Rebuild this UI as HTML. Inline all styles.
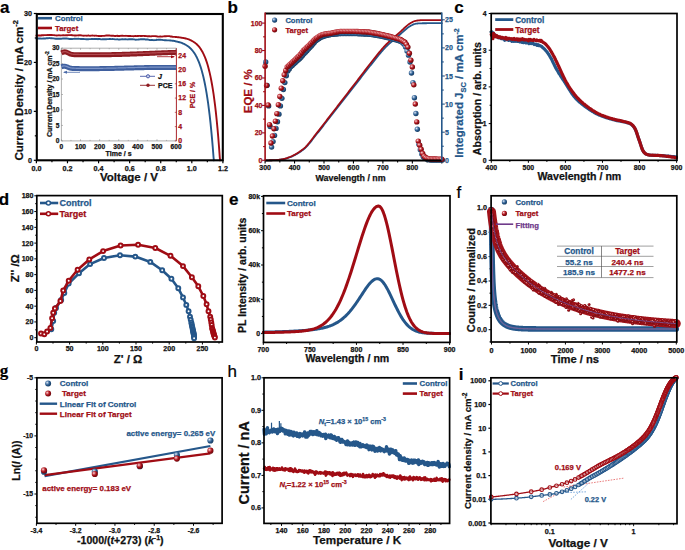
<!DOCTYPE html>
<html><head><meta charset="utf-8"><style>
html,body{margin:0;padding:0;background:#fff;width:685px;height:550px;overflow:hidden}
svg{display:block}
text{font-family:"Liberation Sans",sans-serif}
</style></head><body>
<svg width="685" height="550" viewBox="0 0 685 550" font-family="Liberation Sans, sans-serif">
<defs>
<radialGradient id="bB" cx="0.35" cy="0.35" r="0.7"><stop offset="0" stop-color="#e6eef8"/><stop offset="0.3" stop-color="#6f93bb"/><stop offset="0.6" stop-color="#25578a"/><stop offset="1" stop-color="#173a5e"/></radialGradient>
<radialGradient id="bR2" cx="0.35" cy="0.35" r="0.6"><stop offset="0" stop-color="#f0c0c0"/><stop offset="0.35" stop-color="#a00c14"/><stop offset="1" stop-color="#7a1014"/></radialGradient>
<radialGradient id="bR" cx="0.35" cy="0.35" r="0.7"><stop offset="0" stop-color="#fbe4e4"/><stop offset="0.3" stop-color="#d0565c"/><stop offset="0.6" stop-color="#a00c14"/><stop offset="1" stop-color="#650a0e"/></radialGradient>
</defs>
<rect width="685" height="550" fill="#fff"/>
<text x="0.1" y="12.6" font-size="17" text-anchor="start" fill="#000" font-weight="bold" stroke="#000" stroke-width="0.2">a</text>
<text x="227.6" y="12.6" font-size="17" text-anchor="start" fill="#000" font-weight="bold" stroke="#000" stroke-width="0.2">b</text>
<text x="454.2" y="12.7" font-size="17" text-anchor="start" fill="#000" font-weight="bold" stroke="#000" stroke-width="0.2">c</text>
<text x="-1.3" y="205.4" font-size="17" text-anchor="start" fill="#000" font-weight="bold" stroke="#000" stroke-width="0.2">d</text>
<text x="228.9" y="205.3" font-size="17" text-anchor="start" fill="#000" font-weight="bold" stroke="#000" stroke-width="0.2">e</text>
<text x="456.5" y="197.5" font-size="17" text-anchor="start" fill="#000" font-weight="normal" stroke="#000" stroke-width="0.2">f</text>
<text x="-0.3" y="376" font-size="17" text-anchor="start" fill="#000" font-weight="bold" stroke="#000" stroke-width="0.2" style="font-family:Liberation Serif">g</text>
<text x="227.6" y="377.2" font-size="17" text-anchor="start" fill="#000" font-weight="normal" stroke="#000" stroke-width="0.2">h</text>
<text x="458.7" y="379.6" font-size="17" text-anchor="start" fill="#000" font-weight="bold" stroke="#000" stroke-width="0.2">i</text>
<line x1="36.4" y1="160.3" x2="36.4" y2="163.3" stroke="#000" stroke-width="1.2" />
<line x1="51.94" y1="160.3" x2="51.94" y2="162.3" stroke="#000" stroke-width="1.2" />
<line x1="67.48" y1="160.3" x2="67.48" y2="163.3" stroke="#000" stroke-width="1.2" />
<line x1="83.03" y1="160.3" x2="83.03" y2="162.3" stroke="#000" stroke-width="1.2" />
<line x1="98.57" y1="160.3" x2="98.57" y2="163.3" stroke="#000" stroke-width="1.2" />
<line x1="114.11" y1="160.3" x2="114.11" y2="162.3" stroke="#000" stroke-width="1.2" />
<line x1="129.65" y1="160.3" x2="129.65" y2="163.3" stroke="#000" stroke-width="1.2" />
<line x1="145.19" y1="160.3" x2="145.19" y2="162.3" stroke="#000" stroke-width="1.2" />
<line x1="160.73" y1="160.3" x2="160.73" y2="163.3" stroke="#000" stroke-width="1.2" />
<line x1="176.28" y1="160.3" x2="176.28" y2="162.3" stroke="#000" stroke-width="1.2" />
<line x1="191.82" y1="160.3" x2="191.82" y2="163.3" stroke="#000" stroke-width="1.2" />
<line x1="207.36" y1="160.3" x2="207.36" y2="162.3" stroke="#000" stroke-width="1.2" />
<line x1="222.9" y1="160.3" x2="222.9" y2="163.3" stroke="#000" stroke-width="1.2" />
<line x1="36.8" y1="160.3" x2="33.8" y2="160.3" stroke="#000" stroke-width="1.2" />
<line x1="36.8" y1="135.83" x2="34.8" y2="135.83" stroke="#000" stroke-width="1.2" />
<line x1="36.8" y1="111.37" x2="33.8" y2="111.37" stroke="#000" stroke-width="1.2" />
<line x1="36.8" y1="86.9" x2="34.8" y2="86.9" stroke="#000" stroke-width="1.2" />
<line x1="36.8" y1="62.43" x2="33.8" y2="62.43" stroke="#000" stroke-width="1.2" />
<line x1="36.8" y1="37.97" x2="34.8" y2="37.97" stroke="#000" stroke-width="1.2" />
<line x1="36.8" y1="13.5" x2="33.8" y2="13.5" stroke="#000" stroke-width="1.2" />
<text x="36.4" y="170.8" font-size="7.2" text-anchor="middle" fill="#111" font-weight="bold" stroke="#111" stroke-width="0.25">0.0</text>
<text x="67.48" y="170.8" font-size="7.2" text-anchor="middle" fill="#111" font-weight="bold" stroke="#111" stroke-width="0.25">0.2</text>
<text x="98.57" y="170.8" font-size="7.2" text-anchor="middle" fill="#111" font-weight="bold" stroke="#111" stroke-width="0.25">0.4</text>
<text x="129.65" y="170.8" font-size="7.2" text-anchor="middle" fill="#111" font-weight="bold" stroke="#111" stroke-width="0.25">0.6</text>
<text x="160.73" y="170.8" font-size="7.2" text-anchor="middle" fill="#111" font-weight="bold" stroke="#111" stroke-width="0.25">0.8</text>
<text x="191.82" y="170.8" font-size="7.2" text-anchor="middle" fill="#111" font-weight="bold" stroke="#111" stroke-width="0.25">1.0</text>
<text x="222.9" y="170.8" font-size="7.2" text-anchor="middle" fill="#111" font-weight="bold" stroke="#111" stroke-width="0.25">1.2</text>
<text x="32" y="162.8" font-size="7.2" text-anchor="end" fill="#111" font-weight="bold" stroke="#111" stroke-width="0.25">0</text>
<text x="32" y="113.87" font-size="7.2" text-anchor="end" fill="#111" font-weight="bold" stroke="#111" stroke-width="0.25">10</text>
<text x="32" y="64.93" font-size="7.2" text-anchor="end" fill="#111" font-weight="bold" stroke="#111" stroke-width="0.25">20</text>
<text x="32" y="16" font-size="7.2" text-anchor="end" fill="#111" font-weight="bold" stroke="#111" stroke-width="0.25">30</text>
<text x="129" y="180.8" font-size="11.5" text-anchor="middle" fill="#111" font-weight="bold" stroke="#111" stroke-width="0.25">Voltage / V</text>
<text x="22.8" y="90.4" font-size="11.5" text-anchor="middle" fill="#111" font-weight="bold" stroke="#111" stroke-width="0.25" transform="rotate(-90 22.8 90.4)">Current Density / mA cm<tspan dy="-5" font-size="7.5">-2</tspan></text>
<path d="M36.4,38.46 L37.18,38.53 L37.95,38.57 L38.73,38.51 L39.51,38.55 L40.29,38.56 L41.06,38.68 L41.84,38.57 L42.62,38.63 L43.39,38.54 L44.17,38.45 L44.95,38.51 L45.72,38.44 L46.5,38.27 L47.28,38.23 L48.06,38.22 L48.83,38.1 L49.61,38.07 L50.39,38.18 L51.16,38.22 L51.94,38.26 L52.72,38.34 L53.5,38.43 L54.27,38.52 L55.05,38.58 L55.83,38.73 L56.6,38.8 L57.38,38.73 L58.16,38.7 L58.94,38.78 L59.71,38.78 L60.49,38.81 L61.27,38.76 L62.04,38.68 L62.82,38.56 L63.6,38.47 L64.38,38.54 L65.15,38.56 L65.93,38.5 L66.71,38.53 L67.48,38.68 L68.26,38.77 L69.04,38.86 L69.81,39.05 L70.59,38.96 L71.37,38.97 L72.15,39.07 L72.92,38.86 L73.7,38.84 L74.48,38.79 L75.25,38.82 L76.03,38.73 L76.81,38.83 L77.59,38.82 L78.36,38.73 L79.14,38.89 L79.92,38.87 L80.69,38.93 L81.47,38.85 L82.25,38.96 L83.03,39.01 L83.8,38.98 L84.58,39.09 L85.36,39.14 L86.13,39.27 L86.91,39.14 L87.69,39.24 L88.46,39.21 L89.24,39.17 L90.02,39.12 L90.8,39.17 L91.57,39.01 L92.35,38.93 L93.13,39.13 L93.9,38.97 L94.68,38.93 L95.46,38.86 L96.24,38.95 L97.01,38.97 L97.79,39.2 L98.57,39.05 L99.34,38.93 L100.12,39.09 L100.9,39.23 L101.68,39.35 L102.45,39.29 L103.23,39.22 L104.01,39.09 L104.78,39.2 L105.56,39.2 L106.34,39.18 L107.11,39.11 L107.89,39.08 L108.67,39.12 L109.45,39.02 L110.22,39 L111,39.1 L111.78,39.14 L112.55,39.03 L113.33,39.11 L114.11,39.15 L114.89,39.32 L115.66,39.42 L116.44,39.42 L117.22,39.25 L117.99,39.36 L118.77,39.64 L119.55,39.5 L120.33,39.43 L121.1,39.34 L121.88,39.29 L122.66,39.31 L123.43,39.39 L124.21,39.32 L124.99,39.23 L125.76,39.29 L126.54,39.41 L127.32,39.35 L128.1,39.43 L128.87,39.31 L129.65,39.25 L130.43,39.3 L131.2,39.19 L131.98,39.24 L132.76,39.22 L133.54,39.35 L134.31,39.39 L135.09,39.61 L135.87,39.7 L136.64,39.61 L137.42,39.61 L138.2,39.55 L138.97,39.45 L139.75,39.33 L140.53,39.28 L141.31,39.24 L142.08,39.24 L142.86,39.16 L143.64,39.22 L144.41,39.28 L145.19,39.44 L145.97,39.53 L146.75,39.5 L147.52,39.45 L148.3,39.62 L149.08,39.81 L149.85,39.95 L150.63,40.1 L151.41,39.98 L152.19,39.99 L152.96,40.08 L153.74,40.18 L154.52,40.1 L155.29,40.09 L156.07,40 L156.85,39.78 L157.62,39.85 L158.4,39.8 L159.18,39.8 L159.96,39.76 L160.73,39.8 L161.51,39.88 L162.29,39.92 L163.06,40.08 L163.84,40.14 L164.62,40.21 L165.4,40.24 L166.17,40.29 L166.95,40.33 L167.73,40.33 L168.5,40.42 L169.28,40.38 L170.06,40.51 L170.84,40.57 L171.61,40.63 L172.39,40.75 L173.17,40.79 L173.94,40.93 L174.72,40.98 L175.5,41.31 L176.28,41.46 L177.05,41.63 L177.83,41.8 L178.61,42 L179.38,42.21 L180.16,42.44 L180.94,42.69 L181.71,42.96 L182.49,43.26 L183.27,43.58 L184.05,43.93 L184.82,44.32 L185.6,44.74 L186.38,45.2 L187.15,45.7 L187.93,46.24 L188.71,46.84 L189.49,47.49 L190.26,48.19 L191.04,48.97 L191.82,49.81 L192.59,50.73 L193.37,51.74 L194.15,52.84 L194.93,54.04 L195.7,55.35 L196.48,56.78 L197.26,58.34 L198.03,60.04 L198.81,61.9 L199.59,63.94 L200.36,66.16 L201.14,68.58 L201.92,71.23 L202.7,74.13 L203.47,77.29 L204.25,80.74 L205.03,84.51 L205.8,88.63 L206.58,93.13 L207.36,98.04 L208.14,103.41 L208.91,109.27 L209.69,115.67 L210.47,122.67 L211.24,130.31 L212.02,138.66 L212.8,147.78 L213.58,157.74 L213.89,160.3" fill="none" stroke="#25578a" stroke-width="1.9" stroke-linejoin="round" stroke-linecap="round" />
<path d="M36.4,35.53 L37.18,35.44 L37.95,35.42 L38.73,35.47 L39.51,35.43 L40.29,35.42 L41.06,35.49 L41.84,35.25 L42.62,35.23 L43.39,35.28 L44.17,35.15 L44.95,35.16 L45.72,35.16 L46.5,35.13 L47.28,35.06 L48.06,35.13 L48.83,34.95 L49.61,34.91 L50.39,35.03 L51.16,34.99 L51.94,34.99 L52.72,35.08 L53.5,35.08 L54.27,35.11 L55.05,35.35 L55.83,35.42 L56.6,35.43 L57.38,35.43 L58.16,35.34 L58.94,35.29 L59.71,35.38 L60.49,35.43 L61.27,35.33 L62.04,35.35 L62.82,35.3 L63.6,35.28 L64.38,35.32 L65.15,35.4 L65.93,35.17 L66.71,35.26 L67.48,35.25 L68.26,35.11 L69.04,35.13 L69.81,35.09 L70.59,35.16 L71.37,35.06 L72.15,35.22 L72.92,35.4 L73.7,35.35 L74.48,35.5 L75.25,35.5 L76.03,35.56 L76.81,35.41 L77.59,35.42 L78.36,35.43 L79.14,35.16 L79.92,35.39 L80.69,35.32 L81.47,35.36 L82.25,35.58 L83.03,35.66 L83.8,35.69 L84.58,35.66 L85.36,35.67 L86.13,35.61 L86.91,35.68 L87.69,35.62 L88.46,35.42 L89.24,35.69 L90.02,35.86 L90.8,35.66 L91.57,35.66 L92.35,35.54 L93.13,35.58 L93.9,35.63 L94.68,35.77 L95.46,35.65 L96.24,35.63 L97.01,35.86 L97.79,35.88 L98.57,35.98 L99.34,36.03 L100.12,36.1 L100.9,35.93 L101.68,35.96 L102.45,35.92 L103.23,35.9 L104.01,35.85 L104.78,35.79 L105.56,35.65 L106.34,35.41 L107.11,35.52 L107.89,35.47 L108.67,35.45 L109.45,35.54 L110.22,35.64 L111,35.72 L111.78,35.59 L112.55,35.79 L113.33,35.76 L114.11,35.85 L114.89,36.01 L115.66,36.05 L116.44,35.93 L117.22,35.74 L117.99,35.98 L118.77,36.01 L119.55,36.05 L120.33,35.93 L121.1,35.81 L121.88,35.59 L122.66,35.72 L123.43,35.87 L124.21,35.86 L124.99,35.9 L125.76,35.82 L126.54,35.86 L127.32,35.85 L128.1,36.03 L128.87,36.04 L129.65,36.04 L130.43,35.98 L131.2,36.09 L131.98,36.09 L132.76,36.15 L133.54,36.19 L134.31,36.1 L135.09,36.01 L135.87,36.07 L136.64,36.14 L137.42,36.06 L138.2,35.98 L138.97,35.87 L139.75,35.84 L140.53,36.02 L141.31,35.9 L142.08,35.93 L142.86,35.88 L143.64,35.88 L144.41,35.94 L145.19,36.03 L145.97,36.16 L146.75,36.07 L147.52,36.3 L148.3,36.3 L149.08,36.3 L149.85,36.31 L150.63,36.35 L151.41,36.27 L152.19,36.15 L152.96,36.12 L153.74,36.16 L154.52,36.14 L155.29,36.17 L156.07,36.25 L156.85,36.35 L157.62,36.53 L158.4,36.59 L159.18,36.61 L159.96,36.54 L160.73,36.54 L161.51,36.67 L162.29,36.58 L163.06,36.42 L163.84,36.34 L164.62,36.2 L165.4,36.25 L166.17,36.21 L166.95,36.17 L167.73,36.13 L168.5,36.15 L169.28,36.17 L170.06,36.26 L170.84,36.58 L171.61,36.49 L172.39,36.77 L173.17,36.86 L173.94,36.87 L174.72,36.91 L175.5,36.96 L176.28,37.03 L177.05,37.1 L177.83,37.18 L178.61,37.26 L179.38,37.36 L180.16,37.46 L180.94,37.57 L181.71,37.69 L182.49,37.82 L183.27,37.97 L184.05,38.13 L184.82,38.3 L185.6,38.49 L186.38,38.69 L187.15,38.92 L187.93,39.17 L188.71,39.44 L189.49,39.73 L190.26,40.06 L191.04,40.41 L191.82,40.8 L192.59,41.22 L193.37,41.69 L194.15,42.2 L194.93,42.75 L195.7,43.37 L196.48,44.04 L197.26,44.77 L198.03,45.58 L198.81,46.46 L199.59,47.43 L200.36,48.49 L201.14,49.65 L201.92,50.93 L202.7,52.33 L203.47,53.86 L204.25,55.54 L205.03,57.39 L205.8,59.41 L206.58,61.63 L207.36,64.06 L208.14,66.73 L208.91,69.66 L209.69,72.87 L210.47,76.39 L211.24,80.25 L212.02,84.49 L212.8,89.13 L213.58,94.23 L214.35,99.82 L215.13,105.96 L215.91,112.68 L216.68,120.07 L217.46,128.16 L218.24,137.04 L219.01,146.79 L219.79,157.48 L220.1,160.3" fill="none" stroke="#a00c14" stroke-width="1.9" stroke-linejoin="round" stroke-linecap="round" />
<line x1="38" y1="18.2" x2="52" y2="18.2" stroke="#25578a" stroke-width="2.6" />
<text x="55" y="21.2" font-size="7.8" text-anchor="start" fill="#25578a" font-weight="bold" stroke="#25578a" stroke-width="0.25">Control</text>
<line x1="38" y1="28" x2="52" y2="28" stroke="#a00c14" stroke-width="2.6" />
<text x="55" y="31.1" font-size="7.8" text-anchor="start" fill="#a00c14" font-weight="bold" stroke="#a00c14" stroke-width="0.25">Target</text>
<rect x="61.4" y="48.2" width="115.0" height="92.7" fill="#fff" stroke="none"/>
<line x1="61.4" y1="48.2" x2="176.4" y2="48.2" stroke="#999" stroke-width="0.8" />
<line x1="61.4" y1="140.9" x2="176.4" y2="140.9" stroke="#999" stroke-width="0.8" />
<line x1="61.4" y1="48.2" x2="61.4" y2="140.9" stroke="#999" stroke-width="0.8" />
<line x1="176.4" y1="48.2" x2="176.4" y2="140.9" stroke="#a00c14" stroke-width="0.9" />
<line x1="61.4" y1="140.9" x2="61.4" y2="139.3" stroke="#888" stroke-width="0.6" />
<line x1="61.4" y1="48.2" x2="61.4" y2="49.8" stroke="#888" stroke-width="0.6" />
<line x1="70.96" y1="140.9" x2="70.96" y2="139.9" stroke="#888" stroke-width="0.6" />
<line x1="70.96" y1="48.2" x2="70.96" y2="49.2" stroke="#888" stroke-width="0.6" />
<line x1="80.52" y1="140.9" x2="80.52" y2="139.3" stroke="#888" stroke-width="0.6" />
<line x1="80.52" y1="48.2" x2="80.52" y2="49.8" stroke="#888" stroke-width="0.6" />
<line x1="90.08" y1="140.9" x2="90.08" y2="139.9" stroke="#888" stroke-width="0.6" />
<line x1="90.08" y1="48.2" x2="90.08" y2="49.2" stroke="#888" stroke-width="0.6" />
<line x1="99.63" y1="140.9" x2="99.63" y2="139.3" stroke="#888" stroke-width="0.6" />
<line x1="99.63" y1="48.2" x2="99.63" y2="49.8" stroke="#888" stroke-width="0.6" />
<line x1="109.19" y1="140.9" x2="109.19" y2="139.9" stroke="#888" stroke-width="0.6" />
<line x1="109.19" y1="48.2" x2="109.19" y2="49.2" stroke="#888" stroke-width="0.6" />
<line x1="118.75" y1="140.9" x2="118.75" y2="139.3" stroke="#888" stroke-width="0.6" />
<line x1="118.75" y1="48.2" x2="118.75" y2="49.8" stroke="#888" stroke-width="0.6" />
<line x1="128.31" y1="140.9" x2="128.31" y2="139.9" stroke="#888" stroke-width="0.6" />
<line x1="128.31" y1="48.2" x2="128.31" y2="49.2" stroke="#888" stroke-width="0.6" />
<line x1="137.87" y1="140.9" x2="137.87" y2="139.3" stroke="#888" stroke-width="0.6" />
<line x1="137.87" y1="48.2" x2="137.87" y2="49.8" stroke="#888" stroke-width="0.6" />
<line x1="147.42" y1="140.9" x2="147.42" y2="139.9" stroke="#888" stroke-width="0.6" />
<line x1="147.42" y1="48.2" x2="147.42" y2="49.2" stroke="#888" stroke-width="0.6" />
<line x1="156.98" y1="140.9" x2="156.98" y2="139.3" stroke="#888" stroke-width="0.6" />
<line x1="156.98" y1="48.2" x2="156.98" y2="49.8" stroke="#888" stroke-width="0.6" />
<line x1="166.54" y1="140.9" x2="166.54" y2="139.9" stroke="#888" stroke-width="0.6" />
<line x1="166.54" y1="48.2" x2="166.54" y2="49.2" stroke="#888" stroke-width="0.6" />
<line x1="176.1" y1="140.9" x2="176.1" y2="139.3" stroke="#888" stroke-width="0.6" />
<line x1="176.1" y1="48.2" x2="176.1" y2="49.8" stroke="#888" stroke-width="0.6" />
<text x="61.4" y="148.6" font-size="6.6" text-anchor="middle" fill="#111" font-weight="bold" stroke="#111" stroke-width="0.25">0</text>
<line x1="61.4" y1="140.9" x2="63" y2="140.9" stroke="#888" stroke-width="0.6" />
<text x="59.5" y="143.2" font-size="6.6" text-anchor="end" fill="#111" font-weight="bold" stroke="#111" stroke-width="0.25">0</text>
<text x="80.52" y="148.6" font-size="6.6" text-anchor="middle" fill="#111" font-weight="bold" stroke="#111" stroke-width="0.25">100</text>
<line x1="61.4" y1="125.43" x2="63" y2="125.43" stroke="#888" stroke-width="0.6" />
<text x="59.5" y="127.73" font-size="6.6" text-anchor="end" fill="#111" font-weight="bold" stroke="#111" stroke-width="0.25">5</text>
<text x="99.63" y="148.6" font-size="6.6" text-anchor="middle" fill="#111" font-weight="bold" stroke="#111" stroke-width="0.25">200</text>
<line x1="61.4" y1="109.97" x2="63" y2="109.97" stroke="#888" stroke-width="0.6" />
<text x="59.5" y="112.27" font-size="6.6" text-anchor="end" fill="#111" font-weight="bold" stroke="#111" stroke-width="0.25">10</text>
<text x="118.75" y="148.6" font-size="6.6" text-anchor="middle" fill="#111" font-weight="bold" stroke="#111" stroke-width="0.25">300</text>
<line x1="61.4" y1="94.5" x2="63" y2="94.5" stroke="#888" stroke-width="0.6" />
<text x="59.5" y="96.8" font-size="6.6" text-anchor="end" fill="#111" font-weight="bold" stroke="#111" stroke-width="0.25">15</text>
<text x="137.87" y="148.6" font-size="6.6" text-anchor="middle" fill="#111" font-weight="bold" stroke="#111" stroke-width="0.25">400</text>
<line x1="61.4" y1="79.03" x2="63" y2="79.03" stroke="#888" stroke-width="0.6" />
<text x="59.5" y="81.33" font-size="6.6" text-anchor="end" fill="#111" font-weight="bold" stroke="#111" stroke-width="0.25">20</text>
<text x="156.98" y="148.6" font-size="6.6" text-anchor="middle" fill="#111" font-weight="bold" stroke="#111" stroke-width="0.25">500</text>
<line x1="61.4" y1="63.57" x2="63" y2="63.57" stroke="#888" stroke-width="0.6" />
<text x="59.5" y="65.87" font-size="6.6" text-anchor="end" fill="#111" font-weight="bold" stroke="#111" stroke-width="0.25">25</text>
<text x="176.1" y="148.6" font-size="6.6" text-anchor="middle" fill="#111" font-weight="bold" stroke="#111" stroke-width="0.25">600</text>
<line x1="61.4" y1="48.1" x2="63" y2="48.1" stroke="#888" stroke-width="0.6" />
<text x="59.5" y="50.4" font-size="6.6" text-anchor="end" fill="#111" font-weight="bold" stroke="#111" stroke-width="0.25">30</text>
<line x1="176.4" y1="140.9" x2="174.8" y2="140.9" stroke="#a00c14" stroke-width="0.6" />
<text x="178.3" y="143.3" font-size="6.9" text-anchor="start" fill="#a00c14" font-weight="bold" stroke="#a00c14" stroke-width="0.25">0</text>
<line x1="176.4" y1="126.62" x2="174.8" y2="126.62" stroke="#a00c14" stroke-width="0.6" />
<text x="178.3" y="129.02" font-size="6.9" text-anchor="start" fill="#a00c14" font-weight="bold" stroke="#a00c14" stroke-width="0.25">4</text>
<line x1="176.4" y1="112.35" x2="174.8" y2="112.35" stroke="#a00c14" stroke-width="0.6" />
<text x="178.3" y="114.75" font-size="6.9" text-anchor="start" fill="#a00c14" font-weight="bold" stroke="#a00c14" stroke-width="0.25">8</text>
<line x1="176.4" y1="98.07" x2="174.8" y2="98.07" stroke="#a00c14" stroke-width="0.6" />
<text x="178.3" y="100.47" font-size="6.9" text-anchor="start" fill="#a00c14" font-weight="bold" stroke="#a00c14" stroke-width="0.25">12</text>
<line x1="176.4" y1="83.79" x2="174.8" y2="83.79" stroke="#a00c14" stroke-width="0.6" />
<text x="178.3" y="86.19" font-size="6.9" text-anchor="start" fill="#a00c14" font-weight="bold" stroke="#a00c14" stroke-width="0.25">16</text>
<line x1="176.4" y1="69.52" x2="174.8" y2="69.52" stroke="#a00c14" stroke-width="0.6" />
<text x="178.3" y="71.92" font-size="6.9" text-anchor="start" fill="#a00c14" font-weight="bold" stroke="#a00c14" stroke-width="0.25">20</text>
<line x1="176.4" y1="55.24" x2="174.8" y2="55.24" stroke="#a00c14" stroke-width="0.6" />
<text x="178.3" y="57.64" font-size="6.9" text-anchor="start" fill="#a00c14" font-weight="bold" stroke="#a00c14" stroke-width="0.25">24</text>
<text x="118.6" y="156" font-size="7" text-anchor="middle" fill="#111" font-weight="bold" stroke="#111" stroke-width="0.25">Time / s</text>
<text x="51.6" y="94.1" font-size="7" text-anchor="middle" fill="#111" font-weight="bold" stroke="#111" stroke-width="0.25" transform="rotate(-90 51.6 94.1)">Current Density / mA cm<tspan dy="-3" font-size="5">-2</tspan></text>
<text x="195.2" y="95.1" font-size="7" text-anchor="middle" fill="#a00c14" font-weight="bold" stroke="#a00c14" stroke-width="0.25" transform="rotate(-90 195.2 95.1)">PCE / %</text>
<path d="M61.4,66.85 L61.97,66.65 L62.55,66.48 L63.12,66.35 L63.69,66.27 L64.27,66.25 L64.84,66.29 L65.41,66.39 L65.99,66.54 L66.56,66.73 L67.13,66.95 L67.71,67.18 L68.28,67.41 L68.86,67.62 L69.43,67.82 L70,67.99 L70.58,68.13 L71.15,68.25 L71.72,68.34 L72.3,68.41 L72.87,68.46 L73.44,68.5 L74.02,68.53 L74.59,68.55 L75.16,68.57 L75.74,68.58 L76.31,68.59 L76.88,68.6 L77.46,68.6 L78.03,68.61 L78.6,68.62 L79.18,68.62 L79.75,68.63 L80.33,68.63 L80.9,68.64 L81.47,68.64 L82.05,68.65 L82.62,68.65 L83.19,68.65 L83.77,68.66 L84.34,68.66 L84.91,68.66 L85.49,68.67 L86.06,68.67 L86.63,68.67 L87.21,68.67 L87.78,68.67 L88.35,68.68 L88.93,68.68 L89.5,68.68 L90.08,68.68 L90.65,68.68 L91.22,68.68 L91.8,68.67 L92.37,68.67 L92.94,68.67 L93.52,68.67 L94.09,68.67 L94.66,68.66 L95.24,68.66 L95.81,68.66 L96.38,68.65 L96.96,68.65 L97.53,68.64 L98.1,68.64 L98.68,68.63 L99.25,68.63 L99.82,68.62 L100.4,68.62 L100.97,68.61 L101.54,68.6 L102.12,68.6 L102.69,68.59 L103.27,68.58 L103.84,68.57 L104.41,68.57 L104.99,68.56 L105.56,68.55 L106.13,68.54 L106.71,68.53 L107.28,68.52 L107.85,68.51 L108.43,68.5 L109,68.49 L109.57,68.48 L110.15,68.47 L110.72,68.45 L111.29,68.44 L111.87,68.43 L112.44,68.42 L113.01,68.41 L113.59,68.39 L114.16,68.38 L114.74,68.37 L115.31,68.35 L115.88,68.34 L116.46,68.33 L117.03,68.31 L117.6,68.3 L118.18,68.28 L118.75,68.27 L119.32,68.26 L119.9,68.24 L120.47,68.23 L121.04,68.21 L121.62,68.2 L122.19,68.18 L122.76,68.17 L123.34,68.15 L123.91,68.14 L124.48,68.12 L125.06,68.11 L125.63,68.09 L126.21,68.07 L126.78,68.06 L127.35,68.04 L127.93,68.03 L128.5,68.01 L129.07,68 L129.65,67.98 L130.22,67.97 L130.79,67.95 L131.37,67.94 L131.94,67.92 L132.51,67.91 L133.09,67.89 L133.66,67.88 L134.23,67.86 L134.81,67.85 L135.38,67.83 L135.95,67.82 L136.53,67.8 L137.1,67.79 L137.68,67.77 L138.25,67.76 L138.82,67.75 L139.4,67.73 L139.97,67.72 L140.54,67.71 L141.12,67.69 L141.69,67.68 L142.26,67.67 L142.84,67.66 L143.41,67.64 L143.98,67.63 L144.56,67.62 L145.13,67.61 L145.7,67.6 L146.28,67.59 L146.85,67.58 L147.42,67.57 L148,67.56 L148.57,67.55 L149.15,67.54 L149.72,67.53 L150.29,67.52 L150.87,67.51 L151.44,67.5 L152.01,67.49 L152.59,67.49 L153.16,67.48 L153.73,67.47 L154.31,67.47 L154.88,67.46 L155.45,67.45 L156.03,67.45 L156.6,67.44 L157.17,67.44 L157.75,67.43 L158.32,67.43 L158.89,67.43 L159.47,67.42 L160.04,67.42 L160.62,67.42 L161.19,67.41 L161.76,67.41 L162.34,67.41 L162.91,67.41 L163.48,67.41 L164.06,67.41 L164.63,67.41 L165.2,67.41 L165.78,67.41 L166.35,67.41 L166.92,67.41 L167.5,67.41 L168.07,67.41 L168.64,67.41 L169.22,67.41 L169.79,67.42 L170.36,67.42 L170.94,67.42 L171.51,67.43 L172.09,67.43 L172.66,67.43 L173.23,67.44 L173.81,67.44 L174.38,67.45 L174.95,67.45 L175.53,67.46 L176.1,67.46" fill="none" stroke="#3f5f9e" stroke-width="5.0" stroke-linejoin="round" stroke-linecap="round" style="stroke-linecap:butt"/>
<path d="M61.4,66.54 L61.97,66.34 L62.55,66.17 L63.12,66.04 L63.69,65.96 L64.27,65.94 L64.84,65.98 L65.41,66.08 L65.99,66.23 L66.56,66.42 L67.13,66.64 L67.71,66.87 L68.28,67.1 L68.86,67.32 L69.43,67.51 L70,67.68 L70.58,67.82 L71.15,67.94 L71.72,68.03 L72.3,68.1 L72.87,68.15 L73.44,68.19 L74.02,68.22 L74.59,68.24 L75.16,68.26 L75.74,68.27 L76.31,68.28 L76.88,68.29 L77.46,68.29 L78.03,68.3 L78.6,68.31 L79.18,68.31 L79.75,68.32 L80.33,68.32 L80.9,68.33 L81.47,68.33 L82.05,68.34 L82.62,68.34 L83.19,68.35 L83.77,68.35 L84.34,68.35 L84.91,68.36 L85.49,68.36 L86.06,68.36 L86.63,68.36 L87.21,68.36 L87.78,68.36 L88.35,68.37 L88.93,68.37 L89.5,68.37 L90.08,68.37 L90.65,68.37 L91.22,68.37 L91.8,68.36 L92.37,68.36 L92.94,68.36 L93.52,68.36 L94.09,68.36 L94.66,68.35 L95.24,68.35 L95.81,68.35 L96.38,68.34 L96.96,68.34 L97.53,68.34 L98.1,68.33 L98.68,68.33 L99.25,68.32 L99.82,68.31 L100.4,68.31 L100.97,68.3 L101.54,68.29 L102.12,68.29 L102.69,68.28 L103.27,68.27 L103.84,68.26 L104.41,68.26 L104.99,68.25 L105.56,68.24 L106.13,68.23 L106.71,68.22 L107.28,68.21 L107.85,68.2 L108.43,68.19 L109,68.18 L109.57,68.17 L110.15,68.16 L110.72,68.14 L111.29,68.13 L111.87,68.12 L112.44,68.11 L113.01,68.1 L113.59,68.08 L114.16,68.07 L114.74,68.06 L115.31,68.04 L115.88,68.03 L116.46,68.02 L117.03,68 L117.6,67.99 L118.18,67.97 L118.75,67.96 L119.32,67.95 L119.9,67.93 L120.47,67.92 L121.04,67.9 L121.62,67.89 L122.19,67.87 L122.76,67.86 L123.34,67.84 L123.91,67.83 L124.48,67.81 L125.06,67.8 L125.63,67.78 L126.21,67.77 L126.78,67.75 L127.35,67.73 L127.93,67.72 L128.5,67.7 L129.07,67.69 L129.65,67.67 L130.22,67.66 L130.79,67.64 L131.37,67.63 L131.94,67.61 L132.51,67.6 L133.09,67.58 L133.66,67.57 L134.23,67.55 L134.81,67.54 L135.38,67.52 L135.95,67.51 L136.53,67.49 L137.1,67.48 L137.68,67.47 L138.25,67.45 L138.82,67.44 L139.4,67.42 L139.97,67.41 L140.54,67.4 L141.12,67.38 L141.69,67.37 L142.26,67.36 L142.84,67.35 L143.41,67.33 L143.98,67.32 L144.56,67.31 L145.13,67.3 L145.7,67.29 L146.28,67.28 L146.85,67.27 L147.42,67.26 L148,67.25 L148.57,67.24 L149.15,67.23 L149.72,67.22 L150.29,67.21 L150.87,67.2 L151.44,67.19 L152.01,67.19 L152.59,67.18 L153.16,67.17 L153.73,67.16 L154.31,67.16 L154.88,67.15 L155.45,67.14 L156.03,67.14 L156.6,67.13 L157.17,67.13 L157.75,67.12 L158.32,67.12 L158.89,67.12 L159.47,67.11 L160.04,67.11 L160.62,67.11 L161.19,67.1 L161.76,67.1 L162.34,67.1 L162.91,67.1 L163.48,67.1 L164.06,67.1 L164.63,67.1 L165.2,67.1 L165.78,67.1 L166.35,67.1 L166.92,67.1 L167.5,67.1 L168.07,67.1 L168.64,67.1 L169.22,67.1 L169.79,67.11 L170.36,67.11 L170.94,67.11 L171.51,67.12 L172.09,67.12 L172.66,67.12 L173.23,67.13 L173.81,67.13 L174.38,67.14 L174.95,67.14 L175.53,67.15 L176.1,67.15" fill="none" stroke="#7d95c8" stroke-width="1.2" stroke-linejoin="round" stroke-linecap="round" style="stroke-linecap:butt"/>
<path d="M61.4,52.94 L61.97,52.66 L62.55,52.4 L63.12,52.17 L63.69,52 L64.27,51.89 L64.84,51.85 L65.41,51.9 L65.99,52.02 L66.56,52.21 L67.13,52.46 L67.71,52.73 L68.28,53.02 L68.86,53.31 L69.43,53.59 L70,53.83 L70.58,54.05 L71.15,54.22 L71.72,54.37 L72.3,54.48 L72.87,54.56 L73.44,54.63 L74.02,54.67 L74.59,54.7 L75.16,54.73 L75.74,54.74 L76.31,54.75 L76.88,54.76 L77.46,54.77 L78.03,54.78 L78.6,54.78 L79.18,54.79 L79.75,54.79 L80.33,54.79 L80.9,54.8 L81.47,54.8 L82.05,54.81 L82.62,54.81 L83.19,54.81 L83.77,54.81 L84.34,54.82 L84.91,54.82 L85.49,54.82 L86.06,54.82 L86.63,54.82 L87.21,54.83 L87.78,54.83 L88.35,54.83 L88.93,54.83 L89.5,54.83 L90.08,54.83 L90.65,54.83 L91.22,54.83 L91.8,54.83 L92.37,54.83 L92.94,54.83 L93.52,54.82 L94.09,54.82 L94.66,54.82 L95.24,54.82 L95.81,54.82 L96.38,54.81 L96.96,54.81 L97.53,54.81 L98.1,54.8 L98.68,54.8 L99.25,54.79 L99.82,54.79 L100.4,54.78 L100.97,54.78 L101.54,54.77 L102.12,54.77 L102.69,54.76 L103.27,54.75 L103.84,54.75 L104.41,54.74 L104.99,54.73 L105.56,54.73 L106.13,54.72 L106.71,54.71 L107.28,54.7 L107.85,54.69 L108.43,54.68 L109,54.67 L109.57,54.66 L110.15,54.65 L110.72,54.64 L111.29,54.63 L111.87,54.62 L112.44,54.61 L113.01,54.6 L113.59,54.59 L114.16,54.57 L114.74,54.56 L115.31,54.55 L115.88,54.53 L116.46,54.52 L117.03,54.51 L117.6,54.49 L118.18,54.48 L118.75,54.46 L119.32,54.45 L119.9,54.43 L120.47,54.42 L121.04,54.4 L121.62,54.39 L122.19,54.37 L122.76,54.35 L123.34,54.34 L123.91,54.32 L124.48,54.3 L125.06,54.28 L125.63,54.27 L126.21,54.25 L126.78,54.23 L127.35,54.21 L127.93,54.19 L128.5,54.17 L129.07,54.16 L129.65,54.14 L130.22,54.12 L130.79,54.1 L131.37,54.08 L131.94,54.06 L132.51,54.04 L133.09,54.01 L133.66,53.99 L134.23,53.97 L134.81,53.95 L135.38,53.93 L135.95,53.91 L136.53,53.89 L137.1,53.87 L137.68,53.84 L138.25,53.82 L138.82,53.8 L139.4,53.78 L139.97,53.75 L140.54,53.73 L141.12,53.71 L141.69,53.69 L142.26,53.66 L142.84,53.64 L143.41,53.62 L143.98,53.59 L144.56,53.57 L145.13,53.55 L145.7,53.52 L146.28,53.5 L146.85,53.48 L147.42,53.45 L148,53.43 L148.57,53.4 L149.15,53.38 L149.72,53.36 L150.29,53.33 L150.87,53.31 L151.44,53.29 L152.01,53.26 L152.59,53.24 L153.16,53.21 L153.73,53.19 L154.31,53.17 L154.88,53.14 L155.45,53.12 L156.03,53.1 L156.6,53.07 L157.17,53.05 L157.75,53.03 L158.32,53 L158.89,52.98 L159.47,52.96 L160.04,52.93 L160.62,52.91 L161.19,52.89 L161.76,52.86 L162.34,52.84 L162.91,52.82 L163.48,52.8 L164.06,52.77 L164.63,52.75 L165.2,52.73 L165.78,52.71 L166.35,52.68 L166.92,52.66 L167.5,52.64 L168.07,52.62 L168.64,52.6 L169.22,52.58 L169.79,52.56 L170.36,52.54 L170.94,52.52 L171.51,52.5 L172.09,52.48 L172.66,52.46 L173.23,52.44 L173.81,52.42 L174.38,52.4 L174.95,52.38 L175.53,52.36 L176.1,52.34" fill="none" stroke="#8c1a20" stroke-width="5.0" stroke-linejoin="round" stroke-linecap="round" style="stroke-linecap:butt"/>
<path d="M61.4,52.63 L61.97,52.35 L62.55,52.09 L63.12,51.86 L63.69,51.69 L64.27,51.58 L64.84,51.55 L65.41,51.59 L65.99,51.71 L66.56,51.9 L67.13,52.15 L67.71,52.42 L68.28,52.71 L68.86,53 L69.43,53.28 L70,53.52 L70.58,53.74 L71.15,53.92 L71.72,54.06 L72.3,54.17 L72.87,54.26 L73.44,54.32 L74.02,54.36 L74.59,54.39 L75.16,54.42 L75.74,54.43 L76.31,54.44 L76.88,54.45 L77.46,54.46 L78.03,54.47 L78.6,54.47 L79.18,54.48 L79.75,54.48 L80.33,54.49 L80.9,54.49 L81.47,54.49 L82.05,54.5 L82.62,54.5 L83.19,54.5 L83.77,54.5 L84.34,54.51 L84.91,54.51 L85.49,54.51 L86.06,54.51 L86.63,54.52 L87.21,54.52 L87.78,54.52 L88.35,54.52 L88.93,54.52 L89.5,54.52 L90.08,54.52 L90.65,54.52 L91.22,54.52 L91.8,54.52 L92.37,54.52 L92.94,54.52 L93.52,54.52 L94.09,54.51 L94.66,54.51 L95.24,54.51 L95.81,54.51 L96.38,54.5 L96.96,54.5 L97.53,54.5 L98.1,54.49 L98.68,54.49 L99.25,54.48 L99.82,54.48 L100.4,54.47 L100.97,54.47 L101.54,54.46 L102.12,54.46 L102.69,54.45 L103.27,54.45 L103.84,54.44 L104.41,54.43 L104.99,54.42 L105.56,54.42 L106.13,54.41 L106.71,54.4 L107.28,54.39 L107.85,54.38 L108.43,54.37 L109,54.36 L109.57,54.35 L110.15,54.34 L110.72,54.33 L111.29,54.32 L111.87,54.31 L112.44,54.3 L113.01,54.29 L113.59,54.28 L114.16,54.26 L114.74,54.25 L115.31,54.24 L115.88,54.23 L116.46,54.21 L117.03,54.2 L117.6,54.18 L118.18,54.17 L118.75,54.15 L119.32,54.14 L119.9,54.12 L120.47,54.11 L121.04,54.09 L121.62,54.08 L122.19,54.06 L122.76,54.04 L123.34,54.03 L123.91,54.01 L124.48,53.99 L125.06,53.98 L125.63,53.96 L126.21,53.94 L126.78,53.92 L127.35,53.9 L127.93,53.88 L128.5,53.87 L129.07,53.85 L129.65,53.83 L130.22,53.81 L130.79,53.79 L131.37,53.77 L131.94,53.75 L132.51,53.73 L133.09,53.71 L133.66,53.68 L134.23,53.66 L134.81,53.64 L135.38,53.62 L135.95,53.6 L136.53,53.58 L137.1,53.56 L137.68,53.53 L138.25,53.51 L138.82,53.49 L139.4,53.47 L139.97,53.44 L140.54,53.42 L141.12,53.4 L141.69,53.38 L142.26,53.35 L142.84,53.33 L143.41,53.31 L143.98,53.28 L144.56,53.26 L145.13,53.24 L145.7,53.21 L146.28,53.19 L146.85,53.17 L147.42,53.14 L148,53.12 L148.57,53.1 L149.15,53.07 L149.72,53.05 L150.29,53.02 L150.87,53 L151.44,52.98 L152.01,52.95 L152.59,52.93 L153.16,52.91 L153.73,52.88 L154.31,52.86 L154.88,52.83 L155.45,52.81 L156.03,52.79 L156.6,52.76 L157.17,52.74 L157.75,52.72 L158.32,52.69 L158.89,52.67 L159.47,52.65 L160.04,52.62 L160.62,52.6 L161.19,52.58 L161.76,52.55 L162.34,52.53 L162.91,52.51 L163.48,52.49 L164.06,52.46 L164.63,52.44 L165.2,52.42 L165.78,52.4 L166.35,52.38 L166.92,52.35 L167.5,52.33 L168.07,52.31 L168.64,52.29 L169.22,52.27 L169.79,52.25 L170.36,52.23 L170.94,52.21 L171.51,52.19 L172.09,52.17 L172.66,52.15 L173.23,52.13 L173.81,52.11 L174.38,52.09 L174.95,52.07 L175.53,52.05 L176.1,52.03" fill="none" stroke="#b24a50" stroke-width="1.2" stroke-linejoin="round" stroke-linecap="round" style="stroke-linecap:butt"/>
<line x1="64" y1="72.3" x2="80" y2="72.3" stroke="#4a6aa8" stroke-width="0.8" />
<path d="M63,72.3 L67,70.8 L67,73.8 Z" fill="#4a6aa8"/>
<line x1="157" y1="56.7" x2="174" y2="56.7" stroke="#a00c14" stroke-width="0.8" />
<path d="M175,56.7 L171,55.2 L171,58.2 Z" fill="#a00c14"/>
<line x1="140" y1="76.3" x2="155" y2="76.3" stroke="#4a5aa8" stroke-width="0.9" />
<circle cx="148" cy="76.3" r="1.6" fill="#c8d0ea" stroke="#4a5aa8" stroke-width="1"/>
<text x="158" y="79" font-size="7" text-anchor="start" fill="#111" font-weight="bold" stroke="#111" stroke-width="0.25" style="font-style:italic">J</text>
<line x1="140" y1="85.3" x2="155" y2="85.3" stroke="#8e1c22" stroke-width="0.9" />
<circle cx="148" cy="85.3" r="1.7" fill="#8e1c22"/>
<text x="158" y="87.6" font-size="7" text-anchor="start" fill="#111" font-weight="bold" stroke="#111" stroke-width="0.25">PCE</text>
<rect x="36.8" y="14" width="186" height="146.3" fill="none" stroke="#000" stroke-width="2.1"/>
<line x1="265.1" y1="160.5" x2="265.1" y2="163.5" stroke="#000" stroke-width="1.1" />
<line x1="279.83" y1="160.5" x2="279.83" y2="162.5" stroke="#000" stroke-width="1.1" />
<line x1="294.55" y1="160.5" x2="294.55" y2="163.5" stroke="#000" stroke-width="1.1" />
<line x1="309.28" y1="160.5" x2="309.28" y2="162.5" stroke="#000" stroke-width="1.1" />
<line x1="324" y1="160.5" x2="324" y2="163.5" stroke="#000" stroke-width="1.1" />
<line x1="338.73" y1="160.5" x2="338.73" y2="162.5" stroke="#000" stroke-width="1.1" />
<line x1="353.45" y1="160.5" x2="353.45" y2="163.5" stroke="#000" stroke-width="1.1" />
<line x1="368.18" y1="160.5" x2="368.18" y2="162.5" stroke="#000" stroke-width="1.1" />
<line x1="382.9" y1="160.5" x2="382.9" y2="163.5" stroke="#000" stroke-width="1.1" />
<line x1="397.62" y1="160.5" x2="397.62" y2="162.5" stroke="#000" stroke-width="1.1" />
<line x1="412.35" y1="160.5" x2="412.35" y2="163.5" stroke="#000" stroke-width="1.1" />
<line x1="427.08" y1="160.5" x2="427.08" y2="162.5" stroke="#000" stroke-width="1.1" />
<line x1="441.8" y1="160.5" x2="441.8" y2="163.5" stroke="#000" stroke-width="1.1" />
<text x="265.1" y="170.3" font-size="7" text-anchor="middle" fill="#111" font-weight="bold" stroke="#111" stroke-width="0.25">300</text>
<text x="294.55" y="170.3" font-size="7" text-anchor="middle" fill="#111" font-weight="bold" stroke="#111" stroke-width="0.25">400</text>
<text x="324" y="170.3" font-size="7" text-anchor="middle" fill="#111" font-weight="bold" stroke="#111" stroke-width="0.25">500</text>
<text x="353.45" y="170.3" font-size="7" text-anchor="middle" fill="#111" font-weight="bold" stroke="#111" stroke-width="0.25">600</text>
<text x="382.9" y="170.3" font-size="7" text-anchor="middle" fill="#111" font-weight="bold" stroke="#111" stroke-width="0.25">700</text>
<text x="412.35" y="170.3" font-size="7" text-anchor="middle" fill="#111" font-weight="bold" stroke="#111" stroke-width="0.25">800</text>
<line x1="265.1" y1="160.3" x2="262.1" y2="160.3" stroke="#a00c14" stroke-width="1.1" />
<line x1="265.1" y1="146.58" x2="263.1" y2="146.58" stroke="#a00c14" stroke-width="1.1" />
<line x1="265.1" y1="132.86" x2="262.1" y2="132.86" stroke="#a00c14" stroke-width="1.1" />
<line x1="265.1" y1="119.14" x2="263.1" y2="119.14" stroke="#a00c14" stroke-width="1.1" />
<line x1="265.1" y1="105.42" x2="262.1" y2="105.42" stroke="#a00c14" stroke-width="1.1" />
<line x1="265.1" y1="91.7" x2="263.1" y2="91.7" stroke="#a00c14" stroke-width="1.1" />
<line x1="265.1" y1="77.98" x2="262.1" y2="77.98" stroke="#a00c14" stroke-width="1.1" />
<line x1="265.1" y1="64.26" x2="263.1" y2="64.26" stroke="#a00c14" stroke-width="1.1" />
<line x1="265.1" y1="50.54" x2="262.1" y2="50.54" stroke="#a00c14" stroke-width="1.1" />
<line x1="265.1" y1="36.82" x2="263.1" y2="36.82" stroke="#a00c14" stroke-width="1.1" />
<line x1="265.1" y1="23.1" x2="262.1" y2="23.1" stroke="#a00c14" stroke-width="1.1" />
<text x="262.5" y="162.8" font-size="7" text-anchor="end" fill="#a00c14" font-weight="bold" stroke="#a00c14" stroke-width="0.25">0</text>
<text x="262.5" y="135.36" font-size="7" text-anchor="end" fill="#a00c14" font-weight="bold" stroke="#a00c14" stroke-width="0.25">20</text>
<text x="262.5" y="107.92" font-size="7" text-anchor="end" fill="#a00c14" font-weight="bold" stroke="#a00c14" stroke-width="0.25">40</text>
<text x="262.5" y="80.48" font-size="7" text-anchor="end" fill="#a00c14" font-weight="bold" stroke="#a00c14" stroke-width="0.25">60</text>
<text x="262.5" y="53.04" font-size="7" text-anchor="end" fill="#a00c14" font-weight="bold" stroke="#a00c14" stroke-width="0.25">80</text>
<text x="262.5" y="25.6" font-size="7" text-anchor="end" fill="#a00c14" font-weight="bold" stroke="#a00c14" stroke-width="0.25">100</text>
<line x1="441.8" y1="160.3" x2="444.8" y2="160.3" stroke="#25578a" stroke-width="1.1" />
<line x1="441.8" y1="146.25" x2="443.8" y2="146.25" stroke="#25578a" stroke-width="1.1" />
<line x1="441.8" y1="132.2" x2="444.8" y2="132.2" stroke="#25578a" stroke-width="1.1" />
<line x1="441.8" y1="118.15" x2="443.8" y2="118.15" stroke="#25578a" stroke-width="1.1" />
<line x1="441.8" y1="104.1" x2="444.8" y2="104.1" stroke="#25578a" stroke-width="1.1" />
<line x1="441.8" y1="90.05" x2="443.8" y2="90.05" stroke="#25578a" stroke-width="1.1" />
<line x1="441.8" y1="76" x2="444.8" y2="76" stroke="#25578a" stroke-width="1.1" />
<line x1="441.8" y1="61.95" x2="443.8" y2="61.95" stroke="#25578a" stroke-width="1.1" />
<line x1="441.8" y1="47.9" x2="444.8" y2="47.9" stroke="#25578a" stroke-width="1.1" />
<line x1="441.8" y1="33.85" x2="443.8" y2="33.85" stroke="#25578a" stroke-width="1.1" />
<line x1="441.8" y1="19.8" x2="444.8" y2="19.8" stroke="#25578a" stroke-width="1.1" />
<text x="445" y="162.8" font-size="7" text-anchor="start" fill="#25578a" font-weight="bold" stroke="#25578a" stroke-width="0.25">0</text>
<text x="445" y="134.7" font-size="7" text-anchor="start" fill="#25578a" font-weight="bold" stroke="#25578a" stroke-width="0.25">5</text>
<text x="445" y="106.6" font-size="7" text-anchor="start" fill="#25578a" font-weight="bold" stroke="#25578a" stroke-width="0.25">10</text>
<text x="445" y="78.5" font-size="7" text-anchor="start" fill="#25578a" font-weight="bold" stroke="#25578a" stroke-width="0.25">15</text>
<text x="445" y="50.4" font-size="7" text-anchor="start" fill="#25578a" font-weight="bold" stroke="#25578a" stroke-width="0.25">20</text>
<text x="445" y="22.3" font-size="7" text-anchor="start" fill="#25578a" font-weight="bold" stroke="#25578a" stroke-width="0.25">25</text>
<text x="350.6" y="181.4" font-size="8.9" text-anchor="middle" fill="#111" font-weight="bold" stroke="#111" stroke-width="0.25">Wavelength / nm</text>
<text x="252.4" y="91.2" font-size="11.5" text-anchor="middle" fill="#a00c14" font-weight="bold" stroke="#a00c14" stroke-width="0.25" transform="rotate(-90 252.4 91.2)">EQE / %</text>
<text x="463.2" y="93" font-size="11.5" text-anchor="middle" fill="#25578a" font-weight="bold" stroke="#25578a" stroke-width="0.25" transform="rotate(-90 463.2 93)">Integrated J<tspan dy="3" font-size="7.5">SC</tspan><tspan dy="-3"> / mA cm</tspan><tspan dy="-4" font-size="7">-2</tspan></text>
<path d="M265.1,160.3 L265.69,160.3 L266.28,160.3 L266.87,160.29 L267.46,160.29 L268.05,160.29 L268.63,160.28 L269.22,160.27 L269.81,160.26 L270.4,160.26 L270.99,160.25 L271.58,160.24 L272.17,160.22 L272.76,160.21 L273.35,160.2 L273.94,160.19 L274.52,160.17 L275.11,160.14 L275.7,160.11 L276.29,160.07 L276.88,160.02 L277.47,159.97 L278.06,159.91 L278.65,159.85 L279.24,159.78 L279.83,159.71 L280.41,159.63 L281,159.55 L281.59,159.46 L282.18,159.38 L282.77,159.29 L283.36,159.19 L283.95,159.07 L284.54,158.94 L285.13,158.8 L285.72,158.64 L286.3,158.47 L286.89,158.29 L287.48,158.1 L288.07,157.9 L288.66,157.69 L289.25,157.48 L289.84,157.26 L290.43,157.04 L291.02,156.81 L291.61,156.56 L292.19,156.31 L292.78,156.04 L293.37,155.77 L293.96,155.48 L294.55,155.18 L295.14,154.88 L295.73,154.56 L296.32,154.23 L296.91,153.89 L297.5,153.54 L298.08,153.18 L298.67,152.81 L299.26,152.43 L299.85,152.04 L300.44,151.64 L301.03,151.23 L301.62,150.81 L302.21,150.39 L302.8,149.95 L303.38,149.5 L303.97,149.04 L304.56,148.54 L305.15,148.01 L305.74,147.45 L306.33,146.85 L306.92,146.24 L307.51,145.59 L308.1,144.93 L308.69,144.24 L309.28,143.54 L309.86,142.82 L310.45,142.08 L311.04,141.34 L311.63,140.58 L312.22,139.82 L312.81,139.06 L313.4,138.29 L313.99,137.52 L314.58,136.76 L315.17,135.99 L315.75,135.24 L316.34,134.49 L316.93,133.76 L317.52,133.04 L318.11,132.31 L318.7,131.58 L319.29,130.84 L319.88,130.1 L320.47,129.36 L321.06,128.61 L321.64,127.85 L322.23,127.1 L322.82,126.34 L323.41,125.58 L324,124.82 L324.59,124.05 L325.18,123.29 L325.77,122.52 L326.36,121.76 L326.95,120.99 L327.53,120.23 L328.12,119.46 L328.71,118.7 L329.3,117.94 L329.89,117.18 L330.48,116.43 L331.07,115.68 L331.66,114.93 L332.25,114.18 L332.84,113.43 L333.42,112.68 L334.01,111.93 L334.6,111.19 L335.19,110.44 L335.78,109.69 L336.37,108.95 L336.96,108.2 L337.55,107.45 L338.14,106.71 L338.73,105.96 L339.31,105.22 L339.9,104.47 L340.49,103.72 L341.08,102.98 L341.67,102.23 L342.26,101.48 L342.85,100.73 L343.44,99.98 L344.03,99.23 L344.62,98.48 L345.2,97.73 L345.79,96.97 L346.38,96.22 L346.97,95.47 L347.56,94.71 L348.15,93.95 L348.74,93.2 L349.33,92.44 L349.92,91.68 L350.5,90.93 L351.09,90.17 L351.68,89.41 L352.27,88.65 L352.86,87.9 L353.45,87.14 L354.04,86.38 L354.63,85.62 L355.22,84.87 L355.81,84.11 L356.4,83.36 L356.98,82.6 L357.57,81.85 L358.16,81.1 L358.75,80.34 L359.34,79.59 L359.93,78.83 L360.52,78.08 L361.11,77.32 L361.7,76.56 L362.29,75.81 L362.87,75.05 L363.46,74.29 L364.05,73.54 L364.64,72.78 L365.23,72.03 L365.82,71.27 L366.41,70.52 L367,69.77 L367.59,69.02 L368.18,68.28 L368.76,67.53 L369.35,66.79 L369.94,66.05 L370.53,65.32 L371.12,64.58 L371.71,63.85 L372.3,63.13 L372.89,62.39 L373.48,61.66 L374.06,60.92 L374.65,60.18 L375.24,59.43 L375.83,58.69 L376.42,57.95 L377.01,57.21 L377.6,56.48 L378.19,55.74 L378.78,55.01 L379.37,54.29 L379.96,53.58 L380.54,52.87 L381.13,52.17 L381.72,51.48 L382.31,50.8 L382.9,50.13 L383.49,49.47 L384.08,48.82 L384.67,48.19 L385.26,47.58 L385.85,46.98 L386.43,46.39 L387.02,45.81 L387.61,45.24 L388.2,44.68 L388.79,44.13 L389.38,43.59 L389.97,43.06 L390.56,42.53 L391.15,42.01 L391.74,41.49 L392.32,40.98 L392.91,40.47 L393.5,39.97 L394.09,39.47 L394.68,38.97 L395.27,38.47 L395.86,37.98 L396.45,37.48 L397.04,36.99 L397.62,36.5 L398.21,36 L398.8,35.5 L399.39,35 L399.98,34.49 L400.57,33.97 L401.16,33.44 L401.75,32.91 L402.34,32.37 L402.93,31.83 L403.51,31.29 L404.1,30.76 L404.69,30.24 L405.28,29.72 L405.87,29.21 L406.46,28.72 L407.05,28.24 L407.64,27.79 L408.23,27.35 L408.82,26.93 L409.41,26.55 L409.99,26.18 L410.58,25.85 L411.17,25.55 L411.76,25.25 L412.35,24.96 L412.94,24.68 L413.53,24.43 L414.12,24.2 L414.71,24 L415.3,23.84 L415.88,23.73 L416.47,23.65 L417.06,23.58 L417.65,23.51 L418.24,23.45 L418.83,23.4 L419.42,23.36 L420.01,23.32 L420.6,23.3 L421.19,23.28 L421.77,23.28 L422.36,23.27 L422.95,23.26 L423.54,23.26 L424.13,23.25 L424.72,23.25 L425.31,23.24 L425.9,23.23 L426.49,23.23 L427.08,23.22 L427.66,23.22 L428.25,23.22 L428.84,23.21 L429.43,23.21 L430.02,23.2 L430.61,23.2 L431.2,23.2 L431.79,23.19 L432.38,23.19 L432.97,23.19 L433.55,23.19 L434.14,23.18 L434.73,23.18 L435.32,23.18 L435.91,23.18 L436.5,23.18 L437.09,23.18 L437.68,23.18 L438.27,23.17 L438.86,23.17 L439.44,23.17 L440.03,23.17 L440.62,23.17 L441.21,23.17 L441.8,23.17" fill="none" stroke="#25578a" stroke-width="1.8" stroke-linejoin="round" stroke-linecap="round" />
<path d="M265.1,160.3 L265.69,160.3 L266.28,160.3 L266.87,160.29 L267.46,160.29 L268.05,160.29 L268.63,160.28 L269.22,160.27 L269.81,160.27 L270.4,160.26 L270.99,160.25 L271.58,160.24 L272.17,160.23 L272.76,160.21 L273.35,160.2 L273.94,160.19 L274.52,160.17 L275.11,160.14 L275.7,160.1 L276.29,160.06 L276.88,160.01 L277.47,159.95 L278.06,159.88 L278.65,159.81 L279.24,159.73 L279.83,159.65 L280.41,159.56 L281,159.47 L281.59,159.37 L282.18,159.28 L282.77,159.18 L283.36,159.07 L283.95,158.94 L284.54,158.8 L285.13,158.64 L285.72,158.47 L286.3,158.28 L286.89,158.09 L287.48,157.88 L288.07,157.67 L288.66,157.45 L289.25,157.22 L289.84,156.99 L290.43,156.75 L291.02,156.5 L291.61,156.24 L292.19,155.97 L292.78,155.69 L293.37,155.4 L293.96,155.1 L294.55,154.79 L295.14,154.47 L295.73,154.14 L296.32,153.79 L296.91,153.44 L297.5,153.08 L298.08,152.7 L298.67,152.32 L299.26,151.92 L299.85,151.52 L300.44,151.11 L301.03,150.68 L301.62,150.25 L302.21,149.8 L302.8,149.35 L303.38,148.89 L303.97,148.41 L304.56,147.89 L305.15,147.35 L305.74,146.77 L306.33,146.16 L306.92,145.53 L307.51,144.87 L308.1,144.19 L308.69,143.48 L309.28,142.76 L309.86,142.03 L310.45,141.28 L311.04,140.52 L311.63,139.75 L312.22,138.98 L312.81,138.2 L313.4,137.42 L313.99,136.63 L314.58,135.86 L315.17,135.08 L315.75,134.31 L316.34,133.56 L316.93,132.81 L317.52,132.08 L318.11,131.34 L318.7,130.6 L319.29,129.85 L319.88,129.11 L320.47,128.35 L321.06,127.6 L321.64,126.84 L322.23,126.08 L322.82,125.31 L323.41,124.54 L324,123.78 L324.59,123.01 L325.18,122.24 L325.77,121.47 L326.36,120.69 L326.95,119.92 L327.53,119.15 L328.12,118.38 L328.71,117.61 L329.3,116.84 L329.89,116.08 L330.48,115.31 L331.07,114.55 L331.66,113.79 L332.25,113.03 L332.84,112.26 L333.42,111.5 L334.01,110.74 L334.6,109.98 L335.19,109.22 L335.78,108.46 L336.37,107.69 L336.96,106.93 L337.55,106.17 L338.14,105.41 L338.73,104.65 L339.31,103.89 L339.9,103.12 L340.49,102.36 L341.08,101.6 L341.67,100.84 L342.26,100.07 L342.85,99.31 L343.44,98.55 L344.03,97.78 L344.62,97.02 L345.2,96.25 L345.79,95.49 L346.38,94.73 L346.97,93.96 L347.56,93.2 L348.15,92.43 L348.74,91.67 L349.33,90.9 L349.92,90.13 L350.5,89.37 L351.09,88.6 L351.68,87.84 L352.27,87.07 L352.86,86.31 L353.45,85.54 L354.04,84.77 L354.63,84.01 L355.22,83.24 L355.81,82.47 L356.4,81.71 L356.98,80.94 L357.57,80.18 L358.16,79.41 L358.75,78.64 L359.34,77.87 L359.93,77.1 L360.52,76.33 L361.11,75.55 L361.7,74.78 L362.29,74 L362.87,73.23 L363.46,72.45 L364.05,71.67 L364.64,70.9 L365.23,70.13 L365.82,69.35 L366.41,68.58 L367,67.81 L367.59,67.05 L368.18,66.28 L368.76,65.52 L369.35,64.77 L369.94,64.01 L370.53,63.26 L371.12,62.52 L371.71,61.78 L372.3,61.04 L372.89,60.3 L373.48,59.56 L374.06,58.81 L374.65,58.07 L375.24,57.32 L375.83,56.58 L376.42,55.84 L377.01,55.1 L377.6,54.36 L378.19,53.62 L378.78,52.9 L379.37,52.17 L379.96,51.46 L380.54,50.75 L381.13,50.05 L381.72,49.36 L382.31,48.68 L382.9,48.01 L383.49,47.35 L384.08,46.7 L384.67,46.07 L385.26,45.45 L385.85,44.84 L386.43,44.25 L387.02,43.67 L387.61,43.09 L388.2,42.53 L388.79,41.98 L389.38,41.43 L389.97,40.9 L390.56,40.37 L391.15,39.84 L391.74,39.32 L392.32,38.81 L392.91,38.29 L393.5,37.78 L394.09,37.28 L394.68,36.77 L395.27,36.27 L395.86,35.76 L396.45,35.26 L397.04,34.75 L397.62,34.24 L398.21,33.73 L398.8,33.21 L399.39,32.69 L399.98,32.15 L400.57,31.6 L401.16,31.05 L401.75,30.49 L402.34,29.92 L402.93,29.35 L403.51,28.79 L404.1,28.22 L404.69,27.67 L405.28,27.13 L405.87,26.6 L406.46,26.08 L407.05,25.58 L407.64,25.1 L408.23,24.65 L408.82,24.22 L409.41,23.82 L409.99,23.45 L410.58,23.1 L411.17,22.75 L411.76,22.41 L412.35,22.08 L412.94,21.78 L413.53,21.5 L414.12,21.26 L414.71,21.07 L415.3,20.92 L415.88,20.81 L416.47,20.7 L417.06,20.6 L417.65,20.51 L418.24,20.42 L418.83,20.35 L419.42,20.29 L420.01,20.24 L420.6,20.21 L421.19,20.19 L421.77,20.19 L422.36,20.18 L422.95,20.17 L423.54,20.17 L424.13,20.16 L424.72,20.15 L425.31,20.15 L425.9,20.14 L426.49,20.14 L427.08,20.13 L427.66,20.13 L428.25,20.12 L428.84,20.12 L429.43,20.12 L430.02,20.11 L430.61,20.11 L431.2,20.11 L431.79,20.1 L432.38,20.1 L432.97,20.1 L433.55,20.1 L434.14,20.09 L434.73,20.09 L435.32,20.09 L435.91,20.09 L436.5,20.09 L437.09,20.09 L437.68,20.08 L438.27,20.08 L438.86,20.08 L439.44,20.08 L440.03,20.08 L440.62,20.08 L441.21,20.08 L441.8,20.08" fill="none" stroke="#a00c14" stroke-width="1.8" stroke-linejoin="round" stroke-linecap="round" />
<circle cx="265.7" cy="62.02" r="2.7" fill="url(#bB)"/>
<circle cx="267.17" cy="85.34" r="2.7" fill="url(#bB)"/>
<circle cx="268.65" cy="105.92" r="2.7" fill="url(#bB)"/>
<circle cx="270.12" cy="126.5" r="2.7" fill="url(#bB)"/>
<circle cx="271.59" cy="147.08" r="2.7" fill="url(#bB)"/>
<circle cx="273.06" cy="141.59" r="2.7" fill="url(#bB)"/>
<circle cx="274.54" cy="135.42" r="2.7" fill="url(#bB)"/>
<circle cx="276.01" cy="128.42" r="2.7" fill="url(#bB)"/>
<circle cx="277.48" cy="121.7" r="2.7" fill="url(#bB)"/>
<circle cx="278.95" cy="114.15" r="2.7" fill="url(#bB)"/>
<circle cx="280.43" cy="105.92" r="2.7" fill="url(#bB)"/>
<circle cx="281.9" cy="98.37" r="2.7" fill="url(#bB)"/>
<circle cx="283.37" cy="89.46" r="2.7" fill="url(#bB)"/>
<circle cx="284.84" cy="82.6" r="2.7" fill="url(#bB)"/>
<circle cx="286.32" cy="75.74" r="2.7" fill="url(#bB)"/>
<circle cx="287.79" cy="70.93" r="2.7" fill="url(#bB)"/>
<circle cx="289.26" cy="68.88" r="2.7" fill="url(#bB)"/>
<circle cx="290.73" cy="66.82" r="2.7" fill="url(#bB)"/>
<circle cx="292.21" cy="65.45" r="2.7" fill="url(#bB)"/>
<circle cx="293.68" cy="64.07" r="2.7" fill="url(#bB)"/>
<circle cx="295.15" cy="62.7" r="2.7" fill="url(#bB)"/>
<circle cx="296.62" cy="61.37" r="2.7" fill="url(#bB)"/>
<circle cx="298.1" cy="60.03" r="2.7" fill="url(#bB)"/>
<circle cx="299.57" cy="58.7" r="2.7" fill="url(#bB)"/>
<circle cx="301.04" cy="57.21" r="2.7" fill="url(#bB)"/>
<circle cx="302.51" cy="55.5" r="2.7" fill="url(#bB)"/>
<circle cx="303.99" cy="53.78" r="2.7" fill="url(#bB)"/>
<circle cx="305.46" cy="52.22" r="2.7" fill="url(#bB)"/>
<circle cx="306.93" cy="50.67" r="2.7" fill="url(#bB)"/>
<circle cx="308.4" cy="49.11" r="2.7" fill="url(#bB)"/>
<circle cx="309.88" cy="47.55" r="2.7" fill="url(#bB)"/>
<circle cx="311.35" cy="45.89" r="2.7" fill="url(#bB)"/>
<circle cx="312.82" cy="44.18" r="2.7" fill="url(#bB)"/>
<circle cx="314.29" cy="42.46" r="2.7" fill="url(#bB)"/>
<circle cx="315.77" cy="40.75" r="2.7" fill="url(#bB)"/>
<circle cx="317.24" cy="39.74" r="2.7" fill="url(#bB)"/>
<circle cx="318.71" cy="38.73" r="2.7" fill="url(#bB)"/>
<circle cx="320.18" cy="37.72" r="2.7" fill="url(#bB)"/>
<circle cx="321.66" cy="37" r="2.7" fill="url(#bB)"/>
<circle cx="323.13" cy="36.48" r="2.7" fill="url(#bB)"/>
<circle cx="324.6" cy="35.95" r="2.7" fill="url(#bB)"/>
<circle cx="326.07" cy="35.6" r="2.7" fill="url(#bB)"/>
<circle cx="327.55" cy="35.26" r="2.7" fill="url(#bB)"/>
<circle cx="329.02" cy="34.92" r="2.7" fill="url(#bB)"/>
<circle cx="330.49" cy="34.58" r="2.7" fill="url(#bB)"/>
<circle cx="331.96" cy="34.42" r="2.7" fill="url(#bB)"/>
<circle cx="333.44" cy="34.26" r="2.7" fill="url(#bB)"/>
<circle cx="334.91" cy="34.11" r="2.7" fill="url(#bB)"/>
<circle cx="336.38" cy="33.95" r="2.7" fill="url(#bB)"/>
<circle cx="337.85" cy="33.79" r="2.7" fill="url(#bB)"/>
<circle cx="339.33" cy="33.64" r="2.7" fill="url(#bB)"/>
<circle cx="340.8" cy="33.48" r="2.7" fill="url(#bB)"/>
<circle cx="342.27" cy="33.48" r="2.7" fill="url(#bB)"/>
<circle cx="343.74" cy="33.48" r="2.7" fill="url(#bB)"/>
<circle cx="345.22" cy="33.48" r="2.7" fill="url(#bB)"/>
<circle cx="346.69" cy="33.48" r="2.7" fill="url(#bB)"/>
<circle cx="348.16" cy="33.48" r="2.7" fill="url(#bB)"/>
<circle cx="349.63" cy="33.48" r="2.7" fill="url(#bB)"/>
<circle cx="351.11" cy="33.48" r="2.7" fill="url(#bB)"/>
<circle cx="352.58" cy="33.48" r="2.7" fill="url(#bB)"/>
<circle cx="354.05" cy="33.48" r="2.7" fill="url(#bB)"/>
<circle cx="355.52" cy="33.55" r="2.7" fill="url(#bB)"/>
<circle cx="357" cy="33.62" r="2.7" fill="url(#bB)"/>
<circle cx="358.47" cy="33.68" r="2.7" fill="url(#bB)"/>
<circle cx="359.94" cy="33.75" r="2.7" fill="url(#bB)"/>
<circle cx="361.41" cy="33.82" r="2.7" fill="url(#bB)"/>
<circle cx="362.89" cy="33.89" r="2.7" fill="url(#bB)"/>
<circle cx="364.36" cy="33.96" r="2.7" fill="url(#bB)"/>
<circle cx="365.83" cy="34.03" r="2.7" fill="url(#bB)"/>
<circle cx="367.3" cy="34.1" r="2.7" fill="url(#bB)"/>
<circle cx="368.78" cy="34.16" r="2.7" fill="url(#bB)"/>
<circle cx="370.25" cy="34.39" r="2.7" fill="url(#bB)"/>
<circle cx="371.72" cy="34.61" r="2.7" fill="url(#bB)"/>
<circle cx="373.19" cy="34.83" r="2.7" fill="url(#bB)"/>
<circle cx="374.67" cy="35.06" r="2.7" fill="url(#bB)"/>
<circle cx="376.14" cy="35.28" r="2.7" fill="url(#bB)"/>
<circle cx="377.61" cy="35.5" r="2.7" fill="url(#bB)"/>
<circle cx="379.08" cy="35.73" r="2.7" fill="url(#bB)"/>
<circle cx="380.56" cy="35.95" r="2.7" fill="url(#bB)"/>
<circle cx="382.03" cy="36.29" r="2.7" fill="url(#bB)"/>
<circle cx="383.5" cy="36.63" r="2.7" fill="url(#bB)"/>
<circle cx="384.97" cy="36.98" r="2.7" fill="url(#bB)"/>
<circle cx="386.45" cy="37.32" r="2.7" fill="url(#bB)"/>
<circle cx="387.92" cy="37.66" r="2.7" fill="url(#bB)"/>
<circle cx="389.39" cy="38.01" r="2.7" fill="url(#bB)"/>
<circle cx="390.86" cy="38.42" r="2.7" fill="url(#bB)"/>
<circle cx="392.34" cy="38.83" r="2.7" fill="url(#bB)"/>
<circle cx="393.81" cy="39.24" r="2.7" fill="url(#bB)"/>
<circle cx="395.28" cy="39.65" r="2.7" fill="url(#bB)"/>
<circle cx="396.75" cy="40.06" r="2.7" fill="url(#bB)"/>
<circle cx="398.23" cy="40.52" r="2.7" fill="url(#bB)"/>
<circle cx="399.7" cy="40.98" r="2.7" fill="url(#bB)"/>
<circle cx="401.17" cy="41.44" r="2.7" fill="url(#bB)"/>
<circle cx="402.64" cy="42.81" r="2.7" fill="url(#bB)"/>
<circle cx="404.12" cy="44.18" r="2.7" fill="url(#bB)"/>
<circle cx="405.59" cy="46.92" r="2.7" fill="url(#bB)"/>
<circle cx="407.06" cy="51.04" r="2.7" fill="url(#bB)"/>
<circle cx="408.53" cy="55.16" r="2.7" fill="url(#bB)"/>
<circle cx="410.01" cy="62.02" r="2.7" fill="url(#bB)"/>
<circle cx="411.48" cy="72.99" r="2.7" fill="url(#bB)"/>
<circle cx="412.95" cy="82.6" r="2.7" fill="url(#bB)"/>
<circle cx="414.42" cy="97.69" r="2.7" fill="url(#bB)"/>
<circle cx="415.9" cy="113.47" r="2.7" fill="url(#bB)"/>
<circle cx="417.37" cy="129.24" r="2.7" fill="url(#bB)"/>
<circle cx="418.84" cy="144.34" r="2.7" fill="url(#bB)"/>
<circle cx="420.31" cy="149.82" r="2.7" fill="url(#bB)"/>
<circle cx="421.79" cy="153.94" r="2.7" fill="url(#bB)"/>
<circle cx="423.26" cy="156.68" r="2.7" fill="url(#bB)"/>
<circle cx="424.73" cy="158.06" r="2.7" fill="url(#bB)"/>
<circle cx="426.2" cy="158.74" r="2.7" fill="url(#bB)"/>
<circle cx="427.68" cy="159.43" r="2.7" fill="url(#bB)"/>
<circle cx="429.15" cy="159.7" r="2.7" fill="url(#bB)"/>
<circle cx="430.62" cy="159.98" r="2.7" fill="url(#bB)"/>
<circle cx="432.09" cy="159.99" r="2.7" fill="url(#bB)"/>
<circle cx="433.57" cy="160.01" r="2.7" fill="url(#bB)"/>
<circle cx="435.04" cy="160.03" r="2.7" fill="url(#bB)"/>
<circle cx="436.51" cy="160.05" r="2.7" fill="url(#bB)"/>
<circle cx="437.98" cy="160.06" r="2.7" fill="url(#bB)"/>
<circle cx="439.46" cy="160.08" r="2.7" fill="url(#bB)"/>
<circle cx="440.93" cy="160.1" r="2.7" fill="url(#bB)"/>
<circle cx="442.4" cy="160.11" r="2.7" fill="url(#bB)"/>
<circle cx="265.1" cy="66.32" r="2.7" fill="url(#bR)"/>
<circle cx="266.57" cy="85.53" r="2.7" fill="url(#bR)"/>
<circle cx="268.05" cy="105.01" r="2.7" fill="url(#bR)"/>
<circle cx="269.52" cy="124.63" r="2.7" fill="url(#bR)"/>
<circle cx="270.99" cy="143.01" r="2.7" fill="url(#bR)"/>
<circle cx="272.46" cy="136.02" r="2.7" fill="url(#bR)"/>
<circle cx="273.94" cy="128.74" r="2.7" fill="url(#bR)"/>
<circle cx="275.41" cy="121.2" r="2.7" fill="url(#bR)"/>
<circle cx="276.88" cy="113.65" r="2.7" fill="url(#bR)"/>
<circle cx="278.35" cy="104.73" r="2.7" fill="url(#bR)"/>
<circle cx="279.83" cy="96.5" r="2.7" fill="url(#bR)"/>
<circle cx="281.3" cy="88.13" r="2.7" fill="url(#bR)"/>
<circle cx="282.77" cy="80.72" r="2.7" fill="url(#bR)"/>
<circle cx="284.24" cy="74.82" r="2.7" fill="url(#bR)"/>
<circle cx="285.72" cy="70.43" r="2.7" fill="url(#bR)"/>
<circle cx="287.19" cy="67" r="2.7" fill="url(#bR)"/>
<circle cx="288.66" cy="65.63" r="2.7" fill="url(#bR)"/>
<circle cx="290.13" cy="64.26" r="2.7" fill="url(#bR)"/>
<circle cx="291.61" cy="62.89" r="2.7" fill="url(#bR)"/>
<circle cx="293.08" cy="61.52" r="2.7" fill="url(#bR)"/>
<circle cx="294.55" cy="60.14" r="2.7" fill="url(#bR)"/>
<circle cx="296.02" cy="58.73" r="2.7" fill="url(#bR)"/>
<circle cx="297.5" cy="57.32" r="2.7" fill="url(#bR)"/>
<circle cx="298.97" cy="55.91" r="2.7" fill="url(#bR)"/>
<circle cx="300.44" cy="54.31" r="2.7" fill="url(#bR)"/>
<circle cx="301.91" cy="52.43" r="2.7" fill="url(#bR)"/>
<circle cx="303.38" cy="50.54" r="2.7" fill="url(#bR)"/>
<circle cx="304.86" cy="49.14" r="2.7" fill="url(#bR)"/>
<circle cx="306.33" cy="47.73" r="2.7" fill="url(#bR)"/>
<circle cx="307.8" cy="46.33" r="2.7" fill="url(#bR)"/>
<circle cx="309.28" cy="44.93" r="2.7" fill="url(#bR)"/>
<circle cx="310.75" cy="43.45" r="2.7" fill="url(#bR)"/>
<circle cx="312.22" cy="41.93" r="2.7" fill="url(#bR)"/>
<circle cx="313.69" cy="40.4" r="2.7" fill="url(#bR)"/>
<circle cx="315.17" cy="38.88" r="2.7" fill="url(#bR)"/>
<circle cx="316.64" cy="37.87" r="2.7" fill="url(#bR)"/>
<circle cx="318.11" cy="36.86" r="2.7" fill="url(#bR)"/>
<circle cx="319.58" cy="35.85" r="2.7" fill="url(#bR)"/>
<circle cx="321.06" cy="35.13" r="2.7" fill="url(#bR)"/>
<circle cx="322.53" cy="34.6" r="2.7" fill="url(#bR)"/>
<circle cx="324" cy="34.08" r="2.7" fill="url(#bR)"/>
<circle cx="325.47" cy="33.9" r="2.7" fill="url(#bR)"/>
<circle cx="326.95" cy="33.73" r="2.7" fill="url(#bR)"/>
<circle cx="328.42" cy="33.56" r="2.7" fill="url(#bR)"/>
<circle cx="329.89" cy="33.39" r="2.7" fill="url(#bR)"/>
<circle cx="331.36" cy="33.1" r="2.7" fill="url(#bR)"/>
<circle cx="332.84" cy="32.8" r="2.7" fill="url(#bR)"/>
<circle cx="334.31" cy="32.51" r="2.7" fill="url(#bR)"/>
<circle cx="335.78" cy="32.21" r="2.7" fill="url(#bR)"/>
<circle cx="337.25" cy="31.92" r="2.7" fill="url(#bR)"/>
<circle cx="338.73" cy="31.63" r="2.7" fill="url(#bR)"/>
<circle cx="340.2" cy="31.33" r="2.7" fill="url(#bR)"/>
<circle cx="341.67" cy="31.33" r="2.7" fill="url(#bR)"/>
<circle cx="343.14" cy="31.33" r="2.7" fill="url(#bR)"/>
<circle cx="344.62" cy="31.33" r="2.7" fill="url(#bR)"/>
<circle cx="346.09" cy="31.33" r="2.7" fill="url(#bR)"/>
<circle cx="347.56" cy="31.33" r="2.7" fill="url(#bR)"/>
<circle cx="349.03" cy="31.33" r="2.7" fill="url(#bR)"/>
<circle cx="350.5" cy="31.33" r="2.7" fill="url(#bR)"/>
<circle cx="351.98" cy="31.33" r="2.7" fill="url(#bR)"/>
<circle cx="353.45" cy="31.33" r="2.7" fill="url(#bR)"/>
<circle cx="354.92" cy="31.4" r="2.7" fill="url(#bR)"/>
<circle cx="356.4" cy="31.47" r="2.7" fill="url(#bR)"/>
<circle cx="357.87" cy="31.54" r="2.7" fill="url(#bR)"/>
<circle cx="359.34" cy="31.61" r="2.7" fill="url(#bR)"/>
<circle cx="360.81" cy="31.67" r="2.7" fill="url(#bR)"/>
<circle cx="362.29" cy="31.74" r="2.7" fill="url(#bR)"/>
<circle cx="363.76" cy="31.81" r="2.7" fill="url(#bR)"/>
<circle cx="365.23" cy="31.88" r="2.7" fill="url(#bR)"/>
<circle cx="366.7" cy="31.95" r="2.7" fill="url(#bR)"/>
<circle cx="368.18" cy="32.02" r="2.7" fill="url(#bR)"/>
<circle cx="369.65" cy="32.28" r="2.7" fill="url(#bR)"/>
<circle cx="371.12" cy="32.53" r="2.7" fill="url(#bR)"/>
<circle cx="372.59" cy="32.79" r="2.7" fill="url(#bR)"/>
<circle cx="374.06" cy="33.05" r="2.7" fill="url(#bR)"/>
<circle cx="375.54" cy="33.3" r="2.7" fill="url(#bR)"/>
<circle cx="377.01" cy="33.56" r="2.7" fill="url(#bR)"/>
<circle cx="378.48" cy="33.82" r="2.7" fill="url(#bR)"/>
<circle cx="379.96" cy="34.08" r="2.7" fill="url(#bR)"/>
<circle cx="381.43" cy="34.42" r="2.7" fill="url(#bR)"/>
<circle cx="382.9" cy="34.76" r="2.7" fill="url(#bR)"/>
<circle cx="384.37" cy="35.1" r="2.7" fill="url(#bR)"/>
<circle cx="385.85" cy="35.45" r="2.7" fill="url(#bR)"/>
<circle cx="387.32" cy="35.79" r="2.7" fill="url(#bR)"/>
<circle cx="388.79" cy="36.13" r="2.7" fill="url(#bR)"/>
<circle cx="390.26" cy="36.55" r="2.7" fill="url(#bR)"/>
<circle cx="391.74" cy="36.96" r="2.7" fill="url(#bR)"/>
<circle cx="393.21" cy="37.37" r="2.7" fill="url(#bR)"/>
<circle cx="394.68" cy="37.78" r="2.7" fill="url(#bR)"/>
<circle cx="396.15" cy="38.19" r="2.7" fill="url(#bR)"/>
<circle cx="397.62" cy="38.65" r="2.7" fill="url(#bR)"/>
<circle cx="399.1" cy="39.11" r="2.7" fill="url(#bR)"/>
<circle cx="400.57" cy="39.56" r="2.7" fill="url(#bR)"/>
<circle cx="402.04" cy="40.48" r="2.7" fill="url(#bR)"/>
<circle cx="403.51" cy="41.39" r="2.7" fill="url(#bR)"/>
<circle cx="404.99" cy="42.31" r="2.7" fill="url(#bR)"/>
<circle cx="406.46" cy="44.37" r="2.7" fill="url(#bR)"/>
<circle cx="407.93" cy="47.11" r="2.7" fill="url(#bR)"/>
<circle cx="409.41" cy="53.28" r="2.7" fill="url(#bR)"/>
<circle cx="410.88" cy="60.14" r="2.7" fill="url(#bR)"/>
<circle cx="412.35" cy="67" r="2.7" fill="url(#bR)"/>
<circle cx="413.82" cy="84.84" r="2.7" fill="url(#bR)"/>
<circle cx="415.3" cy="104.05" r="2.7" fill="url(#bR)"/>
<circle cx="416.77" cy="121.88" r="2.7" fill="url(#bR)"/>
<circle cx="418.24" cy="141.09" r="2.7" fill="url(#bR)"/>
<circle cx="419.71" cy="145.21" r="2.7" fill="url(#bR)"/>
<circle cx="421.19" cy="149.32" r="2.7" fill="url(#bR)"/>
<circle cx="422.66" cy="153.44" r="2.7" fill="url(#bR)"/>
<circle cx="424.13" cy="156.18" r="2.7" fill="url(#bR)"/>
<circle cx="425.6" cy="157.56" r="2.7" fill="url(#bR)"/>
<circle cx="427.08" cy="158.24" r="2.7" fill="url(#bR)"/>
<circle cx="428.55" cy="158.59" r="2.7" fill="url(#bR)"/>
<circle cx="430.02" cy="158.93" r="2.7" fill="url(#bR)"/>
<circle cx="431.49" cy="158.96" r="2.7" fill="url(#bR)"/>
<circle cx="432.97" cy="159" r="2.7" fill="url(#bR)"/>
<circle cx="434.44" cy="159.03" r="2.7" fill="url(#bR)"/>
<circle cx="435.91" cy="159.07" r="2.7" fill="url(#bR)"/>
<circle cx="437.38" cy="159.1" r="2.7" fill="url(#bR)"/>
<circle cx="438.86" cy="159.13" r="2.7" fill="url(#bR)"/>
<circle cx="440.33" cy="159.17" r="2.7" fill="url(#bR)"/>
<circle cx="441.8" cy="159.2" r="2.7" fill="url(#bR)"/>
<circle cx="274.6" cy="20.1" r="2.6" fill="url(#bB)"/>
<text x="285.4" y="22.8" font-size="7.6" text-anchor="start" fill="#25578a" font-weight="bold" stroke="#25578a" stroke-width="0.25">Control</text>
<circle cx="274.6" cy="29.8" r="2.6" fill="url(#bR)"/>
<text x="285.4" y="32.5" font-size="7.6" text-anchor="start" fill="#a00c14" font-weight="bold" stroke="#a00c14" stroke-width="0.25">Target</text>
<line x1="265.1" y1="13.5" x2="441.8" y2="13.5" stroke="#000" stroke-width="1.8" />
<line x1="265.1" y1="160.5" x2="441.8" y2="160.5" stroke="#000" stroke-width="1.8" />
<line x1="265.1" y1="12.6" x2="265.1" y2="160.5" stroke="#a00c14" stroke-width="1.6" />
<line x1="441.8" y1="12.6" x2="441.8" y2="160.5" stroke="#25578a" stroke-width="1.6" />
<line x1="491.3" y1="160.3" x2="491.3" y2="162.8" stroke="#000" stroke-width="1" />
<line x1="509.83" y1="160.3" x2="509.83" y2="161.9" stroke="#000" stroke-width="1" />
<line x1="528.36" y1="160.3" x2="528.36" y2="162.8" stroke="#000" stroke-width="1" />
<line x1="546.89" y1="160.3" x2="546.89" y2="161.9" stroke="#000" stroke-width="1" />
<line x1="565.42" y1="160.3" x2="565.42" y2="162.8" stroke="#000" stroke-width="1" />
<line x1="583.95" y1="160.3" x2="583.95" y2="161.9" stroke="#000" stroke-width="1" />
<line x1="602.48" y1="160.3" x2="602.48" y2="162.8" stroke="#000" stroke-width="1" />
<line x1="621.01" y1="160.3" x2="621.01" y2="161.9" stroke="#000" stroke-width="1" />
<line x1="639.54" y1="160.3" x2="639.54" y2="162.8" stroke="#000" stroke-width="1" />
<line x1="658.07" y1="160.3" x2="658.07" y2="161.9" stroke="#000" stroke-width="1" />
<line x1="676.6" y1="160.3" x2="676.6" y2="162.8" stroke="#000" stroke-width="1" />
<text x="491.3" y="170.2" font-size="6.9" text-anchor="middle" fill="#111" font-weight="bold" stroke="#111" stroke-width="0.25">400</text>
<text x="528.36" y="170.2" font-size="6.9" text-anchor="middle" fill="#111" font-weight="bold" stroke="#111" stroke-width="0.25">500</text>
<text x="565.42" y="170.2" font-size="6.9" text-anchor="middle" fill="#111" font-weight="bold" stroke="#111" stroke-width="0.25">600</text>
<text x="602.48" y="170.2" font-size="6.9" text-anchor="middle" fill="#111" font-weight="bold" stroke="#111" stroke-width="0.25">700</text>
<text x="639.54" y="170.2" font-size="6.9" text-anchor="middle" fill="#111" font-weight="bold" stroke="#111" stroke-width="0.25">800</text>
<text x="676.6" y="170.2" font-size="6.9" text-anchor="middle" fill="#111" font-weight="bold" stroke="#111" stroke-width="0.25">900</text>
<line x1="491.2" y1="160.3" x2="488.7" y2="160.3" stroke="#000" stroke-width="1" />
<line x1="491.2" y1="141.95" x2="489.6" y2="141.95" stroke="#000" stroke-width="1" />
<line x1="491.2" y1="123.6" x2="488.7" y2="123.6" stroke="#000" stroke-width="1" />
<line x1="491.2" y1="105.25" x2="489.6" y2="105.25" stroke="#000" stroke-width="1" />
<line x1="491.2" y1="86.9" x2="488.7" y2="86.9" stroke="#000" stroke-width="1" />
<line x1="491.2" y1="68.55" x2="489.6" y2="68.55" stroke="#000" stroke-width="1" />
<line x1="491.2" y1="50.2" x2="488.7" y2="50.2" stroke="#000" stroke-width="1" />
<line x1="491.2" y1="31.85" x2="489.6" y2="31.85" stroke="#000" stroke-width="1" />
<line x1="491.2" y1="13.5" x2="488.7" y2="13.5" stroke="#000" stroke-width="1" />
<text x="486.6" y="162.7" font-size="6.8" text-anchor="end" fill="#111" font-weight="bold" stroke="#111" stroke-width="0.25">0</text>
<text x="486.6" y="126" font-size="6.8" text-anchor="end" fill="#111" font-weight="bold" stroke="#111" stroke-width="0.25">1</text>
<text x="486.6" y="89.3" font-size="6.8" text-anchor="end" fill="#111" font-weight="bold" stroke="#111" stroke-width="0.25">2</text>
<text x="486.6" y="52.6" font-size="6.8" text-anchor="end" fill="#111" font-weight="bold" stroke="#111" stroke-width="0.25">3</text>
<text x="486.6" y="15.9" font-size="6.8" text-anchor="end" fill="#111" font-weight="bold" stroke="#111" stroke-width="0.25">4</text>
<text x="579.4" y="180.4" font-size="10.6" text-anchor="middle" fill="#111" font-weight="bold" stroke="#111" stroke-width="0.25">Wavelength / nm</text>
<text x="481.5" y="98.7" font-size="10.6" text-anchor="middle" fill="#111" font-weight="bold" stroke="#111" stroke-width="0.25" transform="rotate(-90 481.5 98.7)">Absorption / arb. units</text>
<path d="M491.3,32.07 L491.86,31.85 L492.41,33 L492.97,35.61 L493.52,33.16 L494.08,34.17 L494.64,35.72 L495.19,34.83 L495.75,35.45 L496.3,35.88 L496.86,36.46 L497.41,36.3 L497.97,37.65 L498.53,37.41 L499.08,37.84 L499.64,37.3 L500.19,37.87 L500.75,38.25 L501.31,38.65 L501.86,38.55 L502.42,38.6 L502.97,38.87 L503.53,38.42 L504.09,38.68 L504.64,40.25 L505.2,40.07 L505.75,39.54 L506.31,39.76 L506.87,39.64 L507.42,39.75 L507.98,39.13 L508.53,40.48 L509.09,40.3 L509.64,39.47 L510.2,40.11 L510.76,40.19 L511.31,40.73 L511.87,41.25 L512.42,40.63 L512.98,40.73 L513.54,41.32 L514.09,41.18 L514.65,41.01 L515.2,41.42 L515.76,41.16 L516.32,41.15 L516.87,41.24 L517.43,41.51 L517.98,41.15 L518.54,41.1 L519.1,41.39 L519.65,41.9 L520.21,41.38 L520.76,41.93 L521.32,41.47 L521.87,42.3 L522.43,41.61 L522.99,42.05 L523.54,42.6 L524.1,42.32 L524.65,42.26 L525.21,42.26 L525.77,42.83 L526.32,42.96 L526.88,42.54 L527.43,42.89 L527.99,42.71 L528.55,42.6 L529.1,43.62 L529.66,42.98 L530.21,42.7 L530.77,43.38 L531.32,43.68 L531.88,43.18 L532.44,43.48 L532.99,43.34 L533.55,43.93 L534.1,44.49 L534.66,44.09 L535.22,44.36 L535.77,44.03 L536.33,44.41 L536.88,45.28 L537.44,45.29 L538,44.68 L538.55,44.97 L539.11,45.7 L539.66,45.69 L540.22,45.78 L540.78,46.05 L541.33,46.19 L541.89,46.77 L542.44,47.3 L543,47.82 L543.55,48.15 L544.11,48.87 L544.67,49.32 L545.22,49.9 L545.78,50.59 L546.33,51.13 L546.89,51.87 L547.45,52.53 L548,53.38 L548.56,54.18 L549.11,55.02 L549.67,55.97 L550.23,56.96 L550.78,57.94 L551.34,58.77 L551.89,59.94 L552.45,61.09 L553,62.2 L553.56,63.38 L554.12,64.49 L554.67,65.69 L555.23,66.81 L555.78,67.91 L556.34,68.85 L556.9,69.9 L557.45,70.76 L558.01,71.64 L558.56,72.72 L559.12,73.67 L559.68,74.39 L560.23,75.16 L560.79,76.22 L561.34,77.08 L561.9,77.83 L562.46,78.76 L563.01,79.58 L563.57,80.42 L564.12,81.21 L564.68,82.11 L565.23,82.93 L565.79,83.82 L566.35,84.73 L566.9,85.59 L567.46,86.53 L568.01,87.38 L568.57,88.35 L569.13,89.25 L569.68,90 L570.24,90.97 L570.79,91.84 L571.35,92.66 L571.91,93.54 L572.46,94.33 L573.02,95.07 L573.57,95.81 L574.13,96.59 L574.69,97.13 L575.24,97.83 L575.8,98.46 L576.35,99.04 L576.91,99.58 L577.46,100.02 L578.02,100.71 L578.58,101.16 L579.13,101.8 L579.69,102.17 L580.24,102.61 L580.8,103.14 L581.36,103.62 L581.91,104.03 L582.47,104.44 L583.02,104.88 L583.58,105.23 L584.14,105.74 L584.69,106.2 L585.25,106.59 L585.8,106.99 L586.36,107.38 L586.91,107.79 L587.47,108.17 L588.03,108.66 L588.58,108.91 L589.14,109.36 L589.69,109.77 L590.25,110.04 L590.81,110.36 L591.36,110.76 L591.92,111.13 L592.47,111.53 L593.03,111.66 L593.59,112.1 L594.14,112.53 L594.7,112.82 L595.25,113.07 L595.81,113.46 L596.37,113.65 L596.92,113.96 L597.48,114.14 L598.03,114.41 L598.59,114.86 L599.14,114.95 L599.7,115.27 L600.26,115.35 L600.81,115.63 L601.37,115.83 L601.92,116.13 L602.48,116.18 L603.04,116.38 L603.59,116.75 L604.15,116.87 L604.7,117.12 L605.26,117.28 L605.82,117.53 L606.37,117.54 L606.93,117.88 L607.48,118.02 L608.04,118.15 L608.59,118.38 L609.15,118.52 L609.71,118.7 L610.26,118.84 L610.82,119.05 L611.37,119.17 L611.93,119.31 L612.49,119.47 L613.04,119.59 L613.6,119.76 L614.15,119.84 L614.71,120.04 L615.27,120.16 L615.82,120.32 L616.38,120.43 L616.93,120.59 L617.49,120.6 L618.05,120.8 L618.6,120.88 L619.16,120.92 L619.71,121.02 L620.27,121.17 L620.82,121.36 L621.38,121.33 L621.94,121.44 L622.49,121.64 L623.05,121.63 L623.6,121.82 L624.16,121.97 L624.72,122.03 L625.27,122.17 L625.83,122.29 L626.38,122.54 L626.94,122.5 L627.5,122.79 L628.05,123.01 L628.61,123.07 L629.16,123.32 L629.72,123.5 L630.27,123.79 L630.83,124.08 L631.39,124.44 L631.94,124.96 L632.5,125.43 L633.05,126.12 L633.61,126.84 L634.17,127.55 L634.72,128.35 L635.28,129.38 L635.83,130.66 L636.39,132.01 L636.95,133.72 L637.5,135.33 L638.06,136.94 L638.61,138.65 L639.17,140.11 L639.73,141.68 L640.28,143.31 L640.84,145.15 L641.39,146.84 L641.95,148.4 L642.5,149.98 L643.06,150.85 L643.62,151.9 L644.17,152.51 L644.73,152.97 L645.28,153.5 L645.84,153.99 L646.4,154.17 L646.95,154.38 L647.51,154.62 L648.06,154.76 L648.62,154.84 L649.18,155.03 L649.73,155.04 L650.29,155.12 L650.84,155.21 L651.4,155.29 L651.96,155.26 L652.51,155.32 L653.07,155.24 L653.62,155.31 L654.18,155.29 L654.73,155.35 L655.29,155.35 L655.85,155.43 L656.4,155.36 L656.96,155.32 L657.51,155.45 L658.07,155.48 L658.63,155.48 L659.18,155.52 L659.74,155.56 L660.29,155.54 L660.85,155.6 L661.41,155.54 L661.96,155.65 L662.52,155.68 L663.07,155.68 L663.63,155.8 L664.18,155.75 L664.74,155.91 L665.3,155.96 L665.85,155.99 L666.41,156.02 L666.96,156.14 L667.52,156.12 L668.08,156.26 L668.63,156.14 L669.19,156.27 L669.74,156.35 L670.3,156.41 L670.86,156.44 L671.41,156.48 L671.97,156.58 L672.52,156.63 L673.08,156.64 L673.64,156.72 L674.19,156.69 L674.75,156.74 L675.3,156.86 L675.86,156.89 L676.41,157.05" fill="none" stroke="#25578a" stroke-width="3.2" stroke-linejoin="round" stroke-linecap="round" />
<path d="M491.3,34.51 L491.86,35.73 L492.41,35.74 L492.97,38.58 L493.52,33.26 L494.08,34.34 L494.64,36.27 L495.19,35.21 L495.75,35.94 L496.3,36.94 L496.86,35.63 L497.41,36.96 L497.97,37.09 L498.53,37.56 L499.08,36.74 L499.64,37.25 L500.19,36.97 L500.75,37.75 L501.31,37.47 L501.86,38.03 L502.42,37.42 L502.97,37.78 L503.53,37.82 L504.09,37.89 L504.64,38.53 L505.2,37.93 L505.75,37.53 L506.31,39.03 L506.87,39.15 L507.42,39.14 L507.98,38.3 L508.53,38.64 L509.09,38.34 L509.64,38.53 L510.2,38.78 L510.76,38.79 L511.31,39.02 L511.87,38.66 L512.42,39.47 L512.98,39.24 L513.54,39.02 L514.09,38.46 L514.65,39.48 L515.2,39.64 L515.76,39.48 L516.32,38.92 L516.87,39.41 L517.43,38.84 L517.98,40.1 L518.54,38.98 L519.1,39.04 L519.65,40.02 L520.21,39.44 L520.76,39.06 L521.32,39.52 L521.87,39.19 L522.43,38.69 L522.99,39.53 L523.54,39.77 L524.1,39.99 L524.65,39.47 L525.21,39.82 L525.77,39.84 L526.32,39.85 L526.88,39.59 L527.43,40.28 L527.99,40.49 L528.55,40.87 L529.1,39.51 L529.66,39.97 L530.21,39.44 L530.77,40.05 L531.32,40.36 L531.88,39.91 L532.44,40.15 L532.99,40.63 L533.55,40.51 L534.1,39.52 L534.66,40.09 L535.22,40.09 L535.77,40.39 L536.33,40.59 L536.88,40.02 L537.44,40.45 L538,40.75 L538.55,40.56 L539.11,40.92 L539.66,40.56 L540.22,40.29 L540.78,41.2 L541.33,40.55 L541.89,41.64 L542.44,41.65 L543,42.39 L543.55,42.48 L544.11,42.88 L544.67,43.33 L545.22,43.78 L545.78,44.28 L546.33,44.86 L546.89,45.54 L547.45,46.15 L548,46.84 L548.56,47.56 L549.11,48.33 L549.67,49.02 L550.23,49.97 L550.78,50.89 L551.34,51.67 L551.89,52.78 L552.45,53.64 L553,54.74 L553.56,55.69 L554.12,56.86 L554.67,57.81 L555.23,59.01 L555.78,60.22 L556.34,61.26 L556.9,62.5 L557.45,63.72 L558.01,64.92 L558.56,66.04 L559.12,67.23 L559.68,68.38 L560.23,69.58 L560.79,70.87 L561.34,72.08 L561.9,73.3 L562.46,74.55 L563.01,75.7 L563.57,76.84 L564.12,77.95 L564.68,79.04 L565.23,80.25 L565.79,81.22 L566.35,82.29 L566.9,83.12 L567.46,84.16 L568.01,85.05 L568.57,86.02 L569.13,86.9 L569.68,87.71 L570.24,88.59 L570.79,89.38 L571.35,90.29 L571.91,90.96 L572.46,91.82 L573.02,92.44 L573.57,93.28 L574.13,93.92 L574.69,94.76 L575.24,95.34 L575.8,96.06 L576.35,96.68 L576.91,97.27 L577.46,97.9 L578.02,98.46 L578.58,99.01 L579.13,99.58 L579.69,100.17 L580.24,100.78 L580.8,101.28 L581.36,101.76 L581.91,102.37 L582.47,102.7 L583.02,103.24 L583.58,103.7 L584.14,104.09 L584.69,104.56 L585.25,105.02 L585.8,105.51 L586.36,105.87 L586.91,106.29 L587.47,106.78 L588.03,107.09 L588.58,107.53 L589.14,108.07 L589.69,108.35 L590.25,108.83 L590.81,109.08 L591.36,109.48 L591.92,109.97 L592.47,110.32 L593.03,110.63 L593.59,111.01 L594.14,111.26 L594.7,111.64 L595.25,112.03 L595.81,112.31 L596.37,112.77 L596.92,112.94 L597.48,113.21 L598.03,113.55 L598.59,113.86 L599.14,114.06 L599.7,114.23 L600.26,114.58 L600.81,114.89 L601.37,114.98 L601.92,115.4 L602.48,115.49 L603.04,115.77 L603.59,115.9 L604.15,116.21 L604.7,116.29 L605.26,116.55 L605.82,116.86 L606.37,117.07 L606.93,117.16 L607.48,117.26 L608.04,117.51 L608.59,117.69 L609.15,117.88 L609.71,118 L610.26,118.18 L610.82,118.36 L611.37,118.59 L611.93,118.63 L612.49,118.78 L613.04,119.08 L613.6,119.04 L614.15,119.27 L614.71,119.49 L615.27,119.72 L615.82,119.72 L616.38,119.86 L616.93,120.05 L617.49,120.24 L618.05,120.2 L618.6,120.41 L619.16,120.51 L619.71,120.44 L620.27,120.59 L620.82,120.77 L621.38,120.95 L621.94,121 L622.49,121.28 L623.05,121.26 L623.6,121.43 L624.16,121.59 L624.72,121.73 L625.27,121.75 L625.83,121.92 L626.38,122.07 L626.94,122.19 L627.5,122.44 L628.05,122.63 L628.61,122.83 L629.16,122.95 L629.72,123.11 L630.27,123.42 L630.83,123.67 L631.39,124.15 L631.94,124.57 L632.5,125.14 L633.05,125.79 L633.61,126.31 L634.17,127.13 L634.72,128.05 L635.28,129.06 L635.83,130.3 L636.39,131.87 L636.95,133.4 L637.5,135.21 L638.06,136.89 L638.61,138.6 L639.17,140.14 L639.73,141.76 L640.28,143.47 L640.84,145.18 L641.39,146.87 L641.95,148.45 L642.5,149.85 L643.06,150.94 L643.62,151.81 L644.17,152.49 L644.73,152.98 L645.28,153.53 L645.84,153.81 L646.4,154.17 L646.95,154.5 L647.51,154.55 L648.06,154.7 L648.62,155.02 L649.18,155.02 L649.73,155.09 L650.29,155.24 L650.84,155.23 L651.4,155.26 L651.96,155.21 L652.51,155.25 L653.07,155.15 L653.62,155.33 L654.18,155.27 L654.73,155.34 L655.29,155.35 L655.85,155.44 L656.4,155.5 L656.96,155.45 L657.51,155.38 L658.07,155.35 L658.63,155.43 L659.18,155.46 L659.74,155.56 L660.29,155.47 L660.85,155.52 L661.41,155.67 L661.96,155.7 L662.52,155.81 L663.07,155.73 L663.63,155.86 L664.18,155.95 L664.74,156 L665.3,156.07 L665.85,156.19 L666.41,156.31 L666.96,156.39 L667.52,156.5 L668.08,156.45 L668.63,156.43 L669.19,156.72 L669.74,156.7 L670.3,156.76 L670.86,156.91 L671.41,156.93 L671.97,157.08 L672.52,157.03 L673.08,157.21 L673.64,157.26 L674.19,157.31 L674.75,157.46 L675.3,157.62 L675.86,157.64 L676.41,157.66" fill="none" stroke="#a00c14" stroke-width="3.2" stroke-linejoin="round" stroke-linecap="round" />
<line x1="495.2" y1="19.6" x2="513.3" y2="19.6" stroke="#25578a" stroke-width="2.8" />
<text x="515.2" y="23" font-size="8.2" text-anchor="start" fill="#25578a" font-weight="bold" stroke="#25578a" stroke-width="0.25">Control</text>
<line x1="495.2" y1="29.5" x2="513.3" y2="29.5" stroke="#a00c14" stroke-width="2.8" />
<text x="515.2" y="32.7" font-size="8.2" text-anchor="start" fill="#a00c14" font-weight="bold" stroke="#a00c14" stroke-width="0.25">Target</text>
<rect x="491.2" y="13.5" width="185.8" height="146.8" fill="none" stroke="#000" stroke-width="1.7"/>
<line x1="36.4" y1="342" x2="36.4" y2="344.5" stroke="#000" stroke-width="1" />
<line x1="53" y1="342" x2="53" y2="343.6" stroke="#000" stroke-width="1" />
<line x1="69.6" y1="342" x2="69.6" y2="344.5" stroke="#000" stroke-width="1" />
<line x1="86.2" y1="342" x2="86.2" y2="343.6" stroke="#000" stroke-width="1" />
<line x1="102.8" y1="342" x2="102.8" y2="344.5" stroke="#000" stroke-width="1" />
<line x1="119.4" y1="342" x2="119.4" y2="343.6" stroke="#000" stroke-width="1" />
<line x1="136" y1="342" x2="136" y2="344.5" stroke="#000" stroke-width="1" />
<line x1="152.6" y1="342" x2="152.6" y2="343.6" stroke="#000" stroke-width="1" />
<line x1="169.2" y1="342" x2="169.2" y2="344.5" stroke="#000" stroke-width="1" />
<line x1="185.8" y1="342" x2="185.8" y2="343.6" stroke="#000" stroke-width="1" />
<line x1="202.4" y1="342" x2="202.4" y2="344.5" stroke="#000" stroke-width="1" />
<line x1="219" y1="342" x2="219" y2="343.6" stroke="#000" stroke-width="1" />
<text x="36.4" y="351.2" font-size="7.1" text-anchor="middle" fill="#111" font-weight="bold" stroke="#111" stroke-width="0.25">0</text>
<text x="69.6" y="351.2" font-size="7.1" text-anchor="middle" fill="#111" font-weight="bold" stroke="#111" stroke-width="0.25">50</text>
<text x="102.8" y="351.2" font-size="7.1" text-anchor="middle" fill="#111" font-weight="bold" stroke="#111" stroke-width="0.25">100</text>
<text x="136" y="351.2" font-size="7.1" text-anchor="middle" fill="#111" font-weight="bold" stroke="#111" stroke-width="0.25">150</text>
<text x="169.2" y="351.2" font-size="7.1" text-anchor="middle" fill="#111" font-weight="bold" stroke="#111" stroke-width="0.25">200</text>
<text x="202.4" y="351.2" font-size="7.1" text-anchor="middle" fill="#111" font-weight="bold" stroke="#111" stroke-width="0.25">250</text>
<line x1="36.8" y1="337.7" x2="34.3" y2="337.7" stroke="#000" stroke-width="1" />
<line x1="36.8" y1="329.82" x2="35.2" y2="329.82" stroke="#000" stroke-width="1" />
<line x1="36.8" y1="321.93" x2="34.3" y2="321.93" stroke="#000" stroke-width="1" />
<line x1="36.8" y1="314.05" x2="35.2" y2="314.05" stroke="#000" stroke-width="1" />
<line x1="36.8" y1="306.17" x2="34.3" y2="306.17" stroke="#000" stroke-width="1" />
<line x1="36.8" y1="298.28" x2="35.2" y2="298.28" stroke="#000" stroke-width="1" />
<line x1="36.8" y1="290.4" x2="34.3" y2="290.4" stroke="#000" stroke-width="1" />
<line x1="36.8" y1="282.52" x2="35.2" y2="282.52" stroke="#000" stroke-width="1" />
<line x1="36.8" y1="274.63" x2="34.3" y2="274.63" stroke="#000" stroke-width="1" />
<line x1="36.8" y1="266.75" x2="35.2" y2="266.75" stroke="#000" stroke-width="1" />
<line x1="36.8" y1="258.87" x2="34.3" y2="258.87" stroke="#000" stroke-width="1" />
<line x1="36.8" y1="250.98" x2="35.2" y2="250.98" stroke="#000" stroke-width="1" />
<line x1="36.8" y1="243.1" x2="34.3" y2="243.1" stroke="#000" stroke-width="1" />
<line x1="36.8" y1="235.22" x2="35.2" y2="235.22" stroke="#000" stroke-width="1" />
<line x1="36.8" y1="227.33" x2="34.3" y2="227.33" stroke="#000" stroke-width="1" />
<line x1="36.8" y1="219.45" x2="35.2" y2="219.45" stroke="#000" stroke-width="1" />
<line x1="36.8" y1="211.57" x2="34.3" y2="211.57" stroke="#000" stroke-width="1" />
<line x1="36.8" y1="203.68" x2="35.2" y2="203.68" stroke="#000" stroke-width="1" />
<line x1="36.8" y1="195.8" x2="34.3" y2="195.8" stroke="#000" stroke-width="1" />
<text x="33.5" y="340.2" font-size="7.1" text-anchor="end" fill="#111" font-weight="bold" stroke="#111" stroke-width="0.25">0</text>
<text x="33.5" y="324.43" font-size="7.1" text-anchor="end" fill="#111" font-weight="bold" stroke="#111" stroke-width="0.25">20</text>
<text x="33.5" y="308.67" font-size="7.1" text-anchor="end" fill="#111" font-weight="bold" stroke="#111" stroke-width="0.25">40</text>
<text x="33.5" y="292.9" font-size="7.1" text-anchor="end" fill="#111" font-weight="bold" stroke="#111" stroke-width="0.25">60</text>
<text x="33.5" y="277.13" font-size="7.1" text-anchor="end" fill="#111" font-weight="bold" stroke="#111" stroke-width="0.25">80</text>
<text x="33.5" y="261.37" font-size="7.1" text-anchor="end" fill="#111" font-weight="bold" stroke="#111" stroke-width="0.25">100</text>
<text x="33.5" y="245.6" font-size="7.1" text-anchor="end" fill="#111" font-weight="bold" stroke="#111" stroke-width="0.25">120</text>
<text x="33.5" y="229.83" font-size="7.1" text-anchor="end" fill="#111" font-weight="bold" stroke="#111" stroke-width="0.25">140</text>
<text x="33.5" y="214.07" font-size="7.1" text-anchor="end" fill="#111" font-weight="bold" stroke="#111" stroke-width="0.25">160</text>
<text x="33.5" y="198.3" font-size="7.1" text-anchor="end" fill="#111" font-weight="bold" stroke="#111" stroke-width="0.25">180</text>
<text x="128" y="363" font-size="11.5" text-anchor="middle" fill="#111" font-weight="bold" stroke="#111" stroke-width="0.25">Z' / Ω</text>
<text x="19" y="268.2" font-size="11.5" text-anchor="middle" fill="#111" font-weight="bold" stroke="#111" stroke-width="0.25" transform="rotate(-90 19 268.2)">Z'' /Ω</text>
<path d="M51.3,329.3 L53.2,321 L54.2,312.7 L56,308 L61.2,300 L64.3,293 L68.7,283.5 L79,273.3 L90.1,264.1 L104,258 L120,255.2 L135.3,256.6 L150.3,261.9 L162.2,270.2 L171.4,278.8 L178.3,288.3 L183,297.4 L186.3,304.9 L188.6,311.3 L190,316.8 L190.7,319.6 L191.3,322.4 L191.7,324.2 L192,326 L192.4,327.6 L192.7,329.3 L193,330.4 L193.2,331.5 L193.4,332.5 L193.6,333.5 L193.8,334.5 L193.9,335.5 L194,336.8 L194.1,338.2" fill="none" stroke="#25578a" stroke-width="2.6" stroke-linejoin="round" stroke-linecap="round" />
<circle cx="51.3" cy="329.3" r="1.95" fill="#fff" stroke="#25578a" stroke-width="2.0"/>
<circle cx="53.2" cy="321" r="1.95" fill="#fff" stroke="#25578a" stroke-width="2.0"/>
<circle cx="54.2" cy="312.7" r="1.95" fill="#fff" stroke="#25578a" stroke-width="2.0"/>
<circle cx="56" cy="308" r="1.95" fill="#fff" stroke="#25578a" stroke-width="2.0"/>
<circle cx="61.2" cy="300" r="1.95" fill="#fff" stroke="#25578a" stroke-width="2.0"/>
<circle cx="64.3" cy="293" r="1.95" fill="#fff" stroke="#25578a" stroke-width="2.0"/>
<circle cx="68.7" cy="283.5" r="1.95" fill="#fff" stroke="#25578a" stroke-width="2.0"/>
<circle cx="79" cy="273.3" r="1.95" fill="#fff" stroke="#25578a" stroke-width="2.0"/>
<circle cx="90.1" cy="264.1" r="1.95" fill="#fff" stroke="#25578a" stroke-width="2.0"/>
<circle cx="104" cy="258" r="1.95" fill="#fff" stroke="#25578a" stroke-width="2.0"/>
<circle cx="120" cy="255.2" r="1.95" fill="#fff" stroke="#25578a" stroke-width="2.0"/>
<circle cx="135.3" cy="256.6" r="1.95" fill="#fff" stroke="#25578a" stroke-width="2.0"/>
<circle cx="150.3" cy="261.9" r="1.95" fill="#fff" stroke="#25578a" stroke-width="2.0"/>
<circle cx="162.2" cy="270.2" r="1.95" fill="#fff" stroke="#25578a" stroke-width="2.0"/>
<circle cx="171.4" cy="278.8" r="1.95" fill="#fff" stroke="#25578a" stroke-width="2.0"/>
<circle cx="178.3" cy="288.3" r="1.95" fill="#fff" stroke="#25578a" stroke-width="2.0"/>
<circle cx="183" cy="297.4" r="1.95" fill="#fff" stroke="#25578a" stroke-width="2.0"/>
<circle cx="186.3" cy="304.9" r="1.95" fill="#fff" stroke="#25578a" stroke-width="2.0"/>
<circle cx="188.6" cy="311.3" r="1.95" fill="#fff" stroke="#25578a" stroke-width="2.0"/>
<circle cx="190" cy="316.8" r="1.95" fill="#fff" stroke="#25578a" stroke-width="2.0"/>
<circle cx="190.7" cy="319.6" r="1.95" fill="#fff" stroke="#25578a" stroke-width="2.0"/>
<circle cx="191.3" cy="322.4" r="1.95" fill="#fff" stroke="#25578a" stroke-width="2.0"/>
<circle cx="191.7" cy="324.2" r="1.95" fill="#fff" stroke="#25578a" stroke-width="2.0"/>
<circle cx="192" cy="326" r="1.95" fill="#fff" stroke="#25578a" stroke-width="2.0"/>
<circle cx="192.4" cy="327.6" r="1.95" fill="#fff" stroke="#25578a" stroke-width="2.0"/>
<circle cx="192.7" cy="329.3" r="1.95" fill="#fff" stroke="#25578a" stroke-width="2.0"/>
<circle cx="193" cy="330.4" r="1.95" fill="#fff" stroke="#25578a" stroke-width="2.0"/>
<circle cx="193.2" cy="331.5" r="1.95" fill="#fff" stroke="#25578a" stroke-width="2.0"/>
<circle cx="193.4" cy="332.5" r="1.95" fill="#fff" stroke="#25578a" stroke-width="2.0"/>
<circle cx="193.6" cy="333.5" r="1.95" fill="#fff" stroke="#25578a" stroke-width="2.0"/>
<circle cx="193.8" cy="334.5" r="1.95" fill="#fff" stroke="#25578a" stroke-width="2.0"/>
<circle cx="193.9" cy="335.5" r="1.95" fill="#fff" stroke="#25578a" stroke-width="2.0"/>
<circle cx="194" cy="336.8" r="1.95" fill="#fff" stroke="#25578a" stroke-width="2.0"/>
<circle cx="194.1" cy="338.2" r="1.95" fill="#fff" stroke="#25578a" stroke-width="2.0"/>
<path d="M41,333.5 L44.3,334.3 L47.1,331.5 L50.4,327.9 L52.1,318.2 L53.2,312.7 L54.9,308.5 L60.4,301 L63.2,290.5 L68.7,280.8 L77.6,269.7 L89.3,259.4 L103.1,251.1 L120.6,245.5 L138.1,244.7 L155.3,248 L170.5,255.8 L183,266.1 L191.9,277.2 L198.3,286.3 L203.3,296 L206.6,304.3 L208.5,311.3 L210.2,316.8 L210.8,319.5 L211.3,322.4 L211.7,325 L212.1,327.9 L212.5,329.5 L213,331 L213.3,332.3 L213.5,333.5 L213.9,334.5 L214.2,335.5 L214.6,336.6 L214.9,337.6" fill="none" stroke="#a00c14" stroke-width="2.6" stroke-linejoin="round" stroke-linecap="round" />
<circle cx="41" cy="333.5" r="1.95" fill="#fff" stroke="#a00c14" stroke-width="2.0"/>
<circle cx="44.3" cy="334.3" r="1.95" fill="#fff" stroke="#a00c14" stroke-width="2.0"/>
<circle cx="47.1" cy="331.5" r="1.95" fill="#fff" stroke="#a00c14" stroke-width="2.0"/>
<circle cx="50.4" cy="327.9" r="1.95" fill="#fff" stroke="#a00c14" stroke-width="2.0"/>
<circle cx="52.1" cy="318.2" r="1.95" fill="#fff" stroke="#a00c14" stroke-width="2.0"/>
<circle cx="53.2" cy="312.7" r="1.95" fill="#fff" stroke="#a00c14" stroke-width="2.0"/>
<circle cx="54.9" cy="308.5" r="1.95" fill="#fff" stroke="#a00c14" stroke-width="2.0"/>
<circle cx="60.4" cy="301" r="1.95" fill="#fff" stroke="#a00c14" stroke-width="2.0"/>
<circle cx="63.2" cy="290.5" r="1.95" fill="#fff" stroke="#a00c14" stroke-width="2.0"/>
<circle cx="68.7" cy="280.8" r="1.95" fill="#fff" stroke="#a00c14" stroke-width="2.0"/>
<circle cx="77.6" cy="269.7" r="1.95" fill="#fff" stroke="#a00c14" stroke-width="2.0"/>
<circle cx="89.3" cy="259.4" r="1.95" fill="#fff" stroke="#a00c14" stroke-width="2.0"/>
<circle cx="103.1" cy="251.1" r="1.95" fill="#fff" stroke="#a00c14" stroke-width="2.0"/>
<circle cx="120.6" cy="245.5" r="1.95" fill="#fff" stroke="#a00c14" stroke-width="2.0"/>
<circle cx="138.1" cy="244.7" r="1.95" fill="#fff" stroke="#a00c14" stroke-width="2.0"/>
<circle cx="155.3" cy="248" r="1.95" fill="#fff" stroke="#a00c14" stroke-width="2.0"/>
<circle cx="170.5" cy="255.8" r="1.95" fill="#fff" stroke="#a00c14" stroke-width="2.0"/>
<circle cx="183" cy="266.1" r="1.95" fill="#fff" stroke="#a00c14" stroke-width="2.0"/>
<circle cx="191.9" cy="277.2" r="1.95" fill="#fff" stroke="#a00c14" stroke-width="2.0"/>
<circle cx="198.3" cy="286.3" r="1.95" fill="#fff" stroke="#a00c14" stroke-width="2.0"/>
<circle cx="203.3" cy="296" r="1.95" fill="#fff" stroke="#a00c14" stroke-width="2.0"/>
<circle cx="206.6" cy="304.3" r="1.95" fill="#fff" stroke="#a00c14" stroke-width="2.0"/>
<circle cx="208.5" cy="311.3" r="1.95" fill="#fff" stroke="#a00c14" stroke-width="2.0"/>
<circle cx="210.2" cy="316.8" r="1.95" fill="#fff" stroke="#a00c14" stroke-width="2.0"/>
<circle cx="210.8" cy="319.5" r="1.95" fill="#fff" stroke="#a00c14" stroke-width="2.0"/>
<circle cx="211.3" cy="322.4" r="1.95" fill="#fff" stroke="#a00c14" stroke-width="2.0"/>
<circle cx="211.7" cy="325" r="1.95" fill="#fff" stroke="#a00c14" stroke-width="2.0"/>
<circle cx="212.1" cy="327.9" r="1.95" fill="#fff" stroke="#a00c14" stroke-width="2.0"/>
<circle cx="212.5" cy="329.5" r="1.95" fill="#fff" stroke="#a00c14" stroke-width="2.0"/>
<circle cx="213" cy="331" r="1.95" fill="#fff" stroke="#a00c14" stroke-width="2.0"/>
<circle cx="213.3" cy="332.3" r="1.95" fill="#fff" stroke="#a00c14" stroke-width="2.0"/>
<circle cx="213.5" cy="333.5" r="1.95" fill="#fff" stroke="#a00c14" stroke-width="2.0"/>
<circle cx="213.9" cy="334.5" r="1.95" fill="#fff" stroke="#a00c14" stroke-width="2.0"/>
<circle cx="214.2" cy="335.5" r="1.95" fill="#fff" stroke="#a00c14" stroke-width="2.0"/>
<circle cx="214.6" cy="336.6" r="1.95" fill="#fff" stroke="#a00c14" stroke-width="2.0"/>
<circle cx="214.9" cy="337.6" r="1.95" fill="#fff" stroke="#a00c14" stroke-width="2.0"/>
<line x1="40" y1="203" x2="58.2" y2="203" stroke="#25578a" stroke-width="2.6" />
<circle cx="48.4" cy="203" r="2" fill="#fff" stroke="#25578a" stroke-width="1.5"/>
<text x="59.5" y="206" font-size="9" text-anchor="start" fill="#25578a" font-weight="bold" stroke="#25578a" stroke-width="0.25">Control</text>
<line x1="40" y1="213.8" x2="58.2" y2="213.8" stroke="#a00c14" stroke-width="2.6" />
<circle cx="48.4" cy="213.8" r="2" fill="#fff" stroke="#a00c14" stroke-width="1.5"/>
<text x="59.5" y="216.8" font-size="9" text-anchor="start" fill="#a00c14" font-weight="bold" stroke="#a00c14" stroke-width="0.25">Target</text>
<rect x="36.8" y="195.6" width="185.5" height="146.4" fill="none" stroke="#000" stroke-width="1.7"/>
<line x1="263.3" y1="342.4" x2="263.3" y2="344.9" stroke="#000" stroke-width="1" />
<line x1="286.59" y1="342.4" x2="286.59" y2="344" stroke="#000" stroke-width="1" />
<line x1="309.88" y1="342.4" x2="309.88" y2="344.9" stroke="#000" stroke-width="1" />
<line x1="333.16" y1="342.4" x2="333.16" y2="344" stroke="#000" stroke-width="1" />
<line x1="356.45" y1="342.4" x2="356.45" y2="344.9" stroke="#000" stroke-width="1" />
<line x1="379.74" y1="342.4" x2="379.74" y2="344" stroke="#000" stroke-width="1" />
<line x1="403.02" y1="342.4" x2="403.02" y2="344.9" stroke="#000" stroke-width="1" />
<line x1="426.31" y1="342.4" x2="426.31" y2="344" stroke="#000" stroke-width="1" />
<line x1="449.6" y1="342.4" x2="449.6" y2="344.9" stroke="#000" stroke-width="1" />
<text x="263.3" y="352.3" font-size="7" text-anchor="middle" fill="#111" font-weight="bold" stroke="#111" stroke-width="0.25">700</text>
<text x="309.88" y="352.3" font-size="7" text-anchor="middle" fill="#111" font-weight="bold" stroke="#111" stroke-width="0.25">750</text>
<text x="356.45" y="352.3" font-size="7" text-anchor="middle" fill="#111" font-weight="bold" stroke="#111" stroke-width="0.25">800</text>
<text x="403.02" y="352.3" font-size="7" text-anchor="middle" fill="#111" font-weight="bold" stroke="#111" stroke-width="0.25">850</text>
<text x="449.6" y="352.3" font-size="7" text-anchor="middle" fill="#111" font-weight="bold" stroke="#111" stroke-width="0.25">900</text>
<line x1="263.5" y1="333.6" x2="261" y2="333.6" stroke="#000" stroke-width="1" />
<line x1="263.5" y1="316.45" x2="261.9" y2="316.45" stroke="#000" stroke-width="1" />
<line x1="263.5" y1="299.3" x2="261" y2="299.3" stroke="#000" stroke-width="1" />
<line x1="263.5" y1="282.15" x2="261.9" y2="282.15" stroke="#000" stroke-width="1" />
<line x1="263.5" y1="265" x2="261" y2="265" stroke="#000" stroke-width="1" />
<line x1="263.5" y1="247.85" x2="261.9" y2="247.85" stroke="#000" stroke-width="1" />
<line x1="263.5" y1="230.7" x2="261" y2="230.7" stroke="#000" stroke-width="1" />
<line x1="263.5" y1="213.55" x2="261.9" y2="213.55" stroke="#000" stroke-width="1" />
<line x1="263.5" y1="196.4" x2="261" y2="196.4" stroke="#000" stroke-width="1" />
<text x="260" y="336" font-size="6.9" text-anchor="end" fill="#111" font-weight="bold" stroke="#111" stroke-width="0.25">0</text>
<text x="260" y="301.7" font-size="6.9" text-anchor="end" fill="#111" font-weight="bold" stroke="#111" stroke-width="0.25">20k</text>
<text x="260" y="267.4" font-size="6.9" text-anchor="end" fill="#111" font-weight="bold" stroke="#111" stroke-width="0.25">40k</text>
<text x="260" y="233.1" font-size="6.9" text-anchor="end" fill="#111" font-weight="bold" stroke="#111" stroke-width="0.25">60k</text>
<text x="260" y="198.8" font-size="6.9" text-anchor="end" fill="#111" font-weight="bold" stroke="#111" stroke-width="0.25">80k</text>
<text x="347.4" y="361.5" font-size="10.6" text-anchor="middle" fill="#111" font-weight="bold" stroke="#111" stroke-width="0.25">Wavelength / nm</text>
<text x="246" y="275.3" font-size="10.5" text-anchor="middle" fill="#111" font-weight="bold" stroke="#111" stroke-width="0.25" transform="rotate(-90 246 275.3)">PL Intensity / arb. units</text>
<path d="M263.3,332.16 L264.23,332.14 L265.16,332.12 L266.09,332.1 L267.03,332.07 L267.96,332.05 L268.89,332.03 L269.82,332.01 L270.75,331.98 L271.68,331.96 L272.62,331.93 L273.55,331.91 L274.48,331.88 L275.41,331.85 L276.34,331.82 L277.27,331.8 L278.2,331.77 L279.14,331.74 L280.07,331.7 L281,331.67 L281.93,331.64 L282.86,331.61 L283.79,331.57 L284.72,331.54 L285.66,331.5 L286.59,331.46 L287.52,331.42 L288.45,331.38 L289.38,331.34 L290.31,331.3 L291.25,331.25 L292.18,331.21 L293.11,331.16 L294.04,331.11 L294.97,331.06 L295.9,331.01 L296.83,330.96 L297.77,330.91 L298.7,330.85 L299.63,330.79 L300.56,330.73 L301.49,330.66 L302.42,330.6 L303.35,330.53 L304.29,330.46 L305.22,330.38 L306.15,330.31 L307.08,330.23 L308.01,330.14 L308.94,330.05 L309.88,329.96 L310.81,329.86 L311.74,329.76 L312.67,329.65 L313.6,329.54 L314.53,329.42 L315.46,329.29 L316.4,329.16 L317.33,329.02 L318.26,328.87 L319.19,328.71 L320.12,328.54 L321.05,328.36 L321.98,328.17 L322.92,327.96 L323.85,327.75 L324.78,327.52 L325.71,327.27 L326.64,327.01 L327.57,326.72 L328.5,326.42 L329.44,326.11 L330.37,325.76 L331.3,325.4 L332.23,325.01 L333.16,324.6 L334.09,324.16 L335.03,323.69 L335.96,323.19 L336.89,322.67 L337.82,322.1 L338.75,321.51 L339.68,320.88 L340.61,320.21 L341.55,319.51 L342.48,318.77 L343.41,317.99 L344.34,317.16 L345.27,316.3 L346.2,315.4 L347.13,314.45 L348.07,313.46 L349,312.43 L349.93,311.36 L350.86,310.24 L351.79,309.09 L352.72,307.89 L353.66,306.66 L354.59,305.39 L355.52,304.09 L356.45,302.75 L357.38,301.39 L358.31,300.01 L359.24,298.6 L360.18,297.18 L361.11,295.75 L362.04,294.32 L362.97,292.89 L363.9,291.47 L364.83,290.08 L365.76,288.71 L366.7,287.39 L367.63,286.11 L368.56,284.91 L369.49,283.77 L370.42,282.73 L371.35,281.78 L372.29,280.94 L373.22,280.22 L374.15,279.64 L375.08,279.19 L376.01,278.89 L376.94,278.74 L377.87,278.74 L378.81,278.94 L379.74,279.34 L380.67,279.92 L381.6,280.69 L382.53,281.64 L383.46,282.76 L384.39,284.03 L385.33,285.44 L386.26,286.99 L387.19,288.64 L388.12,290.4 L389.05,292.23 L389.98,294.13 L390.92,296.08 L391.85,298.06 L392.78,300.05 L393.71,302.05 L394.64,304.04 L395.57,306 L396.5,307.92 L397.44,309.79 L398.37,311.61 L399.3,313.35 L400.23,315.03 L401.16,316.63 L402.09,318.14 L403.02,319.57 L403.96,320.91 L404.89,322.16 L405.82,323.33 L406.75,324.4 L407.68,325.39 L408.61,326.3 L409.55,327.13 L410.48,327.89 L411.41,328.57 L412.34,329.18 L413.27,329.73 L414.2,330.22 L415.13,330.66 L416.07,331.04 L417,331.38 L417.93,331.68 L418.86,331.94 L419.79,332.17 L420.72,332.36 L421.66,332.53 L422.59,332.68 L423.52,332.8 L424.45,332.91 L425.38,333 L426.31,333.08 L427.24,333.14 L428.18,333.2 L429.11,333.24 L430.04,333.28 L430.97,333.31 L431.9,333.34 L432.83,333.36 L433.76,333.37 L434.7,333.39 L435.63,333.4 L436.56,333.41 L437.49,333.42 L438.42,333.42 L439.35,333.43 L440.29,333.43 L441.22,333.43 L442.15,333.44 L443.08,333.44 L444.01,333.44 L444.94,333.44 L445.87,333.44 L446.81,333.44 L447.74,333.44 L448.67,333.44 L449.6,333.44" fill="none" stroke="#25578a" stroke-width="3.0" stroke-linejoin="round" stroke-linecap="round" />
<path d="M263.3,332.59 L264.23,332.58 L265.16,332.56 L266.09,332.55 L267.03,332.53 L267.96,332.52 L268.89,332.5 L269.82,332.48 L270.75,332.46 L271.68,332.44 L272.62,332.43 L273.55,332.41 L274.48,332.39 L275.41,332.37 L276.34,332.34 L277.27,332.32 L278.2,332.3 L279.14,332.28 L280.07,332.25 L281,332.23 L281.93,332.2 L282.86,332.17 L283.79,332.15 L284.72,332.12 L285.66,332.09 L286.59,332.05 L287.52,332.02 L288.45,331.98 L289.38,331.95 L290.31,331.91 L291.25,331.87 L292.18,331.82 L293.11,331.77 L294.04,331.72 L294.97,331.67 L295.9,331.61 L296.83,331.55 L297.77,331.49 L298.7,331.41 L299.63,331.34 L300.56,331.25 L301.49,331.16 L302.42,331.07 L303.35,330.96 L304.29,330.84 L305.22,330.72 L306.15,330.58 L307.08,330.43 L308.01,330.27 L308.94,330.09 L309.88,329.9 L310.81,329.68 L311.74,329.45 L312.67,329.2 L313.6,328.93 L314.53,328.63 L315.46,328.3 L316.4,327.95 L317.33,327.56 L318.26,327.14 L319.19,326.68 L320.12,326.19 L321.05,325.66 L321.98,325.08 L322.92,324.45 L323.85,323.78 L324.78,323.05 L325.71,322.27 L326.64,321.43 L327.57,320.53 L328.5,319.56 L329.44,318.53 L330.37,317.43 L331.3,316.25 L332.23,315 L333.16,313.67 L334.09,312.26 L335.03,310.77 L335.96,309.2 L336.89,307.54 L337.82,305.79 L338.75,303.96 L339.68,302.04 L340.61,300.03 L341.55,297.93 L342.48,295.74 L343.41,293.46 L344.34,291.1 L345.27,288.66 L346.2,286.14 L347.13,283.54 L348.07,280.86 L349,278.12 L349.93,275.31 L350.86,272.45 L351.79,269.53 L352.72,266.56 L353.66,263.56 L354.59,260.53 L355.52,257.48 L356.45,254.41 L357.38,251.34 L358.31,248.28 L359.24,245.23 L360.18,242.22 L361.11,239.24 L362.04,236.31 L362.97,233.45 L363.9,230.67 L364.83,227.97 L365.76,225.38 L366.7,222.9 L367.63,220.54 L368.56,218.33 L369.49,216.26 L370.42,214.36 L371.35,212.63 L372.29,211.08 L373.22,209.73 L374.15,208.58 L375.08,207.63 L376.01,206.91 L376.94,206.4 L377.87,206.12 L378.81,206.07 L379.74,206.44 L380.67,207.29 L381.6,208.63 L382.53,210.42 L383.46,212.66 L384.39,215.31 L385.33,218.35 L386.26,221.74 L387.19,225.46 L388.12,229.45 L389.05,233.68 L389.98,238.1 L390.92,242.69 L391.85,247.38 L392.78,252.15 L393.71,256.95 L394.64,261.74 L395.57,266.5 L396.5,271.18 L397.44,275.75 L398.37,280.2 L399.3,284.5 L400.23,288.62 L401.16,292.55 L402.09,296.29 L403.02,299.81 L403.96,303.12 L404.89,306.21 L405.82,309.09 L406.75,311.74 L407.68,314.18 L408.61,316.42 L409.55,318.45 L410.48,320.3 L411.41,321.96 L412.34,323.46 L413.27,324.79 L414.2,325.98 L415.13,327.03 L416.07,327.96 L417,328.78 L417.93,329.49 L418.86,330.11 L419.79,330.65 L420.72,331.11 L421.66,331.51 L422.59,331.85 L423.52,332.14 L424.45,332.38 L425.38,332.59 L426.31,332.76 L427.24,332.91 L428.18,333.03 L429.11,333.13 L430.04,333.21 L430.97,333.28 L431.9,333.34 L432.83,333.38 L433.76,333.42 L434.7,333.45 L435.63,333.47 L436.56,333.49 L437.49,333.51 L438.42,333.52 L439.35,333.53 L440.29,333.54 L441.22,333.54 L442.15,333.55 L443.08,333.55 L444.01,333.56 L444.94,333.56 L445.87,333.56 L446.81,333.56 L447.74,333.56 L448.67,333.56 L449.6,333.56" fill="none" stroke="#a00c14" stroke-width="3.0" stroke-linejoin="round" stroke-linecap="round" />
<line x1="266.3" y1="203" x2="285.2" y2="203" stroke="#25578a" stroke-width="2.6" />
<text x="286.9" y="205.6" font-size="8.1" text-anchor="start" fill="#25578a" font-weight="bold" stroke="#25578a" stroke-width="0.25">Control</text>
<line x1="266.3" y1="213.5" x2="285.2" y2="213.5" stroke="#a00c14" stroke-width="2.6" />
<text x="286.9" y="216.2" font-size="8.1" text-anchor="start" fill="#a00c14" font-weight="bold" stroke="#a00c14" stroke-width="0.25">Target</text>
<rect x="263.5" y="195.8" width="186.5" height="146.6" fill="none" stroke="#000" stroke-width="1.7"/>
<line x1="491.5" y1="342" x2="491.5" y2="344.5" stroke="#000" stroke-width="1" />
<line x1="509.98" y1="342" x2="509.98" y2="343.6" stroke="#000" stroke-width="1" />
<line x1="528.46" y1="342" x2="528.46" y2="344.5" stroke="#000" stroke-width="1" />
<line x1="546.94" y1="342" x2="546.94" y2="343.6" stroke="#000" stroke-width="1" />
<line x1="565.42" y1="342" x2="565.42" y2="344.5" stroke="#000" stroke-width="1" />
<line x1="583.9" y1="342" x2="583.9" y2="343.6" stroke="#000" stroke-width="1" />
<line x1="602.38" y1="342" x2="602.38" y2="344.5" stroke="#000" stroke-width="1" />
<line x1="620.86" y1="342" x2="620.86" y2="343.6" stroke="#000" stroke-width="1" />
<line x1="639.34" y1="342" x2="639.34" y2="344.5" stroke="#000" stroke-width="1" />
<line x1="657.82" y1="342" x2="657.82" y2="343.6" stroke="#000" stroke-width="1" />
<line x1="676.3" y1="342" x2="676.3" y2="344.5" stroke="#000" stroke-width="1" />
<text x="491.5" y="353.3" font-size="7.2" text-anchor="middle" fill="#111" font-weight="bold" stroke="#111" stroke-width="0.25">0</text>
<text x="528.46" y="353.3" font-size="7.2" text-anchor="middle" fill="#111" font-weight="bold" stroke="#111" stroke-width="0.25">1000</text>
<text x="565.42" y="353.3" font-size="7.2" text-anchor="middle" fill="#111" font-weight="bold" stroke="#111" stroke-width="0.25">2000</text>
<text x="602.38" y="353.3" font-size="7.2" text-anchor="middle" fill="#111" font-weight="bold" stroke="#111" stroke-width="0.25">3000</text>
<text x="639.34" y="353.3" font-size="7.2" text-anchor="middle" fill="#111" font-weight="bold" stroke="#111" stroke-width="0.25">4000</text>
<text x="676.3" y="353.3" font-size="7.2" text-anchor="middle" fill="#111" font-weight="bold" stroke="#111" stroke-width="0.25">5000</text>
<line x1="491.1" y1="341.88" x2="489.5" y2="341.88" stroke="#000" stroke-width="1" />
<line x1="491.1" y1="329.7" x2="488.6" y2="329.7" stroke="#000" stroke-width="1" />
<line x1="491.1" y1="317.52" x2="489.5" y2="317.52" stroke="#000" stroke-width="1" />
<line x1="491.1" y1="305.34" x2="488.6" y2="305.34" stroke="#000" stroke-width="1" />
<line x1="491.1" y1="293.16" x2="489.5" y2="293.16" stroke="#000" stroke-width="1" />
<line x1="491.1" y1="280.98" x2="488.6" y2="280.98" stroke="#000" stroke-width="1" />
<line x1="491.1" y1="268.8" x2="489.5" y2="268.8" stroke="#000" stroke-width="1" />
<line x1="491.1" y1="256.62" x2="488.6" y2="256.62" stroke="#000" stroke-width="1" />
<line x1="491.1" y1="244.44" x2="489.5" y2="244.44" stroke="#000" stroke-width="1" />
<line x1="491.1" y1="232.26" x2="488.6" y2="232.26" stroke="#000" stroke-width="1" />
<line x1="491.1" y1="220.08" x2="489.5" y2="220.08" stroke="#000" stroke-width="1" />
<line x1="491.1" y1="207.9" x2="488.6" y2="207.9" stroke="#000" stroke-width="1" />
<text x="487" y="332.2" font-size="7.2" text-anchor="end" fill="#111" font-weight="bold" stroke="#111" stroke-width="0.25">0.0</text>
<text x="487" y="307.84" font-size="7.2" text-anchor="end" fill="#111" font-weight="bold" stroke="#111" stroke-width="0.25">0.2</text>
<text x="487" y="283.48" font-size="7.2" text-anchor="end" fill="#111" font-weight="bold" stroke="#111" stroke-width="0.25">0.4</text>
<text x="487" y="259.12" font-size="7.2" text-anchor="end" fill="#111" font-weight="bold" stroke="#111" stroke-width="0.25">0.6</text>
<text x="487" y="234.76" font-size="7.2" text-anchor="end" fill="#111" font-weight="bold" stroke="#111" stroke-width="0.25">0.8</text>
<text x="487" y="210.4" font-size="7.2" text-anchor="end" fill="#111" font-weight="bold" stroke="#111" stroke-width="0.25">1.0</text>
<text x="574.9" y="362.7" font-size="11.2" text-anchor="middle" fill="#111" font-weight="bold" stroke="#111" stroke-width="0.25">Time / ns</text>
<text x="475.3" y="280.1" font-size="10.9" text-anchor="middle" fill="#111" font-weight="bold" stroke="#111" stroke-width="0.25" transform="rotate(-90 475.3 280.1)">Counts / normalized</text>
<path d="M491.5,209.61 L491.57,218.02 L491.65,225.53 L491.72,232.25 L491.8,238.27 L491.87,243.68 L491.94,248.54 L492.02,252.92 L492.09,256.88 L492.17,260.46 L492.24,263.72 L492.31,266.68 L492.39,269.38 L492.46,271.85 L492.53,274.12 L492.61,276.2 L492.68,278.12 L492.76,279.9 L492.83,281.55 L492.9,283.09 L492.98,284.52 L493.05,285.85 L493.13,287.11 L493.2,288.28 L493.27,289.39 L493.35,290.44 L493.42,291.43 L493.5,292.37 L493.57,293.27 L493.64,294.12 L493.72,294.93 L493.79,295.7 L493.87,296.45 L493.94,297.16 L494.01,297.84 L494.09,298.5 L494.16,299.13 L494.24,299.74 L494.31,300.33 L494.38,300.89 L494.46,301.44 L494.53,301.97 L494.6,302.49 L494.68,302.99 L494.75,303.47 L494.83,303.94 L494.9,304.39 L494.97,304.84 L495.05,305.27 L495.12,305.68 L495.2,306.09 L495.27,306.49 L495.34,306.87 L495.42,307.25 L495.49,307.61 L495.57,307.97 L495.64,308.32 L495.71,308.66 L495.79,308.99 L495.86,309.31 L495.94,309.63 L496.01,309.94 L496.08,310.24 L496.16,310.54 L496.23,310.82 L496.3,311.1 L496.38,311.38 L496.45,311.65 L496.53,311.91 L496.6,312.17 L496.67,312.42 L496.75,312.67 L496.82,312.91 L496.9,313.15 L496.97,313.38 L497.04,313.61 L497.12,313.83 L497.19,314.05 L497.27,314.26 L497.34,314.47 L497.41,314.67 L497.49,314.88 L497.56,315.07 L497.64,315.27 L497.71,315.46 L497.78,315.64 L497.86,315.83 L497.93,316.01 L498,316.18 L498.08,316.35 L498.15,316.52 L498.23,316.69 L498.3,316.85 L498.37,317.01 L498.45,317.17 L498.52,317.33 L498.6,317.48 L498.67,317.63 L498.74,317.78 L498.82,317.92 L498.89,318.06 L499.26,318.74 L499.63,319.36 L500,319.94 L500.37,320.48 L500.74,320.97 L501.11,321.43 L501.48,321.86 L501.85,322.26 L502.22,322.64 L502.59,322.99 L502.96,323.32 L503.33,323.63 L503.7,323.92 L504.07,324.2 L504.44,324.46 L504.81,324.7 L505.18,324.93 L505.54,325.14 L505.91,325.35 L506.28,325.54 L506.65,325.72 L507.02,325.9 L507.39,326.06 L507.76,326.21 L508.13,326.36 L508.5,326.5 L508.87,326.63 L509.24,326.75 L509.61,326.87 L509.98,326.98 L510.35,327.08 L510.72,327.18 L511.09,327.28 L511.46,327.36 L511.83,327.45 L512.2,327.53 L512.57,327.6 L512.94,327.68 L513.31,327.74 L513.68,327.81 L514.05,327.87 L514.42,327.93 L514.78,327.98 L515.15,328.03 L515.52,328.08 L515.89,328.13 L516.26,328.17 L516.63,328.21 L517,328.25 L517.37,328.29 L517.74,328.33 L518.11,328.36 L518.48,328.39 L518.85,328.42 L519.22,328.45 L519.59,328.48 L519.96,328.5 L520.33,328.53 L520.7,328.55 L521.07,328.57 L521.44,328.59 L521.81,328.61 L522.18,328.63 L522.55,328.65 L522.92,328.67 L523.29,328.68 L523.66,328.7 L524.02,328.71 L524.39,328.72 L524.76,328.74 L525.13,328.75 L525.5,328.76 L525.87,328.77 L526.24,328.78 L526.61,328.79 L526.98,328.8 L527.35,328.81 L527.72,328.82 L528.09,328.83 L528.46,328.83 L528.83,328.84 L529.2,328.85 L529.57,328.85 L529.94,328.86 L530.31,328.87 L530.68,328.87 L531.05,328.88 L531.42,328.88 L531.79,328.89 L532.16,328.89 L532.53,328.89 L532.9,328.9 L533.26,328.9 L533.63,328.91 L534,328.91 L534.37,328.91 L534.74,328.91 L535.11,328.92 L535.48,328.92 L535.85,328.92 L536.22,328.93 L536.59,328.93 L536.96,328.93 L537.33,328.93 L537.7,328.93 L538.07,328.94 L538.44,328.94 L538.81,328.94 L539.18,328.94 L539.55,328.94 L539.92,328.94 L540.29,328.95 L540.66,328.95 L541.03,328.95 L541.4,328.95 L541.77,328.95 L542.14,328.95 L542.5,328.95 L542.87,328.95 L543.24,328.95 L543.61,328.95 L543.98,328.96 L544.35,328.96 L544.72,328.96 L545.09,328.96 L545.46,328.96 L545.83,328.96 L546.2,328.96 L546.57,328.96 L546.94,328.96 L547.31,328.96 L547.68,328.96 L548.05,328.96 L548.42,328.96 L548.79,328.96 L549.16,328.96 L549.53,328.96 L549.9,328.96 L550.27,328.96 L550.64,328.96 L551.01,328.96 L551.38,328.96 L551.74,328.96 L552.11,328.96 L552.48,328.97 L552.85,328.97 L553.22,328.97 L553.59,328.97 L553.96,328.97 L554.33,328.97 L554.7,328.97 L555.07,328.97 L555.44,328.97 L555.81,328.97 L556.18,328.97 L556.55,328.97 L556.92,328.97 L557.29,328.97 L557.66,328.97 L558.03,328.97 L558.4,328.97 L558.77,328.97 L559.14,328.97 L559.51,328.97 L559.88,328.97 L560.25,328.97 L560.62,328.97 L560.98,328.97 L561.35,328.97 L561.72,328.97 L562.09,328.97 L562.46,328.97 L562.83,328.97 L563.2,328.97 L563.57,328.97 L563.94,328.97 L564.31,328.97 L564.68,328.97 L565.05,328.97 L565.42,328.97 L565.79,328.97 L566.16,328.97 L566.53,328.97 L566.9,328.97 L567.27,328.97 L567.64,328.97 L568.01,328.97 L568.38,328.97 L568.75,328.97 L569.12,328.97 L569.49,328.97 L569.86,328.97 L570.22,328.97 L570.59,328.97 L570.96,328.97 L571.33,328.97 L571.7,328.97 L572.07,328.97 L572.44,328.97 L572.81,328.97 L573.18,328.97 L573.55,328.97 L573.92,328.97 L574.29,328.97 L574.66,328.97 L575.03,328.97 L575.4,328.97 L575.77,328.97 L576.14,328.97 L576.51,328.97 L576.88,328.97 L577.25,328.97 L577.62,328.97 L577.99,328.97 L578.36,328.97 L578.73,328.97 L579.1,328.97 L579.46,328.97 L579.83,328.97 L580.2,328.97 L580.57,328.97 L580.94,328.97 L581.31,328.97 L581.68,328.97 L582.05,328.97 L582.42,328.97 L582.79,328.97 L583.16,328.97 L583.53,328.97 L583.9,328.97 L584.27,328.97 L584.64,328.97 L585.01,328.97 L585.38,328.97 L585.75,328.97 L586.12,328.97 L586.49,328.97 L586.86,328.97 L587.23,328.97 L587.6,328.97 L587.97,328.97 L588.34,328.97 L588.7,328.97 L589.07,328.97 L589.44,328.97 L589.81,328.97 L590.18,328.97 L590.55,328.97 L590.92,328.97 L591.29,328.97 L591.66,328.97 L592.03,328.97 L592.4,328.97 L592.77,328.97 L593.14,328.97 L593.51,328.97 L593.88,328.97 L594.25,328.97 L594.62,328.97 L594.99,328.97 L595.36,328.97 L595.73,328.97 L596.1,328.97 L596.47,328.97 L596.84,328.97 L597.21,328.97 L597.58,328.97 L597.94,328.97 L598.31,328.97 L598.68,328.97 L599.05,328.97 L599.42,328.97 L599.79,328.97 L600.16,328.97 L600.53,328.97 L600.9,328.97 L601.27,328.97 L601.64,328.97 L602.01,328.97 L602.38,328.97 L602.75,328.97 L603.12,328.97 L603.49,328.97 L603.86,328.97 L604.23,328.97 L604.6,328.97 L604.97,328.97 L605.34,328.97 L605.71,328.97 L606.08,328.97 L606.45,328.97 L606.82,328.97 L607.18,328.97 L607.55,328.97 L607.92,328.97 L608.29,328.97 L608.66,328.97 L609.03,328.97 L609.4,328.97 L609.77,328.97 L610.14,328.97 L610.51,328.97 L610.88,328.97 L611.25,328.97 L611.62,328.97 L611.99,328.97 L612.36,328.97 L612.73,328.97 L613.1,328.97 L613.47,328.97 L613.84,328.97 L614.21,328.97 L614.58,328.97 L614.95,328.97 L615.32,328.97 L615.69,328.97 L616.06,328.97 L616.42,328.97 L616.79,328.97 L617.16,328.97 L617.53,328.97 L617.9,328.97 L618.27,328.97 L618.64,328.97 L619.01,328.97 L619.38,328.97 L619.75,328.97 L620.12,328.97 L620.49,328.97 L620.86,328.97 L621.23,328.97 L621.6,328.97 L621.97,328.97 L622.34,328.97 L622.71,328.97 L623.08,328.97 L623.45,328.97 L623.82,328.97 L624.19,328.97 L624.56,328.97 L624.93,328.97 L625.3,328.97 L625.66,328.97 L626.03,328.97 L626.4,328.97 L626.77,328.97 L627.14,328.97 L627.51,328.97 L627.88,328.97 L628.25,328.97 L628.62,328.97 L628.99,328.97 L629.36,328.97 L629.73,328.97 L630.1,328.97 L630.47,328.97 L630.84,328.97 L631.21,328.97 L631.58,328.97 L631.95,328.97 L632.32,328.97 L632.69,328.97 L633.06,328.97 L633.43,328.97 L633.8,328.97 L634.17,328.97 L634.54,328.97 L634.9,328.97 L635.27,328.97 L635.64,328.97 L636.01,328.97 L636.38,328.97 L636.75,328.97 L637.12,328.97 L637.49,328.97 L637.86,328.97 L638.23,328.97 L638.6,328.97 L638.97,328.97 L639.34,328.97 L639.71,328.97 L640.08,328.97 L640.45,328.97 L640.82,328.97 L641.19,328.97 L641.56,328.97 L641.93,328.97 L642.3,328.97 L642.67,328.97 L643.04,328.97 L643.41,328.97 L643.78,328.97 L644.14,328.97 L644.51,328.97 L644.88,328.97 L645.25,328.97 L645.62,328.97 L645.99,328.97 L646.36,328.97 L646.73,328.97 L647.1,328.97 L647.47,328.97 L647.84,328.97 L648.21,328.97 L648.58,328.97 L648.95,328.97 L649.32,328.97 L649.69,328.97 L650.06,328.97 L650.43,328.97 L650.8,328.97 L651.17,328.97 L651.54,328.97 L651.91,328.97 L652.28,328.97 L652.65,328.97 L653.02,328.97 L653.38,328.97 L653.75,328.97 L654.12,328.97 L654.49,328.97 L654.86,328.97 L655.23,328.97 L655.6,328.97 L655.97,328.97 L656.34,328.97 L656.71,328.97 L657.08,328.97 L657.45,328.97 L657.82,328.97 L658.19,328.97 L658.56,328.97 L658.93,328.97 L659.3,328.97 L659.67,328.97 L660.04,328.97 L660.41,328.97 L660.78,328.97 L661.15,328.97 L661.52,328.97 L661.89,328.97 L662.26,328.97 L662.62,328.97 L662.99,328.97 L663.36,328.97 L663.73,328.97 L664.1,328.97 L664.47,328.97 L664.84,328.97 L665.21,328.97 L665.58,328.97 L665.95,328.97 L666.32,328.97 L666.69,328.97 L667.06,328.97 L667.43,328.97 L667.8,328.97 L668.17,328.97 L668.54,328.97 L668.91,328.97 L669.28,328.97 L669.65,328.97 L670.02,328.97 L670.39,328.97 L670.76,328.97 L671.13,328.97 L671.5,328.97 L671.86,328.97 L672.23,328.97 L672.6,328.97 L672.97,328.97 L673.34,328.97 L673.71,328.97 L674.08,328.97 L674.45,328.97 L674.82,328.97 L675.19,328.97 L675.56,328.97 L675.93,328.97 L676.3,328.97" fill="none" stroke="#25578a" stroke-width="5.6" stroke-linejoin="round" stroke-linecap="round" />
<path d="M491.5,209.61 L491.57,218.02 L491.65,225.53 L491.72,232.25 L491.8,238.27 L491.87,243.68 L491.94,248.54 L492.02,252.92 L492.09,256.88 L492.17,260.46 L492.24,263.72 L492.31,266.68 L492.39,269.38 L492.46,271.85 L492.53,274.12 L492.61,276.2 L492.68,278.12 L492.76,279.9 L492.83,281.55 L492.9,283.09 L492.98,284.52 L493.05,285.85 L493.13,287.11 L493.2,288.28 L493.27,289.39 L493.35,290.44 L493.42,291.43 L493.5,292.37 L493.57,293.27 L493.64,294.12 L493.72,294.93 L493.79,295.7 L493.87,296.45 L493.94,297.16 L494.01,297.84 L494.09,298.5 L494.16,299.13 L494.24,299.74 L494.31,300.33 L494.38,300.89 L494.46,301.44 L494.53,301.97 L494.6,302.49 L494.68,302.99 L494.75,303.47 L494.83,303.94 L494.9,304.39 L494.97,304.84 L495.05,305.27 L495.12,305.68 L495.2,306.09 L495.27,306.49 L495.34,306.87 L495.42,307.25 L495.49,307.61 L495.57,307.97 L495.64,308.32 L495.71,308.66 L495.79,308.99 L495.86,309.31 L495.94,309.63 L496.01,309.94 L496.08,310.24 L496.16,310.54 L496.23,310.82 L496.3,311.1 L496.38,311.38 L496.45,311.65 L496.53,311.91 L496.6,312.17 L496.67,312.42 L496.75,312.67 L496.82,312.91 L496.9,313.15 L496.97,313.38 L497.04,313.61 L497.12,313.83 L497.19,314.05 L497.27,314.26 L497.34,314.47 L497.41,314.67 L497.49,314.88 L497.56,315.07 L497.64,315.27 L497.71,315.46 L497.78,315.64 L497.86,315.83 L497.93,316.01 L498,316.18 L498.08,316.35 L498.15,316.52 L498.23,316.69 L498.3,316.85 L498.37,317.01 L498.45,317.17 L498.52,317.33 L498.6,317.48 L498.67,317.63 L498.74,317.78 L498.82,317.92 L498.89,318.06 L499.26,318.74 L499.63,319.36 L500,319.94 L500.37,320.48 L500.74,320.97 L501.11,321.43 L501.48,321.86 L501.85,322.26 L502.22,322.64 L502.59,322.99 L502.96,323.32 L503.33,323.63 L503.7,323.92 L504.07,324.2 L504.44,324.46 L504.81,324.7 L505.18,324.93 L505.54,325.14 L505.91,325.35 L506.28,325.54 L506.65,325.72 L507.02,325.9 L507.39,326.06 L507.76,326.21 L508.13,326.36 L508.5,326.5 L508.87,326.63 L509.24,326.75 L509.61,326.87 L509.98,326.98 L510.35,327.08 L510.72,327.18 L511.09,327.28 L511.46,327.36 L511.83,327.45 L512.2,327.53 L512.57,327.6 L512.94,327.68 L513.31,327.74 L513.68,327.81 L514.05,327.87 L514.42,327.93 L514.78,327.98 L515.15,328.03 L515.52,328.08 L515.89,328.13 L516.26,328.17 L516.63,328.21 L517,328.25 L517.37,328.29 L517.74,328.33 L518.11,328.36 L518.48,328.39 L518.85,328.42 L519.22,328.45 L519.59,328.48 L519.96,328.5 L520.33,328.53 L520.7,328.55 L521.07,328.57 L521.44,328.59 L521.81,328.61 L522.18,328.63 L522.55,328.65 L522.92,328.67 L523.29,328.68 L523.66,328.7 L524.02,328.71 L524.39,328.72 L524.76,328.74 L525.13,328.75 L525.5,328.76 L525.87,328.77 L526.24,328.78 L526.61,328.79 L526.98,328.8 L527.35,328.81 L527.72,328.82 L528.09,328.83 L528.46,328.83 L528.83,328.84 L529.2,328.85 L529.57,328.85 L529.94,328.86 L530.31,328.87 L530.68,328.87 L531.05,328.88 L531.42,328.88 L531.79,328.89 L532.16,328.89 L532.53,328.89 L532.9,328.9 L533.26,328.9 L533.63,328.91 L534,328.91 L534.37,328.91 L534.74,328.91 L535.11,328.92 L535.48,328.92 L535.85,328.92 L536.22,328.93 L536.59,328.93 L536.96,328.93 L537.33,328.93 L537.7,328.93 L538.07,328.94 L538.44,328.94 L538.81,328.94 L539.18,328.94 L539.55,328.94 L539.92,328.94 L540.29,328.95 L540.66,328.95 L541.03,328.95 L541.4,328.95 L541.77,328.95 L542.14,328.95 L542.5,328.95 L542.87,328.95 L543.24,328.95 L543.61,328.95 L543.98,328.96 L544.35,328.96 L544.72,328.96 L545.09,328.96 L545.46,328.96 L545.83,328.96 L546.2,328.96 L546.57,328.96 L546.94,328.96 L547.31,328.96 L547.68,328.96 L548.05,328.96 L548.42,328.96 L548.79,328.96 L549.16,328.96 L549.53,328.96 L549.9,328.96 L550.27,328.96 L550.64,328.96 L551.01,328.96 L551.38,328.96 L551.74,328.96 L552.11,328.96 L552.48,328.97 L552.85,328.97 L553.22,328.97 L553.59,328.97 L553.96,328.97 L554.33,328.97 L554.7,328.97 L555.07,328.97 L555.44,328.97 L555.81,328.97 L556.18,328.97 L556.55,328.97 L556.92,328.97 L557.29,328.97 L557.66,328.97 L558.03,328.97 L558.4,328.97 L558.77,328.97 L559.14,328.97 L559.51,328.97 L559.88,328.97 L560.25,328.97 L560.62,328.97 L560.98,328.97 L561.35,328.97 L561.72,328.97 L562.09,328.97 L562.46,328.97 L562.83,328.97 L563.2,328.97 L563.57,328.97 L563.94,328.97 L564.31,328.97 L564.68,328.97 L565.05,328.97 L565.42,328.97 L565.79,328.97 L566.16,328.97 L566.53,328.97 L566.9,328.97 L567.27,328.97 L567.64,328.97 L568.01,328.97 L568.38,328.97 L568.75,328.97 L569.12,328.97 L569.49,328.97 L569.86,328.97 L570.22,328.97 L570.59,328.97 L570.96,328.97 L571.33,328.97 L571.7,328.97 L572.07,328.97 L572.44,328.97 L572.81,328.97 L573.18,328.97 L573.55,328.97 L573.92,328.97 L574.29,328.97 L574.66,328.97 L575.03,328.97 L575.4,328.97 L575.77,328.97 L576.14,328.97 L576.51,328.97 L576.88,328.97 L577.25,328.97 L577.62,328.97 L577.99,328.97 L578.36,328.97 L578.73,328.97 L579.1,328.97 L579.46,328.97 L579.83,328.97 L580.2,328.97 L580.57,328.97 L580.94,328.97 L581.31,328.97 L581.68,328.97 L582.05,328.97 L582.42,328.97 L582.79,328.97 L583.16,328.97 L583.53,328.97 L583.9,328.97 L584.27,328.97 L584.64,328.97 L585.01,328.97 L585.38,328.97 L585.75,328.97 L586.12,328.97 L586.49,328.97 L586.86,328.97 L587.23,328.97 L587.6,328.97 L587.97,328.97 L588.34,328.97 L588.7,328.97 L589.07,328.97 L589.44,328.97 L589.81,328.97 L590.18,328.97 L590.55,328.97 L590.92,328.97 L591.29,328.97 L591.66,328.97 L592.03,328.97 L592.4,328.97 L592.77,328.97 L593.14,328.97 L593.51,328.97 L593.88,328.97 L594.25,328.97 L594.62,328.97 L594.99,328.97 L595.36,328.97 L595.73,328.97 L596.1,328.97 L596.47,328.97 L596.84,328.97 L597.21,328.97 L597.58,328.97 L597.94,328.97 L598.31,328.97 L598.68,328.97 L599.05,328.97 L599.42,328.97 L599.79,328.97 L600.16,328.97 L600.53,328.97 L600.9,328.97 L601.27,328.97 L601.64,328.97 L602.01,328.97 L602.38,328.97 L602.75,328.97 L603.12,328.97 L603.49,328.97 L603.86,328.97 L604.23,328.97 L604.6,328.97 L604.97,328.97 L605.34,328.97 L605.71,328.97 L606.08,328.97 L606.45,328.97 L606.82,328.97 L607.18,328.97 L607.55,328.97 L607.92,328.97 L608.29,328.97 L608.66,328.97 L609.03,328.97 L609.4,328.97 L609.77,328.97 L610.14,328.97 L610.51,328.97 L610.88,328.97 L611.25,328.97 L611.62,328.97 L611.99,328.97 L612.36,328.97 L612.73,328.97 L613.1,328.97 L613.47,328.97 L613.84,328.97 L614.21,328.97 L614.58,328.97 L614.95,328.97 L615.32,328.97 L615.69,328.97 L616.06,328.97 L616.42,328.97 L616.79,328.97 L617.16,328.97 L617.53,328.97 L617.9,328.97 L618.27,328.97 L618.64,328.97 L619.01,328.97 L619.38,328.97 L619.75,328.97 L620.12,328.97 L620.49,328.97 L620.86,328.97 L621.23,328.97 L621.6,328.97 L621.97,328.97 L622.34,328.97 L622.71,328.97 L623.08,328.97 L623.45,328.97 L623.82,328.97 L624.19,328.97 L624.56,328.97 L624.93,328.97 L625.3,328.97 L625.66,328.97 L626.03,328.97 L626.4,328.97 L626.77,328.97 L627.14,328.97 L627.51,328.97 L627.88,328.97 L628.25,328.97 L628.62,328.97 L628.99,328.97 L629.36,328.97 L629.73,328.97 L630.1,328.97 L630.47,328.97 L630.84,328.97 L631.21,328.97 L631.58,328.97 L631.95,328.97 L632.32,328.97 L632.69,328.97 L633.06,328.97 L633.43,328.97 L633.8,328.97 L634.17,328.97 L634.54,328.97 L634.9,328.97 L635.27,328.97 L635.64,328.97 L636.01,328.97 L636.38,328.97 L636.75,328.97 L637.12,328.97 L637.49,328.97 L637.86,328.97 L638.23,328.97 L638.6,328.97 L638.97,328.97 L639.34,328.97 L639.71,328.97 L640.08,328.97 L640.45,328.97 L640.82,328.97 L641.19,328.97 L641.56,328.97 L641.93,328.97 L642.3,328.97 L642.67,328.97 L643.04,328.97 L643.41,328.97 L643.78,328.97 L644.14,328.97 L644.51,328.97 L644.88,328.97 L645.25,328.97 L645.62,328.97 L645.99,328.97 L646.36,328.97 L646.73,328.97 L647.1,328.97 L647.47,328.97 L647.84,328.97 L648.21,328.97 L648.58,328.97 L648.95,328.97 L649.32,328.97 L649.69,328.97 L650.06,328.97 L650.43,328.97 L650.8,328.97 L651.17,328.97 L651.54,328.97 L651.91,328.97 L652.28,328.97 L652.65,328.97 L653.02,328.97 L653.38,328.97 L653.75,328.97 L654.12,328.97 L654.49,328.97 L654.86,328.97 L655.23,328.97 L655.6,328.97 L655.97,328.97 L656.34,328.97 L656.71,328.97 L657.08,328.97 L657.45,328.97 L657.82,328.97 L658.19,328.97 L658.56,328.97 L658.93,328.97 L659.3,328.97 L659.67,328.97 L660.04,328.97 L660.41,328.97 L660.78,328.97 L661.15,328.97 L661.52,328.97 L661.89,328.97 L662.26,328.97 L662.62,328.97 L662.99,328.97 L663.36,328.97 L663.73,328.97 L664.1,328.97 L664.47,328.97 L664.84,328.97 L665.21,328.97 L665.58,328.97 L665.95,328.97 L666.32,328.97 L666.69,328.97 L667.06,328.97 L667.43,328.97 L667.8,328.97 L668.17,328.97 L668.54,328.97 L668.91,328.97 L669.28,328.97 L669.65,328.97 L670.02,328.97 L670.39,328.97 L670.76,328.97 L671.13,328.97 L671.5,328.97 L671.86,328.97 L672.23,328.97 L672.6,328.97 L672.97,328.97 L673.34,328.97 L673.71,328.97 L674.08,328.97 L674.45,328.97 L674.82,328.97 L675.19,328.97 L675.56,328.97 L675.93,328.97 L676.3,328.97" fill="none" stroke="#5b86b3" stroke-width="1.4" stroke-linejoin="round" stroke-linecap="round" opacity="0.7"/>
<path d="M491.5,211.63 L491.57,212.3 L491.65,212.96 L491.72,213.61 L491.8,214.25 L491.87,214.88 L491.94,215.5 L492.02,216.11 L492.09,216.71 L492.17,217.31 L492.24,217.89 L492.31,218.46 L492.39,219.03 L492.46,219.59 L492.53,220.13 L492.61,220.67 L492.68,221.21 L492.76,221.73 L492.83,222.24 L492.9,222.75 L492.98,223.25 L493.05,223.75 L493.13,224.23 L493.2,224.71 L493.27,225.18 L493.35,225.65 L493.42,226.1 L493.5,226.55 L493.57,227 L493.64,227.44 L493.72,227.87 L493.79,228.29 L493.87,228.71 L493.94,229.13 L494.01,229.53 L494.09,229.93 L494.16,230.33 L494.24,230.72 L494.31,231.11 L494.38,231.49 L494.46,231.86 L494.53,232.23 L494.6,232.59 L494.68,232.95 L494.75,233.31 L494.83,233.66 L494.9,234 L494.97,234.34 L495.05,234.68 L495.12,235.01 L495.2,235.33 L495.27,235.66 L495.34,235.97 L495.42,236.29 L495.49,236.6 L495.57,236.9 L495.64,237.21 L495.71,237.5 L495.79,237.8 L495.86,238.09 L495.94,238.38 L496.01,238.66 L496.08,238.94 L496.16,239.21 L496.23,239.49 L496.3,239.76 L496.38,240.02 L496.45,240.29 L496.53,240.55 L496.6,240.8 L496.67,241.06 L496.75,241.31 L496.82,241.56 L496.9,241.8 L496.97,242.04 L497.04,242.28 L497.12,242.52 L497.19,242.75 L497.27,242.98 L497.34,243.21 L497.41,243.44 L497.49,243.66 L497.56,243.88 L497.64,244.1 L497.71,244.32 L497.78,244.53 L497.86,244.74 L497.93,244.95 L498,245.16 L498.08,245.36 L498.15,245.57 L498.23,245.77 L498.3,245.97 L498.37,246.16 L498.45,246.36 L498.52,246.55 L498.6,246.74 L498.67,246.93 L498.74,247.12 L498.82,247.3 L498.89,247.48 L499.26,248.38 L499.63,249.23 L500,250.04 L500.37,250.82 L500.74,251.57 L501.11,252.29 L501.48,252.98 L501.85,253.65 L502.22,254.3 L502.59,254.93 L502.96,255.53 L503.33,256.12 L503.7,256.7 L504.07,257.26 L504.44,257.8 L504.81,258.34 L505.18,258.86 L505.54,259.37 L505.91,259.87 L506.28,260.36 L506.65,260.84 L507.02,261.31 L507.39,261.77 L507.76,262.23 L508.13,262.68 L508.5,263.13 L508.87,263.56 L509.24,264 L509.61,264.42 L509.98,264.84 L510.35,265.26 L510.72,265.67 L511.09,266.08 L511.46,266.48 L511.83,266.88 L512.2,267.27 L512.57,267.67 L512.94,268.05 L513.31,268.44 L513.68,268.82 L514.05,269.19 L514.42,269.57 L514.78,269.94 L515.15,270.31 L515.52,270.67 L515.89,271.03 L516.26,271.39 L516.63,271.75 L517,272.1 L517.37,272.45 L517.74,272.8 L518.11,273.15 L518.48,273.49 L518.85,273.83 L519.22,274.17 L519.59,274.51 L519.96,274.84 L520.33,275.17 L520.7,275.5 L521.07,275.83 L521.44,276.15 L521.81,276.48 L522.18,276.8 L522.55,277.12 L522.92,277.43 L523.29,277.75 L523.66,278.06 L524.02,278.37 L524.39,278.68 L524.76,278.98 L525.13,279.29 L525.5,279.59 L525.87,279.89 L526.24,280.19 L526.61,280.49 L526.98,280.78 L527.35,281.07 L527.72,281.36 L528.09,281.65 L528.46,281.94 L528.83,282.22 L529.2,282.51 L529.57,282.79 L529.94,283.07 L530.31,283.35 L530.68,283.62 L531.05,283.9 L531.42,284.17 L531.79,284.44 L532.16,284.71 L532.53,284.98 L532.9,285.25 L533.26,285.51 L533.63,285.77 L534,286.03 L534.37,286.29 L534.74,286.55 L535.11,286.81 L535.48,287.06 L535.85,287.31 L536.22,287.57 L536.59,287.82 L536.96,288.06 L537.33,288.31 L537.7,288.56 L538.07,288.8 L538.44,289.04 L538.81,289.28 L539.18,289.52 L539.55,289.76 L539.92,289.99 L540.29,290.23 L540.66,290.46 L541.03,290.69 L541.4,290.92 L541.77,291.15 L542.14,291.38 L542.5,291.6 L542.87,291.83 L543.24,292.05 L543.61,292.27 L543.98,292.49 L544.35,292.71 L544.72,292.93 L545.09,293.14 L545.46,293.36 L545.83,293.57 L546.2,293.78 L546.57,293.99 L546.94,294.2 L547.31,294.41 L547.68,294.62 L548.05,294.82 L548.42,295.03 L548.79,295.23 L549.16,295.43 L549.53,295.63 L549.9,295.83 L550.27,296.03 L550.64,296.22 L551.01,296.42 L551.38,296.61 L551.74,296.8 L552.11,297 L552.48,297.19 L552.85,297.38 L553.22,297.56 L553.59,297.75 L553.96,297.94 L554.33,298.12 L554.7,298.3 L555.07,298.49 L555.44,298.67 L555.81,298.85 L556.18,299.02 L556.55,299.2 L556.92,299.38 L557.29,299.55 L557.66,299.73 L558.03,299.9 L558.4,300.07 L558.77,300.24 L559.14,300.41 L559.51,300.58 L559.88,300.75 L560.25,300.92 L560.62,301.08 L560.98,301.25 L561.35,301.41 L561.72,301.57 L562.09,301.73 L562.46,301.89 L562.83,302.05 L563.2,302.21 L563.57,302.37 L563.94,302.53 L564.31,302.68 L564.68,302.84 L565.05,302.99 L565.42,303.14 L565.79,303.29 L566.16,303.44 L566.53,303.59 L566.9,303.74 L567.27,303.89 L567.64,304.04 L568.01,304.18 L568.38,304.33 L568.75,304.47 L569.12,304.61 L569.49,304.76 L569.86,304.9 L570.22,305.04 L570.59,305.18 L570.96,305.32 L571.33,305.46 L571.7,305.59 L572.07,305.73 L572.44,305.86 L572.81,306 L573.18,306.13 L573.55,306.26 L573.92,306.4 L574.29,306.53 L574.66,306.66 L575.03,306.79 L575.4,306.92 L575.77,307.04 L576.14,307.17 L576.51,307.3 L576.88,307.42 L577.25,307.55 L577.62,307.67 L577.99,307.79 L578.36,307.92 L578.73,308.04 L579.1,308.16 L579.46,308.28 L579.83,308.4 L580.2,308.52 L580.57,308.63 L580.94,308.75 L581.31,308.87 L581.68,308.98 L582.05,309.1 L582.42,309.21 L582.79,309.32 L583.16,309.44 L583.53,309.55 L583.9,309.66 L584.27,309.77 L584.64,309.88 L585.01,309.99 L585.38,310.1 L585.75,310.2 L586.12,310.31 L586.49,310.42 L586.86,310.52 L587.23,310.63 L587.6,310.73 L587.97,310.84 L588.34,310.94 L588.7,311.04 L589.07,311.14 L589.44,311.25 L589.81,311.35 L590.18,311.45 L590.55,311.55 L590.92,311.64 L591.29,311.74 L591.66,311.84 L592.03,311.94 L592.4,312.03 L592.77,312.13 L593.14,312.22 L593.51,312.32 L593.88,312.41 L594.25,312.5 L594.62,312.6 L594.99,312.69 L595.36,312.78 L595.73,312.87 L596.1,312.96 L596.47,313.05 L596.84,313.14 L597.21,313.23 L597.58,313.32 L597.94,313.4 L598.31,313.49 L598.68,313.58 L599.05,313.66 L599.42,313.75 L599.79,313.83 L600.16,313.92 L600.53,314 L600.9,314.08 L601.27,314.17 L601.64,314.25 L602.01,314.33 L602.38,314.41 L602.75,314.49 L603.12,314.57 L603.49,314.65 L603.86,314.73 L604.23,314.81 L604.6,314.89 L604.97,314.97 L605.34,315.04 L605.71,315.12 L606.08,315.19 L606.45,315.27 L606.82,315.35 L607.18,315.42 L607.55,315.49 L607.92,315.57 L608.29,315.64 L608.66,315.71 L609.03,315.79 L609.4,315.86 L609.77,315.93 L610.14,316 L610.51,316.07 L610.88,316.14 L611.25,316.21 L611.62,316.28 L611.99,316.35 L612.36,316.42 L612.73,316.49 L613.1,316.55 L613.47,316.62 L613.84,316.69 L614.21,316.75 L614.58,316.82 L614.95,316.88 L615.32,316.95 L615.69,317.01 L616.06,317.08 L616.42,317.14 L616.79,317.21 L617.16,317.27 L617.53,317.33 L617.9,317.39 L618.27,317.45 L618.64,317.52 L619.01,317.58 L619.38,317.64 L619.75,317.7 L620.12,317.76 L620.49,317.82 L620.86,317.88 L621.23,317.94 L621.6,317.99 L621.97,318.05 L622.34,318.11 L622.71,318.17 L623.08,318.22 L623.45,318.28 L623.82,318.34 L624.19,318.39 L624.56,318.45 L624.93,318.5 L625.3,318.56 L625.66,318.61 L626.03,318.67 L626.4,318.72 L626.77,318.77 L627.14,318.83 L627.51,318.88 L627.88,318.93 L628.25,318.98 L628.62,319.04 L628.99,319.09 L629.36,319.14 L629.73,319.19 L630.1,319.24 L630.47,319.29 L630.84,319.34 L631.21,319.39 L631.58,319.44 L631.95,319.49 L632.32,319.54 L632.69,319.58 L633.06,319.63 L633.43,319.68 L633.8,319.73 L634.17,319.77 L634.54,319.82 L634.9,319.87 L635.27,319.91 L635.64,319.96 L636.01,320.01 L636.38,320.05 L636.75,320.1 L637.12,320.14 L637.49,320.18 L637.86,320.23 L638.23,320.27 L638.6,320.32 L638.97,320.36 L639.34,320.4 L639.71,320.45 L640.08,320.49 L640.45,320.53 L640.82,320.57 L641.19,320.61 L641.56,320.66 L641.93,320.7 L642.3,320.74 L642.67,320.78 L643.04,320.82 L643.41,320.86 L643.78,320.9 L644.14,320.94 L644.51,320.98 L644.88,321.02 L645.25,321.06 L645.62,321.1 L645.99,321.13 L646.36,321.17 L646.73,321.21 L647.1,321.25 L647.47,321.29 L647.84,321.32 L648.21,321.36 L648.58,321.4 L648.95,321.43 L649.32,321.47 L649.69,321.51 L650.06,321.54 L650.43,321.58 L650.8,321.61 L651.17,321.65 L651.54,321.68 L651.91,321.72 L652.28,321.75 L652.65,321.79 L653.02,321.82 L653.38,321.85 L653.75,321.89 L654.12,321.92 L654.49,321.95 L654.86,321.99 L655.23,322.02 L655.6,322.05 L655.97,322.09 L656.34,322.12 L656.71,322.15 L657.08,322.18 L657.45,322.21 L657.82,322.24 L658.19,322.28 L658.56,322.31 L658.93,322.34 L659.3,322.37 L659.67,322.4 L660.04,322.43 L660.41,322.46 L660.78,322.49 L661.15,322.52 L661.52,322.55 L661.89,322.58 L662.26,322.61 L662.62,322.64 L662.99,322.66 L663.36,322.69 L663.73,322.72 L664.1,322.75 L664.47,322.78 L664.84,322.81 L665.21,322.83 L665.58,322.86 L665.95,322.89 L666.32,322.92 L666.69,322.94 L667.06,322.97 L667.43,323 L667.8,323.02 L668.17,323.05 L668.54,323.08 L668.91,323.1 L669.28,323.13 L669.65,323.15 L670.02,323.18 L670.39,323.2 L670.76,323.23 L671.13,323.25 L671.5,323.28 L671.86,323.3 L672.23,323.33 L672.6,323.35 L672.97,323.38 L673.34,323.4 L673.71,323.42 L674.08,323.45 L674.45,323.47 L674.82,323.5 L675.19,323.52 L675.56,323.54 L675.93,323.57 L676.3,323.59" fill="none" stroke="#a0121a" stroke-width="9.0" stroke-linejoin="round" stroke-linecap="round" />
<circle cx="491.5" cy="213.58" r="1.5" fill="url(#bR2)"/>
<circle cx="491.94" cy="218.73" r="1.5" fill="url(#bR2)"/>
<circle cx="492.39" cy="219.63" r="1.5" fill="url(#bR2)"/>
<circle cx="492.83" cy="221.22" r="1.5" fill="url(#bR2)"/>
<circle cx="493.27" cy="222.41" r="1.5" fill="url(#bR2)"/>
<circle cx="493.72" cy="227.6" r="1.5" fill="url(#bR2)"/>
<circle cx="494.16" cy="231.68" r="1.5" fill="url(#bR2)"/>
<circle cx="494.6" cy="234.5" r="1.5" fill="url(#bR2)"/>
<circle cx="495.05" cy="232.85" r="1.5" fill="url(#bR2)"/>
<circle cx="495.49" cy="232.62" r="1.5" fill="url(#bR2)"/>
<circle cx="495.94" cy="237.71" r="1.5" fill="url(#bR2)"/>
<circle cx="496.38" cy="243.03" r="1.5" fill="url(#bR2)"/>
<circle cx="496.82" cy="243.89" r="1.5" fill="url(#bR2)"/>
<circle cx="497.27" cy="239.08" r="1.5" fill="url(#bR2)"/>
<circle cx="497.71" cy="243.82" r="1.5" fill="url(#bR2)"/>
<circle cx="498.15" cy="249.79" r="1.5" fill="url(#bR2)"/>
<circle cx="498.6" cy="246.94" r="1.5" fill="url(#bR2)"/>
<circle cx="499.04" cy="250.68" r="1.5" fill="url(#bR2)"/>
<circle cx="499.48" cy="250.42" r="1.5" fill="url(#bR2)"/>
<circle cx="499.93" cy="251.07" r="1.5" fill="url(#bR2)"/>
<circle cx="500.37" cy="252.56" r="1.5" fill="url(#bR2)"/>
<circle cx="500.81" cy="250.37" r="1.5" fill="url(#bR2)"/>
<circle cx="501.26" cy="252.72" r="1.5" fill="url(#bR2)"/>
<circle cx="501.7" cy="254.82" r="1.5" fill="url(#bR2)"/>
<circle cx="502.14" cy="253.17" r="1.5" fill="url(#bR2)"/>
<circle cx="502.59" cy="252.9" r="1.5" fill="url(#bR2)"/>
<circle cx="503.03" cy="259.66" r="1.5" fill="url(#bR2)"/>
<circle cx="503.48" cy="256.98" r="1.5" fill="url(#bR2)"/>
<circle cx="503.92" cy="259.43" r="1.5" fill="url(#bR2)"/>
<circle cx="504.36" cy="258.12" r="1.5" fill="url(#bR2)"/>
<circle cx="504.81" cy="261.48" r="1.5" fill="url(#bR2)"/>
<circle cx="505.25" cy="258.91" r="1.5" fill="url(#bR2)"/>
<circle cx="505.69" cy="259.66" r="1.5" fill="url(#bR2)"/>
<circle cx="506.14" cy="260.9" r="1.5" fill="url(#bR2)"/>
<circle cx="506.58" cy="263.29" r="1.5" fill="url(#bR2)"/>
<circle cx="507.02" cy="262.28" r="1.5" fill="url(#bR2)"/>
<circle cx="507.47" cy="264.53" r="1.5" fill="url(#bR2)"/>
<circle cx="507.91" cy="265.71" r="1.5" fill="url(#bR2)"/>
<circle cx="508.35" cy="262.4" r="1.5" fill="url(#bR2)"/>
<circle cx="508.8" cy="266.18" r="1.5" fill="url(#bR2)"/>
<circle cx="509.24" cy="261.15" r="1.5" fill="url(#bR2)"/>
<circle cx="509.68" cy="262.76" r="1.5" fill="url(#bR2)"/>
<circle cx="510.13" cy="269.88" r="1.5" fill="url(#bR2)"/>
<circle cx="510.57" cy="264.84" r="1.5" fill="url(#bR2)"/>
<circle cx="511.01" cy="268.68" r="1.5" fill="url(#bR2)"/>
<circle cx="511.46" cy="266.4" r="1.5" fill="url(#bR2)"/>
<circle cx="511.9" cy="266.85" r="1.5" fill="url(#bR2)"/>
<circle cx="512.35" cy="272.28" r="1.5" fill="url(#bR2)"/>
<circle cx="512.79" cy="268.47" r="1.5" fill="url(#bR2)"/>
<circle cx="513.23" cy="268.98" r="1.5" fill="url(#bR2)"/>
<circle cx="513.68" cy="266.47" r="1.5" fill="url(#bR2)"/>
<circle cx="514.12" cy="272.15" r="1.5" fill="url(#bR2)"/>
<circle cx="514.56" cy="267.92" r="1.5" fill="url(#bR2)"/>
<circle cx="515.01" cy="272.84" r="1.5" fill="url(#bR2)"/>
<circle cx="515.45" cy="271.4" r="1.5" fill="url(#bR2)"/>
<circle cx="515.89" cy="273.08" r="1.5" fill="url(#bR2)"/>
<circle cx="516.34" cy="267.93" r="1.5" fill="url(#bR2)"/>
<circle cx="516.78" cy="270.51" r="1.5" fill="url(#bR2)"/>
<circle cx="517.22" cy="266.39" r="1.5" fill="url(#bR2)"/>
<circle cx="517.67" cy="271.17" r="1.5" fill="url(#bR2)"/>
<circle cx="518.11" cy="271.09" r="1.5" fill="url(#bR2)"/>
<circle cx="518.55" cy="271.51" r="1.5" fill="url(#bR2)"/>
<circle cx="519" cy="275.44" r="1.5" fill="url(#bR2)"/>
<circle cx="519.44" cy="274.54" r="1.5" fill="url(#bR2)"/>
<circle cx="519.89" cy="271.48" r="1.5" fill="url(#bR2)"/>
<circle cx="520.33" cy="276.14" r="1.5" fill="url(#bR2)"/>
<circle cx="520.77" cy="275.11" r="1.5" fill="url(#bR2)"/>
<circle cx="521.22" cy="276.01" r="1.5" fill="url(#bR2)"/>
<circle cx="521.66" cy="274.86" r="1.5" fill="url(#bR2)"/>
<circle cx="522.1" cy="277.62" r="1.5" fill="url(#bR2)"/>
<circle cx="522.55" cy="277.49" r="1.5" fill="url(#bR2)"/>
<circle cx="522.99" cy="276.9" r="1.5" fill="url(#bR2)"/>
<circle cx="523.43" cy="277.62" r="1.5" fill="url(#bR2)"/>
<circle cx="523.88" cy="280.35" r="1.5" fill="url(#bR2)"/>
<circle cx="524.32" cy="276.43" r="1.5" fill="url(#bR2)"/>
<circle cx="524.76" cy="282.15" r="1.5" fill="url(#bR2)"/>
<circle cx="525.21" cy="282.27" r="1.5" fill="url(#bR2)"/>
<circle cx="525.65" cy="282.83" r="1.5" fill="url(#bR2)"/>
<circle cx="526.09" cy="277.71" r="1.5" fill="url(#bR2)"/>
<circle cx="526.54" cy="281.3" r="1.5" fill="url(#bR2)"/>
<circle cx="526.98" cy="283.15" r="1.5" fill="url(#bR2)"/>
<circle cx="527.43" cy="283.9" r="1.5" fill="url(#bR2)"/>
<circle cx="527.87" cy="280.45" r="1.5" fill="url(#bR2)"/>
<circle cx="528.31" cy="284.39" r="1.5" fill="url(#bR2)"/>
<circle cx="528.76" cy="285.27" r="1.5" fill="url(#bR2)"/>
<circle cx="529.2" cy="281.01" r="1.5" fill="url(#bR2)"/>
<circle cx="529.64" cy="285.76" r="1.5" fill="url(#bR2)"/>
<circle cx="530.09" cy="283.97" r="1.5" fill="url(#bR2)"/>
<circle cx="530.53" cy="283.53" r="1.5" fill="url(#bR2)"/>
<circle cx="530.97" cy="284.93" r="1.5" fill="url(#bR2)"/>
<circle cx="531.42" cy="284.3" r="1.5" fill="url(#bR2)"/>
<circle cx="531.86" cy="281.24" r="1.5" fill="url(#bR2)"/>
<circle cx="532.3" cy="286.08" r="1.5" fill="url(#bR2)"/>
<circle cx="532.75" cy="288.21" r="1.5" fill="url(#bR2)"/>
<circle cx="533.19" cy="289.93" r="1.5" fill="url(#bR2)"/>
<circle cx="533.63" cy="286.27" r="1.5" fill="url(#bR2)"/>
<circle cx="534.08" cy="286.94" r="1.5" fill="url(#bR2)"/>
<circle cx="534.52" cy="285.75" r="1.5" fill="url(#bR2)"/>
<circle cx="534.96" cy="287.84" r="1.5" fill="url(#bR2)"/>
<circle cx="535.41" cy="288.18" r="1.5" fill="url(#bR2)"/>
<circle cx="535.85" cy="289.07" r="1.5" fill="url(#bR2)"/>
<circle cx="536.3" cy="288.88" r="1.5" fill="url(#bR2)"/>
<circle cx="536.74" cy="287.52" r="1.5" fill="url(#bR2)"/>
<circle cx="537.18" cy="289.14" r="1.5" fill="url(#bR2)"/>
<circle cx="537.63" cy="288.26" r="1.5" fill="url(#bR2)"/>
<circle cx="538.07" cy="284.17" r="1.5" fill="url(#bR2)"/>
<circle cx="538.51" cy="287.92" r="1.5" fill="url(#bR2)"/>
<circle cx="538.96" cy="293.22" r="1.5" fill="url(#bR2)"/>
<circle cx="539.4" cy="285.44" r="1.5" fill="url(#bR2)"/>
<circle cx="539.84" cy="289.1" r="1.5" fill="url(#bR2)"/>
<circle cx="540.29" cy="292.52" r="1.5" fill="url(#bR2)"/>
<circle cx="540.73" cy="288.3" r="1.5" fill="url(#bR2)"/>
<circle cx="541.17" cy="290.74" r="1.5" fill="url(#bR2)"/>
<circle cx="541.62" cy="292.56" r="1.5" fill="url(#bR2)"/>
<circle cx="542.06" cy="292.88" r="1.5" fill="url(#bR2)"/>
<circle cx="542.5" cy="294.02" r="1.5" fill="url(#bR2)"/>
<circle cx="542.95" cy="291.75" r="1.5" fill="url(#bR2)"/>
<circle cx="543.39" cy="289.54" r="1.5" fill="url(#bR2)"/>
<circle cx="543.84" cy="293.2" r="1.5" fill="url(#bR2)"/>
<circle cx="544.28" cy="291.64" r="1.5" fill="url(#bR2)"/>
<circle cx="544.72" cy="288.36" r="1.5" fill="url(#bR2)"/>
<circle cx="545.17" cy="296.14" r="1.5" fill="url(#bR2)"/>
<circle cx="545.61" cy="292.82" r="1.5" fill="url(#bR2)"/>
<circle cx="546.05" cy="294.44" r="1.5" fill="url(#bR2)"/>
<circle cx="546.5" cy="296.53" r="1.5" fill="url(#bR2)"/>
<circle cx="546.94" cy="296.7" r="1.5" fill="url(#bR2)"/>
<circle cx="547.38" cy="294.49" r="1.5" fill="url(#bR2)"/>
<circle cx="547.83" cy="293.64" r="1.5" fill="url(#bR2)"/>
<circle cx="548.27" cy="296.24" r="1.5" fill="url(#bR2)"/>
<circle cx="548.71" cy="295.06" r="1.5" fill="url(#bR2)"/>
<circle cx="549.16" cy="293.67" r="1.5" fill="url(#bR2)"/>
<circle cx="549.6" cy="294.95" r="1.5" fill="url(#bR2)"/>
<circle cx="550.04" cy="293.79" r="1.5" fill="url(#bR2)"/>
<circle cx="550.49" cy="295.02" r="1.5" fill="url(#bR2)"/>
<circle cx="550.93" cy="295.19" r="1.5" fill="url(#bR2)"/>
<circle cx="551.38" cy="292.16" r="1.5" fill="url(#bR2)"/>
<circle cx="551.82" cy="295.33" r="1.5" fill="url(#bR2)"/>
<circle cx="552.26" cy="296.76" r="1.5" fill="url(#bR2)"/>
<circle cx="552.71" cy="295.57" r="1.5" fill="url(#bR2)"/>
<circle cx="553.15" cy="299.76" r="1.5" fill="url(#bR2)"/>
<circle cx="553.59" cy="298.57" r="1.5" fill="url(#bR2)"/>
<circle cx="554.04" cy="296.04" r="1.5" fill="url(#bR2)"/>
<circle cx="554.48" cy="296.66" r="1.5" fill="url(#bR2)"/>
<circle cx="554.92" cy="294.64" r="1.5" fill="url(#bR2)"/>
<circle cx="555.37" cy="298.6" r="1.5" fill="url(#bR2)"/>
<circle cx="555.81" cy="302.41" r="1.5" fill="url(#bR2)"/>
<circle cx="556.25" cy="294.32" r="1.5" fill="url(#bR2)"/>
<circle cx="556.7" cy="296.61" r="1.5" fill="url(#bR2)"/>
<circle cx="557.14" cy="302.06" r="1.5" fill="url(#bR2)"/>
<circle cx="557.58" cy="296.34" r="1.5" fill="url(#bR2)"/>
<circle cx="558.03" cy="299.82" r="1.5" fill="url(#bR2)"/>
<circle cx="558.47" cy="304.53" r="1.5" fill="url(#bR2)"/>
<circle cx="558.92" cy="301.34" r="1.5" fill="url(#bR2)"/>
<circle cx="559.36" cy="301.75" r="1.5" fill="url(#bR2)"/>
<circle cx="559.8" cy="296.84" r="1.5" fill="url(#bR2)"/>
<circle cx="560.25" cy="302.85" r="1.5" fill="url(#bR2)"/>
<circle cx="560.69" cy="301.73" r="1.5" fill="url(#bR2)"/>
<circle cx="561.13" cy="301.99" r="1.5" fill="url(#bR2)"/>
<circle cx="561.58" cy="302.43" r="1.5" fill="url(#bR2)"/>
<circle cx="562.02" cy="303.93" r="1.5" fill="url(#bR2)"/>
<circle cx="562.46" cy="301.36" r="1.5" fill="url(#bR2)"/>
<circle cx="562.91" cy="299.46" r="1.5" fill="url(#bR2)"/>
<circle cx="563.35" cy="300.76" r="1.5" fill="url(#bR2)"/>
<circle cx="563.79" cy="304.72" r="1.5" fill="url(#bR2)"/>
<circle cx="564.24" cy="305.45" r="1.5" fill="url(#bR2)"/>
<circle cx="564.68" cy="302.55" r="1.5" fill="url(#bR2)"/>
<circle cx="565.12" cy="304.74" r="1.5" fill="url(#bR2)"/>
<circle cx="565.57" cy="304.74" r="1.5" fill="url(#bR2)"/>
<circle cx="566.01" cy="307.48" r="1.5" fill="url(#bR2)"/>
<circle cx="566.45" cy="298.81" r="1.5" fill="url(#bR2)"/>
<circle cx="566.9" cy="301.51" r="1.5" fill="url(#bR2)"/>
<circle cx="567.34" cy="306.29" r="1.5" fill="url(#bR2)"/>
<circle cx="567.79" cy="301.88" r="1.5" fill="url(#bR2)"/>
<circle cx="568.23" cy="301" r="1.5" fill="url(#bR2)"/>
<circle cx="568.67" cy="310.26" r="1.5" fill="url(#bR2)"/>
<circle cx="569.12" cy="305.95" r="1.5" fill="url(#bR2)"/>
<circle cx="569.56" cy="305.73" r="1.5" fill="url(#bR2)"/>
<circle cx="570" cy="303.38" r="1.5" fill="url(#bR2)"/>
<circle cx="570.45" cy="305.42" r="1.5" fill="url(#bR2)"/>
<circle cx="570.89" cy="305.85" r="1.5" fill="url(#bR2)"/>
<circle cx="571.33" cy="305.6" r="1.5" fill="url(#bR2)"/>
<circle cx="571.78" cy="301.1" r="1.5" fill="url(#bR2)"/>
<circle cx="572.22" cy="300.52" r="1.5" fill="url(#bR2)"/>
<circle cx="572.66" cy="307.22" r="1.5" fill="url(#bR2)"/>
<circle cx="573.11" cy="308.36" r="1.5" fill="url(#bR2)"/>
<circle cx="573.55" cy="299.71" r="1.5" fill="url(#bR2)"/>
<circle cx="573.99" cy="308.81" r="1.5" fill="url(#bR2)"/>
<circle cx="574.44" cy="307.98" r="1.5" fill="url(#bR2)"/>
<circle cx="574.88" cy="306.65" r="1.5" fill="url(#bR2)"/>
<circle cx="575.33" cy="305.71" r="1.5" fill="url(#bR2)"/>
<circle cx="575.77" cy="304.54" r="1.5" fill="url(#bR2)"/>
<circle cx="576.21" cy="306.24" r="1.5" fill="url(#bR2)"/>
<circle cx="576.66" cy="309.47" r="1.5" fill="url(#bR2)"/>
<circle cx="577.1" cy="306.26" r="1.5" fill="url(#bR2)"/>
<circle cx="577.54" cy="307.04" r="1.5" fill="url(#bR2)"/>
<circle cx="577.99" cy="303.22" r="1.5" fill="url(#bR2)"/>
<circle cx="578.43" cy="307.98" r="1.5" fill="url(#bR2)"/>
<circle cx="578.87" cy="311.34" r="1.5" fill="url(#bR2)"/>
<circle cx="579.32" cy="310.78" r="1.5" fill="url(#bR2)"/>
<circle cx="579.76" cy="304.84" r="1.5" fill="url(#bR2)"/>
<circle cx="580.2" cy="309.83" r="1.5" fill="url(#bR2)"/>
<circle cx="580.65" cy="313.78" r="1.5" fill="url(#bR2)"/>
<circle cx="581.09" cy="310.21" r="1.5" fill="url(#bR2)"/>
<circle cx="581.53" cy="308.94" r="1.5" fill="url(#bR2)"/>
<circle cx="581.98" cy="306.18" r="1.5" fill="url(#bR2)"/>
<circle cx="582.42" cy="311.68" r="1.5" fill="url(#bR2)"/>
<circle cx="582.87" cy="307.72" r="1.5" fill="url(#bR2)"/>
<circle cx="583.31" cy="307.54" r="1.5" fill="url(#bR2)"/>
<circle cx="583.75" cy="311.32" r="1.5" fill="url(#bR2)"/>
<circle cx="584.2" cy="310.2" r="1.5" fill="url(#bR2)"/>
<circle cx="584.64" cy="305.57" r="1.5" fill="url(#bR2)"/>
<circle cx="585.08" cy="305.82" r="1.5" fill="url(#bR2)"/>
<circle cx="585.53" cy="308.06" r="1.5" fill="url(#bR2)"/>
<circle cx="585.97" cy="309.46" r="1.5" fill="url(#bR2)"/>
<circle cx="586.41" cy="307.62" r="1.5" fill="url(#bR2)"/>
<circle cx="586.86" cy="310.87" r="1.5" fill="url(#bR2)"/>
<circle cx="587.3" cy="310.88" r="1.5" fill="url(#bR2)"/>
<circle cx="587.74" cy="312.87" r="1.5" fill="url(#bR2)"/>
<circle cx="588.19" cy="310.89" r="1.5" fill="url(#bR2)"/>
<circle cx="588.63" cy="311.22" r="1.5" fill="url(#bR2)"/>
<circle cx="589.07" cy="304.39" r="1.5" fill="url(#bR2)"/>
<circle cx="589.52" cy="311.74" r="1.5" fill="url(#bR2)"/>
<circle cx="589.96" cy="308.29" r="1.5" fill="url(#bR2)"/>
<circle cx="590.4" cy="308.29" r="1.5" fill="url(#bR2)"/>
<circle cx="590.85" cy="312.08" r="1.5" fill="url(#bR2)"/>
<circle cx="591.29" cy="308.89" r="1.5" fill="url(#bR2)"/>
<circle cx="591.74" cy="317.16" r="1.5" fill="url(#bR2)"/>
<circle cx="592.18" cy="311.74" r="1.5" fill="url(#bR2)"/>
<circle cx="592.62" cy="310" r="1.5" fill="url(#bR2)"/>
<circle cx="593.07" cy="318.05" r="1.5" fill="url(#bR2)"/>
<circle cx="593.51" cy="315.14" r="1.5" fill="url(#bR2)"/>
<circle cx="593.95" cy="309.86" r="1.5" fill="url(#bR2)"/>
<circle cx="594.4" cy="313.17" r="1.5" fill="url(#bR2)"/>
<circle cx="594.84" cy="315.33" r="1.5" fill="url(#bR2)"/>
<circle cx="595.28" cy="313.67" r="1.5" fill="url(#bR2)"/>
<circle cx="595.73" cy="314.19" r="1.5" fill="url(#bR2)"/>
<circle cx="596.17" cy="311.21" r="1.5" fill="url(#bR2)"/>
<circle cx="596.61" cy="311.98" r="1.5" fill="url(#bR2)"/>
<circle cx="597.06" cy="313.88" r="1.5" fill="url(#bR2)"/>
<circle cx="597.5" cy="314.92" r="1.5" fill="url(#bR2)"/>
<circle cx="597.94" cy="313.54" r="1.5" fill="url(#bR2)"/>
<circle cx="598.39" cy="310.28" r="1.5" fill="url(#bR2)"/>
<circle cx="598.83" cy="312.76" r="1.5" fill="url(#bR2)"/>
<circle cx="599.28" cy="312.16" r="1.5" fill="url(#bR2)"/>
<circle cx="599.72" cy="314.18" r="1.5" fill="url(#bR2)"/>
<circle cx="600.16" cy="317.06" r="1.5" fill="url(#bR2)"/>
<circle cx="600.61" cy="315.75" r="1.5" fill="url(#bR2)"/>
<circle cx="601.05" cy="312.53" r="1.5" fill="url(#bR2)"/>
<circle cx="601.49" cy="313.96" r="1.5" fill="url(#bR2)"/>
<circle cx="601.94" cy="316.52" r="1.5" fill="url(#bR2)"/>
<circle cx="602.38" cy="316.97" r="1.5" fill="url(#bR2)"/>
<circle cx="602.82" cy="314.33" r="1.5" fill="url(#bR2)"/>
<circle cx="603.27" cy="315.14" r="1.5" fill="url(#bR2)"/>
<circle cx="603.71" cy="315.25" r="1.5" fill="url(#bR2)"/>
<circle cx="604.15" cy="315.32" r="1.5" fill="url(#bR2)"/>
<circle cx="604.6" cy="314.44" r="1.5" fill="url(#bR2)"/>
<circle cx="605.04" cy="314.51" r="1.5" fill="url(#bR2)"/>
<circle cx="605.48" cy="313.55" r="1.5" fill="url(#bR2)"/>
<circle cx="605.93" cy="313.69" r="1.5" fill="url(#bR2)"/>
<circle cx="606.37" cy="313.15" r="1.5" fill="url(#bR2)"/>
<circle cx="606.82" cy="314.07" r="1.5" fill="url(#bR2)"/>
<circle cx="607.26" cy="315.97" r="1.5" fill="url(#bR2)"/>
<circle cx="607.7" cy="315.61" r="1.5" fill="url(#bR2)"/>
<circle cx="608.15" cy="314.83" r="1.5" fill="url(#bR2)"/>
<circle cx="608.59" cy="316.19" r="1.5" fill="url(#bR2)"/>
<circle cx="609.03" cy="314.92" r="1.5" fill="url(#bR2)"/>
<circle cx="609.48" cy="314.05" r="1.5" fill="url(#bR2)"/>
<circle cx="609.92" cy="317.23" r="1.5" fill="url(#bR2)"/>
<circle cx="610.36" cy="318.85" r="1.5" fill="url(#bR2)"/>
<circle cx="610.81" cy="314.24" r="1.5" fill="url(#bR2)"/>
<circle cx="611.25" cy="316.18" r="1.5" fill="url(#bR2)"/>
<circle cx="611.69" cy="315.17" r="1.5" fill="url(#bR2)"/>
<circle cx="612.14" cy="318.49" r="1.5" fill="url(#bR2)"/>
<circle cx="612.58" cy="313.71" r="1.5" fill="url(#bR2)"/>
<circle cx="613.02" cy="315.37" r="1.5" fill="url(#bR2)"/>
<circle cx="613.47" cy="316.82" r="1.5" fill="url(#bR2)"/>
<circle cx="613.91" cy="317.26" r="1.5" fill="url(#bR2)"/>
<circle cx="614.36" cy="316.6" r="1.5" fill="url(#bR2)"/>
<circle cx="614.8" cy="317.12" r="1.5" fill="url(#bR2)"/>
<circle cx="615.24" cy="317.38" r="1.5" fill="url(#bR2)"/>
<circle cx="615.69" cy="318.79" r="1.5" fill="url(#bR2)"/>
<circle cx="616.13" cy="315.09" r="1.5" fill="url(#bR2)"/>
<circle cx="616.57" cy="317.23" r="1.5" fill="url(#bR2)"/>
<circle cx="617.02" cy="317.12" r="1.5" fill="url(#bR2)"/>
<circle cx="617.46" cy="317.17" r="1.5" fill="url(#bR2)"/>
<circle cx="617.9" cy="321.13" r="1.5" fill="url(#bR2)"/>
<circle cx="618.35" cy="316.63" r="1.5" fill="url(#bR2)"/>
<circle cx="618.79" cy="318.06" r="1.5" fill="url(#bR2)"/>
<circle cx="619.23" cy="318.07" r="1.5" fill="url(#bR2)"/>
<circle cx="619.68" cy="317.58" r="1.5" fill="url(#bR2)"/>
<circle cx="620.12" cy="319.3" r="1.5" fill="url(#bR2)"/>
<circle cx="620.56" cy="316.49" r="1.5" fill="url(#bR2)"/>
<circle cx="621.01" cy="319" r="1.5" fill="url(#bR2)"/>
<circle cx="621.45" cy="319.4" r="1.5" fill="url(#bR2)"/>
<circle cx="621.89" cy="319.41" r="1.5" fill="url(#bR2)"/>
<circle cx="622.34" cy="317.86" r="1.5" fill="url(#bR2)"/>
<circle cx="622.78" cy="317" r="1.5" fill="url(#bR2)"/>
<circle cx="623.23" cy="319.19" r="1.5" fill="url(#bR2)"/>
<circle cx="623.67" cy="320.71" r="1.5" fill="url(#bR2)"/>
<circle cx="624.11" cy="316.7" r="1.5" fill="url(#bR2)"/>
<circle cx="624.56" cy="320.13" r="1.5" fill="url(#bR2)"/>
<circle cx="625" cy="316.62" r="1.5" fill="url(#bR2)"/>
<circle cx="625.44" cy="318.67" r="1.5" fill="url(#bR2)"/>
<circle cx="625.89" cy="319.75" r="1.5" fill="url(#bR2)"/>
<circle cx="626.33" cy="319.72" r="1.5" fill="url(#bR2)"/>
<circle cx="626.77" cy="318.04" r="1.5" fill="url(#bR2)"/>
<circle cx="627.22" cy="317.43" r="1.5" fill="url(#bR2)"/>
<circle cx="627.66" cy="319.21" r="1.5" fill="url(#bR2)"/>
<circle cx="628.1" cy="317.46" r="1.5" fill="url(#bR2)"/>
<circle cx="628.55" cy="315.72" r="1.5" fill="url(#bR2)"/>
<circle cx="628.99" cy="319.42" r="1.5" fill="url(#bR2)"/>
<circle cx="629.43" cy="320.97" r="1.5" fill="url(#bR2)"/>
<circle cx="629.88" cy="320.88" r="1.5" fill="url(#bR2)"/>
<circle cx="630.32" cy="321.47" r="1.5" fill="url(#bR2)"/>
<circle cx="630.77" cy="320.34" r="1.5" fill="url(#bR2)"/>
<circle cx="631.21" cy="320.53" r="1.5" fill="url(#bR2)"/>
<circle cx="631.65" cy="321.55" r="1.5" fill="url(#bR2)"/>
<circle cx="632.1" cy="318.67" r="1.5" fill="url(#bR2)"/>
<circle cx="632.54" cy="323.7" r="1.5" fill="url(#bR2)"/>
<circle cx="632.98" cy="321.71" r="1.5" fill="url(#bR2)"/>
<circle cx="633.43" cy="316.49" r="1.5" fill="url(#bR2)"/>
<circle cx="633.87" cy="318.09" r="1.5" fill="url(#bR2)"/>
<circle cx="634.31" cy="318.96" r="1.5" fill="url(#bR2)"/>
<circle cx="634.76" cy="319.12" r="1.5" fill="url(#bR2)"/>
<circle cx="635.2" cy="317.1" r="1.5" fill="url(#bR2)"/>
<circle cx="635.64" cy="319.11" r="1.5" fill="url(#bR2)"/>
<circle cx="636.09" cy="319.89" r="1.5" fill="url(#bR2)"/>
<circle cx="636.53" cy="322.02" r="1.5" fill="url(#bR2)"/>
<circle cx="636.97" cy="320.24" r="1.5" fill="url(#bR2)"/>
<circle cx="637.42" cy="321.34" r="1.5" fill="url(#bR2)"/>
<circle cx="637.86" cy="321.35" r="1.5" fill="url(#bR2)"/>
<circle cx="638.31" cy="321.41" r="1.5" fill="url(#bR2)"/>
<circle cx="638.75" cy="320.4" r="1.5" fill="url(#bR2)"/>
<circle cx="639.19" cy="320.91" r="1.5" fill="url(#bR2)"/>
<circle cx="639.64" cy="319.06" r="1.5" fill="url(#bR2)"/>
<circle cx="640.08" cy="322.59" r="1.5" fill="url(#bR2)"/>
<circle cx="640.52" cy="320.81" r="1.5" fill="url(#bR2)"/>
<circle cx="640.97" cy="317.65" r="1.5" fill="url(#bR2)"/>
<circle cx="641.41" cy="320.58" r="1.5" fill="url(#bR2)"/>
<circle cx="641.85" cy="318.79" r="1.5" fill="url(#bR2)"/>
<circle cx="642.3" cy="318.94" r="1.5" fill="url(#bR2)"/>
<circle cx="642.74" cy="318.7" r="1.5" fill="url(#bR2)"/>
<circle cx="643.18" cy="319.67" r="1.5" fill="url(#bR2)"/>
<circle cx="643.63" cy="323.07" r="1.5" fill="url(#bR2)"/>
<circle cx="644.07" cy="321.35" r="1.5" fill="url(#bR2)"/>
<circle cx="644.51" cy="321.58" r="1.5" fill="url(#bR2)"/>
<circle cx="644.96" cy="323.48" r="1.5" fill="url(#bR2)"/>
<circle cx="645.4" cy="321.81" r="1.5" fill="url(#bR2)"/>
<circle cx="645.84" cy="323.1" r="1.5" fill="url(#bR2)"/>
<circle cx="646.29" cy="323.8" r="1.5" fill="url(#bR2)"/>
<circle cx="646.73" cy="320.88" r="1.5" fill="url(#bR2)"/>
<circle cx="647.18" cy="321.32" r="1.5" fill="url(#bR2)"/>
<circle cx="647.62" cy="322.39" r="1.5" fill="url(#bR2)"/>
<circle cx="648.06" cy="322.85" r="1.5" fill="url(#bR2)"/>
<circle cx="648.51" cy="322.25" r="1.5" fill="url(#bR2)"/>
<circle cx="648.95" cy="322.06" r="1.5" fill="url(#bR2)"/>
<circle cx="649.39" cy="322.12" r="1.5" fill="url(#bR2)"/>
<circle cx="649.84" cy="321.6" r="1.5" fill="url(#bR2)"/>
<circle cx="650.28" cy="322.25" r="1.5" fill="url(#bR2)"/>
<circle cx="650.72" cy="320.99" r="1.5" fill="url(#bR2)"/>
<circle cx="651.17" cy="320.82" r="1.5" fill="url(#bR2)"/>
<circle cx="651.61" cy="321.12" r="1.5" fill="url(#bR2)"/>
<circle cx="652.05" cy="322.78" r="1.5" fill="url(#bR2)"/>
<circle cx="652.5" cy="322.75" r="1.5" fill="url(#bR2)"/>
<circle cx="652.94" cy="321.13" r="1.5" fill="url(#bR2)"/>
<circle cx="653.38" cy="322.17" r="1.5" fill="url(#bR2)"/>
<circle cx="653.83" cy="321.96" r="1.5" fill="url(#bR2)"/>
<circle cx="654.27" cy="325.88" r="1.5" fill="url(#bR2)"/>
<circle cx="654.72" cy="326.25" r="1.5" fill="url(#bR2)"/>
<circle cx="655.16" cy="321.48" r="1.5" fill="url(#bR2)"/>
<circle cx="655.6" cy="321.53" r="1.5" fill="url(#bR2)"/>
<circle cx="656.05" cy="319.89" r="1.5" fill="url(#bR2)"/>
<circle cx="656.49" cy="320.99" r="1.5" fill="url(#bR2)"/>
<circle cx="656.93" cy="321.82" r="1.5" fill="url(#bR2)"/>
<circle cx="657.38" cy="322.18" r="1.5" fill="url(#bR2)"/>
<circle cx="657.82" cy="324.5" r="1.5" fill="url(#bR2)"/>
<circle cx="658.26" cy="320.88" r="1.5" fill="url(#bR2)"/>
<circle cx="658.71" cy="323.28" r="1.5" fill="url(#bR2)"/>
<circle cx="659.15" cy="321.56" r="1.5" fill="url(#bR2)"/>
<circle cx="659.59" cy="322.08" r="1.5" fill="url(#bR2)"/>
<circle cx="660.04" cy="322" r="1.5" fill="url(#bR2)"/>
<circle cx="660.48" cy="321.05" r="1.5" fill="url(#bR2)"/>
<circle cx="660.92" cy="323.28" r="1.5" fill="url(#bR2)"/>
<circle cx="661.37" cy="323.15" r="1.5" fill="url(#bR2)"/>
<circle cx="661.81" cy="323.93" r="1.5" fill="url(#bR2)"/>
<circle cx="662.26" cy="323.2" r="1.5" fill="url(#bR2)"/>
<circle cx="662.7" cy="320" r="1.5" fill="url(#bR2)"/>
<circle cx="663.14" cy="323.25" r="1.5" fill="url(#bR2)"/>
<circle cx="663.59" cy="320.83" r="1.5" fill="url(#bR2)"/>
<circle cx="664.03" cy="321.44" r="1.5" fill="url(#bR2)"/>
<circle cx="664.47" cy="321.62" r="1.5" fill="url(#bR2)"/>
<circle cx="664.92" cy="321.54" r="1.5" fill="url(#bR2)"/>
<circle cx="665.36" cy="324.45" r="1.5" fill="url(#bR2)"/>
<circle cx="665.8" cy="322.29" r="1.5" fill="url(#bR2)"/>
<circle cx="666.25" cy="320.4" r="1.5" fill="url(#bR2)"/>
<circle cx="666.69" cy="324.04" r="1.5" fill="url(#bR2)"/>
<circle cx="667.13" cy="323.05" r="1.5" fill="url(#bR2)"/>
<circle cx="667.58" cy="324.1" r="1.5" fill="url(#bR2)"/>
<circle cx="668.02" cy="322.54" r="1.5" fill="url(#bR2)"/>
<circle cx="668.46" cy="324.78" r="1.5" fill="url(#bR2)"/>
<circle cx="668.91" cy="320.55" r="1.5" fill="url(#bR2)"/>
<circle cx="669.35" cy="323.73" r="1.5" fill="url(#bR2)"/>
<circle cx="669.8" cy="325.61" r="1.5" fill="url(#bR2)"/>
<circle cx="670.24" cy="320.36" r="1.5" fill="url(#bR2)"/>
<circle cx="670.68" cy="321.69" r="1.5" fill="url(#bR2)"/>
<circle cx="671.13" cy="322.43" r="1.5" fill="url(#bR2)"/>
<circle cx="671.57" cy="322.44" r="1.5" fill="url(#bR2)"/>
<circle cx="672.01" cy="323.88" r="1.5" fill="url(#bR2)"/>
<circle cx="672.46" cy="323.7" r="1.5" fill="url(#bR2)"/>
<circle cx="672.9" cy="322.23" r="1.5" fill="url(#bR2)"/>
<circle cx="673.34" cy="321.95" r="1.5" fill="url(#bR2)"/>
<circle cx="673.79" cy="321.95" r="1.5" fill="url(#bR2)"/>
<circle cx="674.23" cy="323.12" r="1.5" fill="url(#bR2)"/>
<circle cx="674.67" cy="324.22" r="1.5" fill="url(#bR2)"/>
<circle cx="675.12" cy="323.82" r="1.5" fill="url(#bR2)"/>
<circle cx="675.56" cy="321.79" r="1.5" fill="url(#bR2)"/>
<circle cx="676" cy="321.29" r="1.5" fill="url(#bR2)"/>
<circle cx="491.5" cy="209.12" r="2.0" fill="url(#bR)"/>
<circle cx="491.8" cy="214.96" r="2.0" fill="url(#bR)"/>
<circle cx="492.09" cy="220.81" r="2.0" fill="url(#bR)"/>
<circle cx="492.39" cy="226.66" r="2.0" fill="url(#bR)"/>
<path d="M491.5,211.63 L491.57,212.3 L491.65,212.96 L491.72,213.61 L491.8,214.25 L491.87,214.88 L491.94,215.5 L492.02,216.11 L492.09,216.71 L492.17,217.31 L492.24,217.89 L492.31,218.46 L492.39,219.03 L492.46,219.59 L492.53,220.13 L492.61,220.67 L492.68,221.21 L492.76,221.73 L492.83,222.24 L492.9,222.75 L492.98,223.25 L493.05,223.75 L493.13,224.23 L493.2,224.71 L493.27,225.18 L493.35,225.65 L493.42,226.1 L493.5,226.55 L493.57,227 L493.64,227.44 L493.72,227.87 L493.79,228.29 L493.87,228.71 L493.94,229.13 L494.01,229.53 L494.09,229.93 L494.16,230.33 L494.24,230.72 L494.31,231.11 L494.38,231.49 L494.46,231.86 L494.53,232.23 L494.6,232.59 L494.68,232.95 L494.75,233.31 L494.83,233.66 L494.9,234 L494.97,234.34 L495.05,234.68 L495.12,235.01 L495.2,235.33 L495.27,235.66 L495.34,235.97 L495.42,236.29 L495.49,236.6 L495.57,236.9 L495.64,237.21 L495.71,237.5 L495.79,237.8 L495.86,238.09 L495.94,238.38 L496.01,238.66 L496.08,238.94 L496.16,239.21 L496.23,239.49 L496.3,239.76 L496.38,240.02 L496.45,240.29 L496.53,240.55 L496.6,240.8 L496.67,241.06 L496.75,241.31 L496.82,241.56 L496.9,241.8 L496.97,242.04 L497.04,242.28 L497.12,242.52 L497.19,242.75 L497.27,242.98 L497.34,243.21 L497.41,243.44 L497.49,243.66 L497.56,243.88 L497.64,244.1 L497.71,244.32 L497.78,244.53 L497.86,244.74 L497.93,244.95 L498,245.16 L498.08,245.36 L498.15,245.57 L498.23,245.77 L498.3,245.97 L498.37,246.16 L498.45,246.36 L498.52,246.55 L498.6,246.74 L498.67,246.93 L498.74,247.12 L498.82,247.3 L498.89,247.48 L499.26,248.38 L499.63,249.23 L500,250.04 L500.37,250.82 L500.74,251.57 L501.11,252.29 L501.48,252.98 L501.85,253.65 L502.22,254.3 L502.59,254.93 L502.96,255.53 L503.33,256.12 L503.7,256.7 L504.07,257.26 L504.44,257.8 L504.81,258.34 L505.18,258.86 L505.54,259.37 L505.91,259.87 L506.28,260.36 L506.65,260.84 L507.02,261.31 L507.39,261.77 L507.76,262.23 L508.13,262.68 L508.5,263.13 L508.87,263.56 L509.24,264 L509.61,264.42 L509.98,264.84 L510.35,265.26 L510.72,265.67 L511.09,266.08 L511.46,266.48 L511.83,266.88 L512.2,267.27 L512.57,267.67 L512.94,268.05 L513.31,268.44 L513.68,268.82 L514.05,269.19 L514.42,269.57 L514.78,269.94 L515.15,270.31 L515.52,270.67 L515.89,271.03 L516.26,271.39 L516.63,271.75 L517,272.1 L517.37,272.45 L517.74,272.8 L518.11,273.15 L518.48,273.49 L518.85,273.83 L519.22,274.17 L519.59,274.51 L519.96,274.84 L520.33,275.17 L520.7,275.5 L521.07,275.83 L521.44,276.15 L521.81,276.48 L522.18,276.8 L522.55,277.12 L522.92,277.43 L523.29,277.75 L523.66,278.06 L524.02,278.37 L524.39,278.68 L524.76,278.98 L525.13,279.29 L525.5,279.59 L525.87,279.89 L526.24,280.19 L526.61,280.49 L526.98,280.78 L527.35,281.07 L527.72,281.36 L528.09,281.65 L528.46,281.94 L528.83,282.22 L529.2,282.51 L529.57,282.79 L529.94,283.07 L530.31,283.35 L530.68,283.62 L531.05,283.9 L531.42,284.17 L531.79,284.44 L532.16,284.71 L532.53,284.98 L532.9,285.25 L533.26,285.51 L533.63,285.77 L534,286.03 L534.37,286.29 L534.74,286.55 L535.11,286.81 L535.48,287.06 L535.85,287.31 L536.22,287.57 L536.59,287.82 L536.96,288.06 L537.33,288.31 L537.7,288.56 L538.07,288.8 L538.44,289.04 L538.81,289.28 L539.18,289.52 L539.55,289.76 L539.92,289.99 L540.29,290.23 L540.66,290.46 L541.03,290.69 L541.4,290.92 L541.77,291.15 L542.14,291.38 L542.5,291.6 L542.87,291.83 L543.24,292.05 L543.61,292.27 L543.98,292.49 L544.35,292.71 L544.72,292.93 L545.09,293.14 L545.46,293.36 L545.83,293.57 L546.2,293.78 L546.57,293.99 L546.94,294.2 L547.31,294.41 L547.68,294.62 L548.05,294.82 L548.42,295.03 L548.79,295.23 L549.16,295.43 L549.53,295.63 L549.9,295.83 L550.27,296.03 L550.64,296.22 L551.01,296.42 L551.38,296.61 L551.74,296.8 L552.11,297 L552.48,297.19 L552.85,297.38 L553.22,297.56 L553.59,297.75 L553.96,297.94 L554.33,298.12 L554.7,298.3 L555.07,298.49 L555.44,298.67 L555.81,298.85 L556.18,299.02 L556.55,299.2 L556.92,299.38 L557.29,299.55 L557.66,299.73 L558.03,299.9 L558.4,300.07 L558.77,300.24 L559.14,300.41 L559.51,300.58 L559.88,300.75 L560.25,300.92 L560.62,301.08 L560.98,301.25 L561.35,301.41 L561.72,301.57 L562.09,301.73 L562.46,301.89 L562.83,302.05 L563.2,302.21 L563.57,302.37 L563.94,302.53 L564.31,302.68 L564.68,302.84 L565.05,302.99 L565.42,303.14 L565.79,303.29 L566.16,303.44 L566.53,303.59 L566.9,303.74 L567.27,303.89 L567.64,304.04 L568.01,304.18 L568.38,304.33 L568.75,304.47 L569.12,304.61 L569.49,304.76 L569.86,304.9 L570.22,305.04 L570.59,305.18 L570.96,305.32 L571.33,305.46 L571.7,305.59 L572.07,305.73 L572.44,305.86 L572.81,306 L573.18,306.13 L573.55,306.26 L573.92,306.4 L574.29,306.53 L574.66,306.66 L575.03,306.79 L575.4,306.92 L575.77,307.04 L576.14,307.17 L576.51,307.3 L576.88,307.42 L577.25,307.55 L577.62,307.67 L577.99,307.79 L578.36,307.92 L578.73,308.04 L579.1,308.16 L579.46,308.28 L579.83,308.4 L580.2,308.52 L580.57,308.63 L580.94,308.75 L581.31,308.87 L581.68,308.98 L582.05,309.1 L582.42,309.21 L582.79,309.32 L583.16,309.44 L583.53,309.55 L583.9,309.66 L584.27,309.77 L584.64,309.88 L585.01,309.99 L585.38,310.1 L585.75,310.2 L586.12,310.31 L586.49,310.42 L586.86,310.52 L587.23,310.63 L587.6,310.73 L587.97,310.84 L588.34,310.94 L588.7,311.04 L589.07,311.14 L589.44,311.25 L589.81,311.35 L590.18,311.45 L590.55,311.55 L590.92,311.64 L591.29,311.74 L591.66,311.84 L592.03,311.94 L592.4,312.03 L592.77,312.13 L593.14,312.22 L593.51,312.32 L593.88,312.41 L594.25,312.5 L594.62,312.6 L594.99,312.69 L595.36,312.78 L595.73,312.87 L596.1,312.96 L596.47,313.05 L596.84,313.14 L597.21,313.23 L597.58,313.32 L597.94,313.4 L598.31,313.49 L598.68,313.58 L599.05,313.66 L599.42,313.75 L599.79,313.83 L600.16,313.92 L600.53,314 L600.9,314.08 L601.27,314.17 L601.64,314.25 L602.01,314.33 L602.38,314.41 L602.75,314.49 L603.12,314.57 L603.49,314.65 L603.86,314.73 L604.23,314.81 L604.6,314.89 L604.97,314.97 L605.34,315.04 L605.71,315.12 L606.08,315.19 L606.45,315.27 L606.82,315.35 L607.18,315.42 L607.55,315.49 L607.92,315.57 L608.29,315.64 L608.66,315.71 L609.03,315.79 L609.4,315.86 L609.77,315.93 L610.14,316 L610.51,316.07 L610.88,316.14 L611.25,316.21 L611.62,316.28 L611.99,316.35 L612.36,316.42 L612.73,316.49 L613.1,316.55 L613.47,316.62 L613.84,316.69 L614.21,316.75 L614.58,316.82 L614.95,316.88 L615.32,316.95 L615.69,317.01 L616.06,317.08 L616.42,317.14 L616.79,317.21 L617.16,317.27 L617.53,317.33 L617.9,317.39 L618.27,317.45 L618.64,317.52 L619.01,317.58 L619.38,317.64 L619.75,317.7 L620.12,317.76 L620.49,317.82 L620.86,317.88 L621.23,317.94 L621.6,317.99 L621.97,318.05 L622.34,318.11 L622.71,318.17 L623.08,318.22 L623.45,318.28 L623.82,318.34 L624.19,318.39 L624.56,318.45 L624.93,318.5 L625.3,318.56 L625.66,318.61 L626.03,318.67 L626.4,318.72 L626.77,318.77 L627.14,318.83 L627.51,318.88 L627.88,318.93 L628.25,318.98 L628.62,319.04 L628.99,319.09 L629.36,319.14 L629.73,319.19 L630.1,319.24 L630.47,319.29 L630.84,319.34 L631.21,319.39 L631.58,319.44 L631.95,319.49 L632.32,319.54 L632.69,319.58 L633.06,319.63 L633.43,319.68 L633.8,319.73 L634.17,319.77 L634.54,319.82 L634.9,319.87 L635.27,319.91 L635.64,319.96 L636.01,320.01 L636.38,320.05 L636.75,320.1 L637.12,320.14 L637.49,320.18 L637.86,320.23 L638.23,320.27 L638.6,320.32 L638.97,320.36 L639.34,320.4 L639.71,320.45 L640.08,320.49 L640.45,320.53 L640.82,320.57 L641.19,320.61 L641.56,320.66 L641.93,320.7 L642.3,320.74 L642.67,320.78 L643.04,320.82 L643.41,320.86 L643.78,320.9 L644.14,320.94 L644.51,320.98 L644.88,321.02 L645.25,321.06 L645.62,321.1 L645.99,321.13 L646.36,321.17 L646.73,321.21 L647.1,321.25 L647.47,321.29 L647.84,321.32 L648.21,321.36 L648.58,321.4 L648.95,321.43 L649.32,321.47 L649.69,321.51 L650.06,321.54 L650.43,321.58 L650.8,321.61 L651.17,321.65 L651.54,321.68 L651.91,321.72 L652.28,321.75 L652.65,321.79 L653.02,321.82 L653.38,321.85 L653.75,321.89 L654.12,321.92 L654.49,321.95 L654.86,321.99 L655.23,322.02 L655.6,322.05 L655.97,322.09 L656.34,322.12 L656.71,322.15 L657.08,322.18 L657.45,322.21 L657.82,322.24 L658.19,322.28 L658.56,322.31 L658.93,322.34 L659.3,322.37 L659.67,322.4 L660.04,322.43 L660.41,322.46 L660.78,322.49 L661.15,322.52 L661.52,322.55 L661.89,322.58 L662.26,322.61 L662.62,322.64 L662.99,322.66 L663.36,322.69 L663.73,322.72 L664.1,322.75 L664.47,322.78 L664.84,322.81 L665.21,322.83 L665.58,322.86 L665.95,322.89 L666.32,322.92 L666.69,322.94 L667.06,322.97 L667.43,323 L667.8,323.02 L668.17,323.05 L668.54,323.08 L668.91,323.1 L669.28,323.13 L669.65,323.15 L670.02,323.18 L670.39,323.2 L670.76,323.23 L671.13,323.25 L671.5,323.28 L671.86,323.3 L672.23,323.33 L672.6,323.35 L672.97,323.38 L673.34,323.4 L673.71,323.42 L674.08,323.45 L674.45,323.47 L674.82,323.5 L675.19,323.52 L675.56,323.54 L675.93,323.57 L676.3,323.59" fill="none" stroke="#6a4f9a" stroke-width="1.0" stroke-linejoin="round" stroke-linecap="round" />
<path d="M491.5,209.61 L491.57,218.02 L491.65,225.53 L491.72,232.25 L491.8,238.27 L491.87,243.68 L491.94,248.54 L492.02,252.92 L492.09,256.88 L492.17,260.46 L492.24,263.72 L492.31,266.68 L492.39,269.38 L492.46,271.85 L492.53,274.12 L492.61,276.2 L492.68,278.12 L492.76,279.9 L492.83,281.55 L492.9,283.09 L492.98,284.52 L493.05,285.85 L493.13,287.11 L493.2,288.28 L493.27,289.39 L493.35,290.44 L493.42,291.43 L493.5,292.37 L493.57,293.27 L493.64,294.12 L493.72,294.93 L493.79,295.7 L493.87,296.45 L493.94,297.16 L494.01,297.84 L494.09,298.5 L494.16,299.13 L494.24,299.74 L494.31,300.33 L494.38,300.89 L494.46,301.44 L494.53,301.97 L494.6,302.49 L494.68,302.99 L494.75,303.47 L494.83,303.94 L494.9,304.39 L494.97,304.84 L495.05,305.27 L495.12,305.68 L495.2,306.09 L495.27,306.49 L495.34,306.87 L495.42,307.25 L495.49,307.61 L495.57,307.97 L495.64,308.32 L495.71,308.66 L495.79,308.99 L495.86,309.31 L495.94,309.63 L496.01,309.94 L496.08,310.24 L496.16,310.54 L496.23,310.82 L496.3,311.1 L496.38,311.38 L496.45,311.65 L496.53,311.91 L496.6,312.17 L496.67,312.42 L496.75,312.67 L496.82,312.91 L496.9,313.15 L496.97,313.38 L497.04,313.61 L497.12,313.83 L497.19,314.05 L497.27,314.26 L497.34,314.47 L497.41,314.67 L497.49,314.88 L497.56,315.07 L497.64,315.27 L497.71,315.46 L497.78,315.64 L497.86,315.83 L497.93,316.01 L498,316.18 L498.08,316.35 L498.15,316.52 L498.23,316.69 L498.3,316.85 L498.37,317.01 L498.45,317.17 L498.52,317.33 L498.6,317.48 L498.67,317.63 L498.74,317.78 L498.82,317.92 L498.89,318.06 L499.26,318.74 L499.63,319.36 L500,319.94 L500.37,320.48 L500.74,320.97 L501.11,321.43 L501.48,321.86 L501.85,322.26 L502.22,322.64 L502.59,322.99 L502.96,323.32 L503.33,323.63 L503.7,323.92 L504.07,324.2 L504.44,324.46 L504.81,324.7 L505.18,324.93 L505.54,325.14 L505.91,325.35 L506.28,325.54 L506.65,325.72 L507.02,325.9 L507.39,326.06 L507.76,326.21 L508.13,326.36 L508.5,326.5 L508.87,326.63 L509.24,326.75 L509.61,326.87 L509.98,326.98 L510.35,327.08 L510.72,327.18 L511.09,327.28 L511.46,327.36 L511.83,327.45 L512.2,327.53 L512.57,327.6 L512.94,327.68 L513.31,327.74 L513.68,327.81 L514.05,327.87 L514.42,327.93 L514.78,327.98 L515.15,328.03 L515.52,328.08 L515.89,328.13 L516.26,328.17 L516.63,328.21 L517,328.25 L517.37,328.29 L517.74,328.33 L518.11,328.36 L518.48,328.39 L518.85,328.42 L519.22,328.45 L519.59,328.48 L519.96,328.5 L520.33,328.53 L520.7,328.55 L521.07,328.57 L521.44,328.59 L521.81,328.61 L522.18,328.63 L522.55,328.65 L522.92,328.67 L523.29,328.68 L523.66,328.7 L524.02,328.71 L524.39,328.72 L524.76,328.74 L525.13,328.75 L525.5,328.76 L525.87,328.77 L526.24,328.78 L526.61,328.79 L526.98,328.8 L527.35,328.81 L527.72,328.82 L528.09,328.83 L528.46,328.83 L528.83,328.84 L529.2,328.85 L529.57,328.85 L529.94,328.86 L530.31,328.87 L530.68,328.87 L531.05,328.88 L531.42,328.88 L531.79,328.89 L532.16,328.89 L532.53,328.89 L532.9,328.9 L533.26,328.9 L533.63,328.91 L534,328.91 L534.37,328.91 L534.74,328.91 L535.11,328.92 L535.48,328.92 L535.85,328.92 L536.22,328.93 L536.59,328.93 L536.96,328.93 L537.33,328.93 L537.7,328.93 L538.07,328.94 L538.44,328.94 L538.81,328.94 L539.18,328.94 L539.55,328.94 L539.92,328.94 L540.29,328.95 L540.66,328.95 L541.03,328.95 L541.4,328.95 L541.77,328.95 L542.14,328.95 L542.5,328.95 L542.87,328.95 L543.24,328.95 L543.61,328.95 L543.98,328.96 L544.35,328.96 L544.72,328.96 L545.09,328.96 L545.46,328.96 L545.83,328.96 L546.2,328.96 L546.57,328.96 L546.94,328.96 L547.31,328.96 L547.68,328.96 L548.05,328.96 L548.42,328.96 L548.79,328.96 L549.16,328.96 L549.53,328.96 L549.9,328.96 L550.27,328.96 L550.64,328.96 L551.01,328.96 L551.38,328.96 L551.74,328.96 L552.11,328.96 L552.48,328.97 L552.85,328.97 L553.22,328.97 L553.59,328.97 L553.96,328.97 L554.33,328.97 L554.7,328.97 L555.07,328.97 L555.44,328.97 L555.81,328.97 L556.18,328.97 L556.55,328.97 L556.92,328.97 L557.29,328.97 L557.66,328.97 L558.03,328.97 L558.4,328.97 L558.77,328.97 L559.14,328.97 L559.51,328.97 L559.88,328.97 L560.25,328.97 L560.62,328.97 L560.98,328.97 L561.35,328.97 L561.72,328.97 L562.09,328.97 L562.46,328.97 L562.83,328.97 L563.2,328.97 L563.57,328.97 L563.94,328.97 L564.31,328.97 L564.68,328.97 L565.05,328.97 L565.42,328.97 L565.79,328.97 L566.16,328.97 L566.53,328.97 L566.9,328.97 L567.27,328.97 L567.64,328.97 L568.01,328.97 L568.38,328.97 L568.75,328.97 L569.12,328.97 L569.49,328.97 L569.86,328.97 L570.22,328.97 L570.59,328.97 L570.96,328.97 L571.33,328.97 L571.7,328.97 L572.07,328.97 L572.44,328.97 L572.81,328.97 L573.18,328.97 L573.55,328.97 L573.92,328.97 L574.29,328.97 L574.66,328.97 L575.03,328.97 L575.4,328.97 L575.77,328.97 L576.14,328.97 L576.51,328.97 L576.88,328.97 L577.25,328.97 L577.62,328.97 L577.99,328.97 L578.36,328.97 L578.73,328.97 L579.1,328.97 L579.46,328.97 L579.83,328.97 L580.2,328.97 L580.57,328.97 L580.94,328.97 L581.31,328.97 L581.68,328.97 L582.05,328.97 L582.42,328.97 L582.79,328.97 L583.16,328.97 L583.53,328.97 L583.9,328.97 L584.27,328.97 L584.64,328.97 L585.01,328.97 L585.38,328.97 L585.75,328.97 L586.12,328.97 L586.49,328.97 L586.86,328.97 L587.23,328.97 L587.6,328.97 L587.97,328.97 L588.34,328.97 L588.7,328.97 L589.07,328.97 L589.44,328.97 L589.81,328.97 L590.18,328.97 L590.55,328.97 L590.92,328.97 L591.29,328.97 L591.66,328.97 L592.03,328.97 L592.4,328.97 L592.77,328.97 L593.14,328.97 L593.51,328.97 L593.88,328.97 L594.25,328.97 L594.62,328.97 L594.99,328.97 L595.36,328.97 L595.73,328.97 L596.1,328.97 L596.47,328.97 L596.84,328.97 L597.21,328.97 L597.58,328.97 L597.94,328.97 L598.31,328.97 L598.68,328.97 L599.05,328.97 L599.42,328.97 L599.79,328.97 L600.16,328.97 L600.53,328.97 L600.9,328.97 L601.27,328.97 L601.64,328.97 L602.01,328.97 L602.38,328.97 L602.75,328.97 L603.12,328.97 L603.49,328.97 L603.86,328.97 L604.23,328.97 L604.6,328.97 L604.97,328.97 L605.34,328.97 L605.71,328.97 L606.08,328.97 L606.45,328.97 L606.82,328.97 L607.18,328.97 L607.55,328.97 L607.92,328.97 L608.29,328.97 L608.66,328.97 L609.03,328.97 L609.4,328.97 L609.77,328.97 L610.14,328.97 L610.51,328.97 L610.88,328.97 L611.25,328.97 L611.62,328.97 L611.99,328.97 L612.36,328.97 L612.73,328.97 L613.1,328.97 L613.47,328.97 L613.84,328.97 L614.21,328.97 L614.58,328.97 L614.95,328.97 L615.32,328.97 L615.69,328.97 L616.06,328.97 L616.42,328.97 L616.79,328.97 L617.16,328.97 L617.53,328.97 L617.9,328.97 L618.27,328.97 L618.64,328.97 L619.01,328.97 L619.38,328.97 L619.75,328.97 L620.12,328.97 L620.49,328.97 L620.86,328.97 L621.23,328.97 L621.6,328.97 L621.97,328.97 L622.34,328.97 L622.71,328.97 L623.08,328.97 L623.45,328.97 L623.82,328.97 L624.19,328.97 L624.56,328.97 L624.93,328.97 L625.3,328.97 L625.66,328.97 L626.03,328.97 L626.4,328.97 L626.77,328.97 L627.14,328.97 L627.51,328.97 L627.88,328.97 L628.25,328.97 L628.62,328.97 L628.99,328.97 L629.36,328.97 L629.73,328.97 L630.1,328.97 L630.47,328.97 L630.84,328.97 L631.21,328.97 L631.58,328.97 L631.95,328.97 L632.32,328.97 L632.69,328.97 L633.06,328.97 L633.43,328.97 L633.8,328.97 L634.17,328.97 L634.54,328.97 L634.9,328.97 L635.27,328.97 L635.64,328.97 L636.01,328.97 L636.38,328.97 L636.75,328.97 L637.12,328.97 L637.49,328.97 L637.86,328.97 L638.23,328.97 L638.6,328.97 L638.97,328.97 L639.34,328.97 L639.71,328.97 L640.08,328.97 L640.45,328.97 L640.82,328.97 L641.19,328.97 L641.56,328.97 L641.93,328.97 L642.3,328.97 L642.67,328.97 L643.04,328.97 L643.41,328.97 L643.78,328.97 L644.14,328.97 L644.51,328.97 L644.88,328.97 L645.25,328.97 L645.62,328.97 L645.99,328.97 L646.36,328.97 L646.73,328.97 L647.1,328.97 L647.47,328.97 L647.84,328.97 L648.21,328.97 L648.58,328.97 L648.95,328.97 L649.32,328.97 L649.69,328.97 L650.06,328.97 L650.43,328.97 L650.8,328.97 L651.17,328.97 L651.54,328.97 L651.91,328.97 L652.28,328.97 L652.65,328.97 L653.02,328.97 L653.38,328.97 L653.75,328.97 L654.12,328.97 L654.49,328.97 L654.86,328.97 L655.23,328.97 L655.6,328.97 L655.97,328.97 L656.34,328.97 L656.71,328.97 L657.08,328.97 L657.45,328.97 L657.82,328.97 L658.19,328.97 L658.56,328.97 L658.93,328.97 L659.3,328.97 L659.67,328.97 L660.04,328.97 L660.41,328.97 L660.78,328.97 L661.15,328.97 L661.52,328.97 L661.89,328.97 L662.26,328.97 L662.62,328.97 L662.99,328.97 L663.36,328.97 L663.73,328.97 L664.1,328.97 L664.47,328.97 L664.84,328.97 L665.21,328.97 L665.58,328.97 L665.95,328.97 L666.32,328.97 L666.69,328.97 L667.06,328.97 L667.43,328.97 L667.8,328.97 L668.17,328.97 L668.54,328.97 L668.91,328.97 L669.28,328.97 L669.65,328.97 L670.02,328.97 L670.39,328.97 L670.76,328.97 L671.13,328.97 L671.5,328.97 L671.86,328.97 L672.23,328.97 L672.6,328.97 L672.97,328.97 L673.34,328.97 L673.71,328.97 L674.08,328.97 L674.45,328.97 L674.82,328.97 L675.19,328.97 L675.56,328.97 L675.93,328.97 L676.3,328.97" fill="none" stroke="#8a4f8a" stroke-width="0.9" stroke-linejoin="round" stroke-linecap="round" />
<circle cx="504.4" cy="201.9" r="2.6" fill="url(#bB)"/>
<text x="515.5" y="204.8" font-size="7.7" text-anchor="start" fill="#25578a" font-weight="bold" stroke="#25578a" stroke-width="0.25">Control</text>
<circle cx="504.4" cy="213.4" r="2.6" fill="url(#bR)"/>
<text x="515.5" y="216.2" font-size="7.7" text-anchor="start" fill="#a00c14" font-weight="bold" stroke="#a00c14" stroke-width="0.25">Target</text>
<line x1="495.9" y1="224.2" x2="513.2" y2="224.2" stroke="#6f3a8a" stroke-width="1.6" />
<text x="515.5" y="227.5" font-size="7.7" text-anchor="start" fill="#6f3a8a" font-weight="bold" stroke="#6f3a8a" stroke-width="0.25">Fitting</text>
<line x1="557" y1="246.1" x2="653.5" y2="246.1" stroke="#777" stroke-width="0.7" />
<line x1="557" y1="256.3" x2="653.5" y2="256.3" stroke="#777" stroke-width="0.7" />
<line x1="557" y1="266.5" x2="653.5" y2="266.5" stroke="#777" stroke-width="0.7" />
<line x1="557" y1="277.6" x2="653.5" y2="277.6" stroke="#777" stroke-width="0.7" />
<line x1="601.5" y1="246.1" x2="601.5" y2="277.6" stroke="#555" stroke-width="0.7" />
<text x="579" y="254.4" font-size="8.3" text-anchor="middle" fill="#25578a" font-weight="bold" stroke="#25578a" stroke-width="0.25">Control</text>
<text x="627.5" y="254.4" font-size="8.3" text-anchor="middle" fill="#a00c14" font-weight="bold" stroke="#a00c14" stroke-width="0.25">Target</text>
<text x="579" y="264.6" font-size="8.1" text-anchor="middle" fill="#25578a" font-weight="bold" stroke="#25578a" stroke-width="0.25">55.2 ns</text>
<text x="627.5" y="264.6" font-size="8.1" text-anchor="middle" fill="#a00c14" font-weight="bold" stroke="#a00c14" stroke-width="0.25">240.4 ns</text>
<text x="579" y="274.7" font-size="8.1" text-anchor="middle" fill="#25578a" font-weight="bold" stroke="#25578a" stroke-width="0.25">185.9 ns</text>
<text x="627.5" y="274.7" font-size="8.1" text-anchor="middle" fill="#a00c14" font-weight="bold" stroke="#a00c14" stroke-width="0.25">1477.2 ns</text>
<rect x="491.1" y="195.8" width="185.7" height="146.2" fill="none" stroke="#000" stroke-width="1.7"/>
<line x1="36.4" y1="523.3" x2="36.4" y2="525.8" stroke="#000" stroke-width="1" />
<line x1="56.04" y1="523.3" x2="56.04" y2="524.9" stroke="#000" stroke-width="1" />
<line x1="75.68" y1="523.3" x2="75.68" y2="525.8" stroke="#000" stroke-width="1" />
<line x1="95.31" y1="523.3" x2="95.31" y2="524.9" stroke="#000" stroke-width="1" />
<line x1="114.95" y1="523.3" x2="114.95" y2="525.8" stroke="#000" stroke-width="1" />
<line x1="134.59" y1="523.3" x2="134.59" y2="524.9" stroke="#000" stroke-width="1" />
<line x1="154.23" y1="523.3" x2="154.23" y2="525.8" stroke="#000" stroke-width="1" />
<line x1="173.86" y1="523.3" x2="173.86" y2="524.9" stroke="#000" stroke-width="1" />
<line x1="193.5" y1="523.3" x2="193.5" y2="525.8" stroke="#000" stroke-width="1" />
<line x1="213.14" y1="523.3" x2="213.14" y2="524.9" stroke="#000" stroke-width="1" />
<text x="36.4" y="533" font-size="6.8" text-anchor="middle" fill="#111" font-weight="bold" stroke="#111" stroke-width="0.25">-3.4</text>
<text x="75.68" y="533" font-size="6.8" text-anchor="middle" fill="#111" font-weight="bold" stroke="#111" stroke-width="0.25">-3.2</text>
<text x="114.95" y="533" font-size="6.8" text-anchor="middle" fill="#111" font-weight="bold" stroke="#111" stroke-width="0.25">-3.0</text>
<text x="154.23" y="533" font-size="6.8" text-anchor="middle" fill="#111" font-weight="bold" stroke="#111" stroke-width="0.25">-2.8</text>
<text x="193.5" y="533" font-size="6.8" text-anchor="middle" fill="#111" font-weight="bold" stroke="#111" stroke-width="0.25">-2.6</text>
<line x1="36.9" y1="377.8" x2="34.4" y2="377.8" stroke="#000" stroke-width="1" />
<line x1="36.9" y1="389.42" x2="35.3" y2="389.42" stroke="#000" stroke-width="1" />
<line x1="36.9" y1="401.04" x2="35.3" y2="401.04" stroke="#000" stroke-width="1" />
<line x1="36.9" y1="412.66" x2="35.3" y2="412.66" stroke="#000" stroke-width="1" />
<line x1="36.9" y1="424.28" x2="35.3" y2="424.28" stroke="#000" stroke-width="1" />
<line x1="36.9" y1="435.9" x2="34.4" y2="435.9" stroke="#000" stroke-width="1" />
<line x1="36.9" y1="447.52" x2="35.3" y2="447.52" stroke="#000" stroke-width="1" />
<line x1="36.9" y1="459.14" x2="35.3" y2="459.14" stroke="#000" stroke-width="1" />
<line x1="36.9" y1="470.76" x2="35.3" y2="470.76" stroke="#000" stroke-width="1" />
<line x1="36.9" y1="482.38" x2="35.3" y2="482.38" stroke="#000" stroke-width="1" />
<line x1="36.9" y1="494" x2="34.4" y2="494" stroke="#000" stroke-width="1" />
<line x1="36.9" y1="505.62" x2="35.3" y2="505.62" stroke="#000" stroke-width="1" />
<line x1="36.9" y1="517.24" x2="35.3" y2="517.24" stroke="#000" stroke-width="1" />
<text x="33" y="380.2" font-size="6.8" text-anchor="end" fill="#111" font-weight="bold" stroke="#111" stroke-width="0.25">-5</text>
<text x="33" y="438.3" font-size="6.8" text-anchor="end" fill="#111" font-weight="bold" stroke="#111" stroke-width="0.25">-10</text>
<text x="33" y="496.4" font-size="6.8" text-anchor="end" fill="#111" font-weight="bold" stroke="#111" stroke-width="0.25">-15</text>
<text x="120.3" y="544.4" font-size="10.6" text-anchor="middle" fill="#111" font-weight="bold" stroke="#111" stroke-width="0.25">-1000/(<tspan font-style="italic">t</tspan>+273) (<tspan font-style="italic">k</tspan><tspan dy="-4" font-size="7">-1</tspan><tspan dy="4">)</tspan></text>
<text x="19.5" y="460.5" font-size="10.5" text-anchor="middle" fill="#111" font-weight="bold" stroke="#111" stroke-width="0.25" transform="rotate(-90 19.5 460.5)">Ln(<tspan font-style="italic">I</tspan> (A))</text>
<line x1="44.6" y1="476.1" x2="210.4" y2="446" stroke="#25578a" stroke-width="2.2" />
<line x1="44.6" y1="475.2" x2="210.4" y2="453.3" stroke="#a00c14" stroke-width="2.2" />
<circle cx="44" cy="471.7" r="3.1" fill="url(#bB)"/>
<circle cx="94.8" cy="471.7" r="3.1" fill="url(#bB)"/>
<circle cx="139.8" cy="466.2" r="3.1" fill="url(#bB)"/>
<circle cx="176.9" cy="455" r="3.1" fill="url(#bB)"/>
<circle cx="210.4" cy="440.5" r="3.1" fill="url(#bB)"/>
<circle cx="44" cy="470.3" r="3.1" fill="url(#bR)"/>
<circle cx="94.8" cy="474" r="3.1" fill="url(#bR)"/>
<circle cx="139.8" cy="465.9" r="3.1" fill="url(#bR)"/>
<circle cx="176.9" cy="458.6" r="3.1" fill="url(#bR)"/>
<circle cx="210.4" cy="450.7" r="3.1" fill="url(#bR)"/>
<text x="126.4" y="436" font-size="7.9" text-anchor="start" fill="#25578a" font-weight="bold" stroke="#25578a" stroke-width="0.25">active energy= 0.265 eV</text>
<text x="42.3" y="490.7" font-size="7.9" text-anchor="start" fill="#a00c14" font-weight="bold" stroke="#a00c14" stroke-width="0.25">active energy= 0.183 eV</text>
<circle cx="48.1" cy="383.5" r="3" fill="url(#bB)"/>
<text x="59.8" y="386.2" font-size="8" text-anchor="start" fill="#25578a" font-weight="bold" stroke="#25578a" stroke-width="0.25">Control</text>
<circle cx="48.1" cy="393.6" r="3" fill="url(#bR)"/>
<text x="59.8" y="396.3" font-size="8" text-anchor="start" fill="#a00c14" font-weight="bold" stroke="#a00c14" stroke-width="0.25"> Target</text>
<line x1="39.7" y1="403.7" x2="57.1" y2="403.7" stroke="#25578a" stroke-width="2.4" />
<text x="59.8" y="406.5" font-size="8" text-anchor="start" fill="#25578a" font-weight="bold" stroke="#25578a" stroke-width="0.25">Linear Fit of Control</text>
<line x1="39.7" y1="413.7" x2="57.1" y2="413.7" stroke="#a00c14" stroke-width="2.4" />
<text x="59.8" y="416.5" font-size="8" text-anchor="start" fill="#a00c14" font-weight="bold" stroke="#a00c14" stroke-width="0.25">Linear Fit of Target</text>
<rect x="36.9" y="377.8" width="185.2" height="145.5" fill="none" stroke="#000" stroke-width="1.7"/>
<line x1="270.87" y1="523.4" x2="270.87" y2="525" stroke="#000" stroke-width="1" />
<line x1="292.13" y1="523.4" x2="292.13" y2="525" stroke="#000" stroke-width="1" />
<line x1="313.39" y1="523.4" x2="313.39" y2="525" stroke="#000" stroke-width="1" />
<line x1="334.64" y1="523.4" x2="334.64" y2="525" stroke="#000" stroke-width="1" />
<line x1="355.9" y1="523.4" x2="355.9" y2="525" stroke="#000" stroke-width="1" />
<line x1="377.16" y1="523.4" x2="377.16" y2="525" stroke="#000" stroke-width="1" />
<line x1="398.41" y1="523.4" x2="398.41" y2="525" stroke="#000" stroke-width="1" />
<line x1="419.67" y1="523.4" x2="419.67" y2="525" stroke="#000" stroke-width="1" />
<line x1="440.93" y1="523.4" x2="440.93" y2="525" stroke="#000" stroke-width="1" />
<line x1="281.5" y1="523.4" x2="281.5" y2="525.9" stroke="#000" stroke-width="1" />
<text x="281.5" y="532.5" font-size="7.2" text-anchor="middle" fill="#111" font-weight="bold" stroke="#111" stroke-width="0.25">140</text>
<line x1="302.76" y1="523.4" x2="302.76" y2="525.9" stroke="#000" stroke-width="1" />
<text x="302.76" y="532.5" font-size="7.2" text-anchor="middle" fill="#111" font-weight="bold" stroke="#111" stroke-width="0.25">160</text>
<line x1="324.01" y1="523.4" x2="324.01" y2="525.9" stroke="#000" stroke-width="1" />
<text x="324.01" y="532.5" font-size="7.2" text-anchor="middle" fill="#111" font-weight="bold" stroke="#111" stroke-width="0.25">180</text>
<line x1="345.27" y1="523.4" x2="345.27" y2="525.9" stroke="#000" stroke-width="1" />
<text x="345.27" y="532.5" font-size="7.2" text-anchor="middle" fill="#111" font-weight="bold" stroke="#111" stroke-width="0.25">200</text>
<line x1="366.53" y1="523.4" x2="366.53" y2="525.9" stroke="#000" stroke-width="1" />
<text x="366.53" y="532.5" font-size="7.2" text-anchor="middle" fill="#111" font-weight="bold" stroke="#111" stroke-width="0.25">220</text>
<line x1="387.79" y1="523.4" x2="387.79" y2="525.9" stroke="#000" stroke-width="1" />
<text x="387.79" y="532.5" font-size="7.2" text-anchor="middle" fill="#111" font-weight="bold" stroke="#111" stroke-width="0.25">240</text>
<line x1="409.04" y1="523.4" x2="409.04" y2="525.9" stroke="#000" stroke-width="1" />
<text x="409.04" y="532.5" font-size="7.2" text-anchor="middle" fill="#111" font-weight="bold" stroke="#111" stroke-width="0.25">260</text>
<line x1="430.3" y1="523.4" x2="430.3" y2="525.9" stroke="#000" stroke-width="1" />
<text x="430.3" y="532.5" font-size="7.2" text-anchor="middle" fill="#111" font-weight="bold" stroke="#111" stroke-width="0.25">280</text>
<line x1="264" y1="377.8" x2="261.5" y2="377.8" stroke="#000" stroke-width="1" />
<line x1="264" y1="394.06" x2="262.4" y2="394.06" stroke="#000" stroke-width="1" />
<line x1="264" y1="410.32" x2="261.5" y2="410.32" stroke="#000" stroke-width="1" />
<line x1="264" y1="426.59" x2="262.4" y2="426.59" stroke="#000" stroke-width="1" />
<line x1="264" y1="442.85" x2="261.5" y2="442.85" stroke="#000" stroke-width="1" />
<line x1="264" y1="459.11" x2="262.4" y2="459.11" stroke="#000" stroke-width="1" />
<line x1="264" y1="475.38" x2="261.5" y2="475.38" stroke="#000" stroke-width="1" />
<line x1="264" y1="491.64" x2="262.4" y2="491.64" stroke="#000" stroke-width="1" />
<line x1="264" y1="507.9" x2="261.5" y2="507.9" stroke="#000" stroke-width="1" />
<text x="261" y="380.3" font-size="7.2" text-anchor="end" fill="#111" font-weight="bold" stroke="#111" stroke-width="0.25">1.0</text>
<text x="261" y="412.82" font-size="7.2" text-anchor="end" fill="#111" font-weight="bold" stroke="#111" stroke-width="0.25">0.9</text>
<text x="261" y="445.35" font-size="7.2" text-anchor="end" fill="#111" font-weight="bold" stroke="#111" stroke-width="0.25">0.8</text>
<text x="261" y="477.88" font-size="7.2" text-anchor="end" fill="#111" font-weight="bold" stroke="#111" stroke-width="0.25">0.7</text>
<text x="261" y="510.4" font-size="7.2" text-anchor="end" fill="#111" font-weight="bold" stroke="#111" stroke-width="0.25">0.6</text>
<text x="357.1" y="544.4" font-size="11.7" text-anchor="middle" fill="#111" font-weight="bold" stroke="#111" stroke-width="0.25">Temperature / K</text>
<text x="249" y="462.8" font-size="14.4" text-anchor="middle" fill="#111" font-weight="bold" stroke="#111" stroke-width="0.25" transform="rotate(-90 249 462.8)">Current / nA</text>
<path d="M264.07,429.14 L264.44,434.38 L264.81,430.99 L265.19,432.11 L265.56,431.98 L265.93,431.71 L266.3,433.77 L266.67,431.73 L267.05,432.45 L267.42,427.68 L267.79,431.21 L268.16,431.87 L268.53,431.79 L268.91,432.23 L269.28,432.67 L269.65,431.91 L270.02,430.92 L270.39,431.74 L270.77,430.38 L271.14,431.69 L271.51,431.42 L271.88,429.67 L272.25,430.77 L272.63,431.92 L273,431.51 L273.37,430.62 L273.74,428.97 L274.11,431.41 L274.49,431.31 L274.86,429.81 L275.23,431.88 L275.6,431.12 L275.97,429.7 L276.35,429.96 L276.72,430.43 L277.09,429.68 L277.46,433.59 L277.83,429.12 L278.21,431.3 L278.58,432.04 L278.95,429.76 L279.32,429.22 L279.69,430.47 L280.07,431.15 L280.44,429.86 L280.81,429.92 L281.18,428.24 L281.55,428.99 L281.93,429.64 L282.3,428.64 L282.67,430.2 L283.04,431.11 L283.41,429.5 L283.79,429.62 L284.16,430.66 L284.53,431.45 L284.9,430.45 L285.27,433.7 L285.65,430.23 L286.02,430.6 L286.39,433.17 L286.76,431.38 L287.13,432.68 L287.51,430.88 L287.88,434.23 L288.25,433.13 L288.62,431.47 L288.99,431.15 L289.37,435.11 L289.74,433.41 L290.11,432.65 L290.48,433.88 L290.85,431.54 L291.23,434.84 L291.6,433.21 L291.97,434.9 L292.34,432.19 L292.71,433.88 L293.09,434.36 L293.46,435.96 L293.83,432.16 L294.2,433.29 L294.57,433.35 L294.95,432.98 L295.32,433.94 L295.69,435.13 L296.06,435.37 L296.43,435.43 L296.81,433.01 L297.18,436.29 L297.55,435.36 L297.92,435.09 L298.29,434.51 L298.67,434.16 L299.04,436.27 L299.41,436.85 L299.78,434.92 L300.15,433.56 L300.53,434.11 L300.9,434.75 L301.27,435.37 L301.64,434.69 L302.01,435.31 L302.39,434.11 L302.76,435.95 L303.13,434.89 L303.5,435.15 L303.87,434.38 L304.25,434.7 L304.62,432.01 L304.99,433.15 L305.36,433.1 L305.73,437.05 L306.11,435.05 L306.48,435.28 L306.85,433.9 L307.22,437.02 L307.59,433 L307.97,433.04 L308.34,435.65 L308.71,435.2 L309.08,434.91 L309.45,433.87 L309.83,433.11 L310.2,431.44 L310.57,433.92 L310.94,432.76 L311.31,433.4 L311.69,431.53 L312.06,432.64 L312.43,431.9 L312.8,434.66 L313.17,433.64 L313.55,434.34 L313.92,431.7 L314.29,432.67 L314.66,433.77 L315.03,433.93 L315.41,432.87 L315.78,434.22 L316.15,434.48 L316.52,432.87 L316.89,430.61 L317.27,433.7 L317.64,434.05 L318.01,434.75 L318.38,434.94 L318.75,432.82 L319.13,432.48 L319.5,433.51 L319.87,433.26 L320.24,433.65 L320.61,433.79 L320.99,435.88 L321.36,434.86 L321.73,434.43 L322.1,435.66 L322.47,435.52 L322.85,436.12 L323.22,435.75 L323.59,434.57 L323.96,436.14 L324.33,435.97 L324.71,434.98 L325.08,435.28 L325.45,434.19 L325.82,438.6 L326.19,435.34 L326.57,436.96 L326.94,436.35 L327.31,435.64 L327.68,435.45 L328.05,435.58 L328.43,436.67 L328.8,435.1 L329.17,437.33 L329.54,437.25 L329.91,436.26 L330.29,437.88 L330.66,434.87 L331.03,436.25 L331.4,435.02 L331.77,437.61 L332.15,438.1 L332.52,437.56 L332.89,437 L333.26,438.6 L333.63,437.59 L334.01,438.14 L334.38,436.38 L334.75,439.08 L335.12,437.24 L335.49,439.28 L335.87,439.76 L336.24,439.59 L336.61,440.26 L336.98,438.86 L337.35,437.98 L337.73,439.1 L338.1,438.71 L338.47,437.69 L338.84,439.37 L339.21,439.59 L339.59,440.26 L339.96,441.92 L340.33,439.36 L340.7,442.35 L341.07,439.75 L341.45,440.64 L341.82,439.47 L342.19,440.96 L342.56,441.95 L342.93,440.73 L343.31,441.9 L343.68,441.59 L344.05,441.46 L344.42,441.78 L344.79,441.95 L345.17,442.79 L345.54,442.16 L345.91,444.49 L346.28,442.33 L346.65,443.62 L347.03,441.08 L347.4,441 L347.77,444.76 L348.14,442.47 L348.51,442.87 L348.89,444.01 L349.26,442.3 L349.63,443.53 L350,445.1 L350.37,443.48 L350.75,443.43 L351.12,443.23 L351.49,444.84 L351.86,442.82 L352.23,442.77 L352.61,445 L352.98,444.53 L353.35,443.96 L353.72,444.6 L354.09,442.06 L354.47,443.89 L354.84,445.37 L355.21,445.21 L355.58,444.46 L355.95,441.88 L356.33,444.78 L356.7,444.53 L357.07,444.18 L357.44,444.91 L357.81,442.36 L358.19,445.65 L358.56,444.3 L358.93,445.06 L359.3,444.63 L359.67,446.77 L360.05,443.51 L360.42,445.76 L360.79,445.68 L361.16,446.87 L361.53,446.74 L361.91,445.36 L362.28,444.97 L362.65,445.33 L363.02,444.9 L363.39,445.55 L363.77,446.42 L364.14,445.59 L364.51,445.95 L364.88,446.83 L365.25,445.97 L365.63,445.42 L366,446.7 L366.37,447.45 L366.74,446.3 L367.11,445.04 L367.49,447.52 L367.86,447.46 L368.23,447.59 L368.6,446.12 L368.97,449.68 L369.35,447.24 L369.72,446.38 L370.09,448.73 L370.46,446.19 L370.83,447.34 L371.21,448.65 L371.58,447.86 L371.95,449.91 L372.32,448.88 L372.69,446.22 L373.07,449.39 L373.44,446.34 L373.81,448.6 L374.18,447.43 L374.55,448.58 L374.93,451.24 L375.3,449.4 L375.67,448.59 L376.04,450.18 L376.41,450.46 L376.79,448.56 L377.16,449.77 L377.53,451.01 L377.9,449.91 L378.27,448.19 L378.65,449.76 L379.02,448.2 L379.39,447.56 L379.76,449.3 L380.13,450.66 L380.51,450.9 L380.88,449.48 L381.25,448.49 L381.62,449.22 L381.99,448.94 L382.37,450.11 L382.74,449.3 L383.11,450.22 L383.48,450.09 L383.85,451.24 L384.23,451.6 L384.6,450.41 L384.97,451.17 L385.34,451.05 L385.71,449.25 L386.09,450.19 L386.46,446.81 L386.83,449.13 L387.2,450.97 L387.57,449.42 L387.95,449.96 L388.32,451.21 L388.69,449.25 L389.06,451.45 L389.43,454.13 L389.81,449.82 L390.18,451.51 L390.55,449.2 L390.92,451.72 L391.29,452.43 L391.67,449.42 L392.04,452.51 L392.41,451.17 L392.78,449.87 L393.15,451.52 L393.53,451.9 L393.9,451.87 L394.27,451.25 L394.64,453.36 L395.01,452.01 L395.39,452.33 L395.76,450.62 L396.13,453.95 L396.5,454.92 L396.87,453.34 L397.25,454.93 L397.62,454.45 L397.99,454.96 L398.36,454.14 L398.73,456.6 L399.11,456.34 L399.48,459.53 L399.85,458.01 L400.22,455.62 L400.59,458.49 L400.97,458.82 L401.34,459.68 L401.71,457.86 L402.08,458.53 L402.45,460.29 L402.83,458.38 L403.2,459.04 L403.57,458.66 L403.94,460.43 L404.31,457.89 L404.69,459.57 L405.06,460.32 L405.43,460.92 L405.8,460.75 L406.17,459.62 L406.55,461.02 L406.92,459.59 L407.29,460.25 L407.66,459.47 L408.03,460.15 L408.41,461.21 L408.78,463.38 L409.15,460.92 L409.52,460.42 L409.89,461.19 L410.27,460.79 L410.64,462.01 L411.01,461.95 L411.38,462.64 L411.75,460.06 L412.13,461.47 L412.5,462.25 L412.87,463.24 L413.24,461.93 L413.61,460.15 L413.99,461.3 L414.36,462.69 L414.73,460.27 L415.1,460.3 L415.47,460.84 L415.85,461.09 L416.22,460.71 L416.59,461.44 L416.96,461.21 L417.33,463.01 L417.71,460.45 L418.08,461.93 L418.45,459.93 L418.82,464.6 L419.19,461.51 L419.57,461.24 L419.94,462.79 L420.31,461.93 L420.68,461.63 L421.05,461.87 L421.43,463.19 L421.8,462.78 L422.17,461.51 L422.54,461.26 L422.91,462.65 L423.29,462.72 L423.66,462.63 L424.03,461.73 L424.4,464.16 L424.77,464.52 L425.15,462.91 L425.52,464.36 L425.89,463.81 L426.26,463.1 L426.63,462.69 L427.01,464.51 L427.38,462.42 L427.75,465.4 L428.12,462.8 L428.49,465.26 L428.87,464.96 L429.24,462.82 L429.61,464.05 L429.98,464.54 L430.35,464.18 L430.73,463.18 L431.1,463.81 L431.47,463.82 L431.84,462.62 L432.21,464.68 L432.59,464.43 L432.96,464.53 L433.33,462.64 L433.7,462.88 L434.07,462.58 L434.45,464.11 L434.82,464.29 L435.19,463.17 L435.56,464.63 L435.93,463.27 L436.31,463.42 L436.68,465.07 L437.05,464.41 L437.42,464.48 L437.79,462.4 L438.17,461.46 L438.54,464.55 L438.91,464.46 L439.28,467.1 L439.65,464.29 L440.03,464.57 L440.4,465.82 L440.77,463.73 L441.14,466.44 L441.51,464.93 L441.89,464.56 L442.26,466.17 L442.63,463.81 L443,463.61 L443.37,466.42 L443.75,466.47 L444.12,464.21 L444.49,464.96 L444.86,466.34 L445.23,465.32 L445.61,465.14 L445.98,465.2 L446.35,464.13 L446.72,464.66 L447.09,463.11 L447.47,463.59 L447.84,464.41 L448.21,463.98 L448.58,463.73 L448.95,464.46 L449.33,466.68" fill="none" stroke="#25578a" stroke-width="3.4" stroke-linejoin="round" stroke-linecap="round" stroke-linejoin="miter"/>
<path d="M264.07,468.69 L264.44,468.35 L264.81,466.91 L265.19,467.77 L265.56,469.69 L265.93,468.41 L266.3,468.95 L266.67,468.37 L267.05,469.84 L267.42,468.38 L267.79,468.43 L268.16,467.38 L268.53,468.44 L268.91,468.32 L269.28,469.98 L269.65,466.96 L270.02,470.38 L270.39,467.95 L270.77,469.13 L271.14,469.6 L271.51,469.43 L271.88,469.46 L272.25,468.62 L272.63,469.03 L273,467.75 L273.37,470.45 L273.74,468.98 L274.11,469.71 L274.49,468.37 L274.86,470.73 L275.23,469.3 L275.6,468.85 L275.97,470.24 L276.35,468.24 L276.72,468.9 L277.09,468.24 L277.46,468.29 L277.83,469.87 L278.21,469.73 L278.58,469.26 L278.95,468.5 L279.32,468.42 L279.69,469.7 L280.07,469.63 L280.44,469.8 L280.81,469.64 L281.18,469.37 L281.55,469.3 L281.93,467.54 L282.3,469.65 L282.67,469.49 L283.04,468.91 L283.41,470.08 L283.79,469.64 L284.16,469.35 L284.53,468.76 L284.9,470.5 L285.27,468.34 L285.65,469.78 L286.02,469.39 L286.39,468.87 L286.76,469.06 L287.13,468.78 L287.51,469.53 L287.88,469.73 L288.25,469.5 L288.62,470.6 L288.99,468.85 L289.37,470.5 L289.74,470.94 L290.11,468.28 L290.48,470.11 L290.85,470.99 L291.23,468.57 L291.6,470.38 L291.97,469.29 L292.34,470.87 L292.71,470.44 L293.09,471.65 L293.46,471.87 L293.83,471.16 L294.2,470.47 L294.57,469.8 L294.95,468.53 L295.32,471.38 L295.69,469.77 L296.06,471.13 L296.43,470.81 L296.81,471.94 L297.18,471.99 L297.55,471.47 L297.92,471.85 L298.29,470.94 L298.67,471.55 L299.04,470.01 L299.41,470.95 L299.78,470.99 L300.15,470.25 L300.53,470.8 L300.9,471.29 L301.27,471.38 L301.64,471.45 L302.01,470.52 L302.39,470.8 L302.76,471.17 L303.13,470.86 L303.5,471.99 L303.87,471.17 L304.25,472.77 L304.62,470.57 L304.99,471.63 L305.36,471.59 L305.73,471.29 L306.11,471.82 L306.48,472.06 L306.85,470.92 L307.22,471.83 L307.59,472.7 L307.97,471.63 L308.34,473.41 L308.71,470.71 L309.08,472.23 L309.45,472.09 L309.83,470.32 L310.2,470.44 L310.57,472.13 L310.94,471.75 L311.31,471.4 L311.69,470.95 L312.06,472.45 L312.43,472.27 L312.8,471.41 L313.17,472.21 L313.55,471.85 L313.92,471.99 L314.29,473.44 L314.66,473.24 L315.03,474.71 L315.41,472.8 L315.78,471.52 L316.15,473.54 L316.52,471.66 L316.89,471.87 L317.27,472.75 L317.64,472.73 L318.01,472.68 L318.38,473.47 L318.75,473.02 L319.13,472.85 L319.5,472.34 L319.87,472.21 L320.24,473.48 L320.61,472.23 L320.99,473.55 L321.36,473.08 L321.73,472.66 L322.1,473 L322.47,473.11 L322.85,472.81 L323.22,473.5 L323.59,473.6 L323.96,473.26 L324.33,472.34 L324.71,473.22 L325.08,471.61 L325.45,473.01 L325.82,475.63 L326.19,473.59 L326.57,471.9 L326.94,473.27 L327.31,473.66 L327.68,474.03 L328.05,472.27 L328.43,472.55 L328.8,472.84 L329.17,473.07 L329.54,472.26 L329.91,472.79 L330.29,474.48 L330.66,472.88 L331.03,473.39 L331.4,473.64 L331.77,472.95 L332.15,473.57 L332.52,476 L332.89,472.38 L333.26,472.82 L333.63,473.79 L334.01,474.01 L334.38,473.55 L334.75,474.8 L335.12,473.53 L335.49,473.99 L335.87,474.11 L336.24,474.59 L336.61,474.41 L336.98,472.98 L337.35,472.82 L337.73,473.52 L338.1,473.98 L338.47,474.68 L338.84,473.4 L339.21,472.7 L339.59,475.34 L339.96,473.09 L340.33,475.83 L340.7,474.37 L341.07,473.8 L341.45,475.24 L341.82,475.39 L342.19,474.03 L342.56,473.49 L342.93,474.61 L343.31,473.16 L343.68,474.91 L344.05,472.88 L344.42,474.23 L344.79,474.17 L345.17,473.89 L345.54,474.16 L345.91,472.95 L346.28,472.7 L346.65,474.09 L347.03,474.71 L347.4,475.57 L347.77,475.28 L348.14,474.7 L348.51,474.84 L348.89,474.85 L349.26,474.86 L349.63,474.51 L350,476.06 L350.37,475.85 L350.75,474.16 L351.12,474.44 L351.49,475.61 L351.86,474.18 L352.23,475.83 L352.61,475.54 L352.98,476.87 L353.35,474.74 L353.72,475.48 L354.09,474.65 L354.47,474.98 L354.84,475.52 L355.21,475.5 L355.58,474.7 L355.95,475.83 L356.33,475.85 L356.7,475.7 L357.07,475.13 L357.44,475.07 L357.81,474.29 L358.19,475.94 L358.56,474.88 L358.93,476.46 L359.3,475.47 L359.67,475.89 L360.05,474.6 L360.42,475.55 L360.79,476.43 L361.16,475.63 L361.53,475.84 L361.91,476.4 L362.28,476.41 L362.65,476.96 L363.02,473.97 L363.39,476.12 L363.77,475.45 L364.14,477.21 L364.51,477.16 L364.88,476.41 L365.25,476.42 L365.63,475.65 L366,477.12 L366.37,475.87 L366.74,475.08 L367.11,477.05 L367.49,475.56 L367.86,477.08 L368.23,476.01 L368.6,475.98 L368.97,474.85 L369.35,476.82 L369.72,476.1 L370.09,475.37 L370.46,477.16 L370.83,476.19 L371.21,476.87 L371.58,476.71 L371.95,475.56 L372.32,475.52 L372.69,473.97 L373.07,474.92 L373.44,474.96 L373.81,476.11 L374.18,476.19 L374.55,475.8 L374.93,477.73 L375.3,474.5 L375.67,476.36 L376.04,476.64 L376.41,476.11 L376.79,474.99 L377.16,474.66 L377.53,475.92 L377.9,475.19 L378.27,475.5 L378.65,476.15 L379.02,475.09 L379.39,475.08 L379.76,476.22 L380.13,473.95 L380.51,476.01 L380.88,474.43 L381.25,475.38 L381.62,475.12 L381.99,474.98 L382.37,473.81 L382.74,475.41 L383.11,474.6 L383.48,473.28 L383.85,475.23 L384.23,474.84 L384.6,474.45 L384.97,475.65 L385.34,474.98 L385.71,476.09 L386.09,475.17 L386.46,475.86 L386.83,476.83 L387.2,475.05 L387.57,476.37 L387.95,476.59 L388.32,477.17 L388.69,476.85 L389.06,476.6 L389.43,476.43 L389.81,475.72 L390.18,477.73 L390.55,476.99 L390.92,475.77 L391.29,476.63 L391.67,476.48 L392.04,475.55 L392.41,476.61 L392.78,476.53 L393.15,476.98 L393.53,475.54 L393.9,476.15 L394.27,477.62 L394.64,476.61 L395.01,478.02 L395.39,476.22 L395.76,476.59 L396.13,477.29 L396.5,477.51 L396.87,478.67 L397.25,476.62 L397.62,477.36 L397.99,477.54 L398.36,476.73 L398.73,477.89 L399.11,477.85 L399.48,477.96 L399.85,478.53 L400.22,475.49 L400.59,477.63 L400.97,477.79 L401.34,476.79 L401.71,480.11 L402.08,477.6 L402.45,477.59 L402.83,478.41 L403.2,477.27 L403.57,479.31 L403.94,477.69 L404.31,477 L404.69,479.56 L405.06,478.96 L405.43,477.94 L405.8,477.86 L406.17,478.4 L406.55,477.61 L406.92,477.74 L407.29,479.06 L407.66,478.08 L408.03,479.06 L408.41,479.74 L408.78,480.04 L409.15,477.27 L409.52,478.24 L409.89,476.57 L410.27,479.38 L410.64,478.5 L411.01,477.96 L411.38,478.38 L411.75,477.88 L412.13,478.19 L412.5,478.83 L412.87,480.24 L413.24,479.14 L413.61,476.99 L413.99,477.78 L414.36,477.31 L414.73,478.92 L415.1,478.62 L415.47,479.2 L415.85,478.19 L416.22,478.48 L416.59,478.18 L416.96,477.13 L417.33,479.27 L417.71,478.01 L418.08,479.77 L418.45,477.76 L418.82,479.03 L419.19,478.76 L419.57,478.61 L419.94,477.4 L420.31,478.79 L420.68,479.19 L421.05,479.77 L421.43,478.61 L421.8,479.55 L422.17,479.29 L422.54,478.93 L422.91,478.38 L423.29,479.53 L423.66,478.43 L424.03,477.56 L424.4,480.23 L424.77,477.94 L425.15,477.32 L425.52,479.57 L425.89,478.61 L426.26,480.25 L426.63,478.88 L427.01,479.45 L427.38,478.96 L427.75,479.97 L428.12,479.92 L428.49,479.64 L428.87,479.88 L429.24,479.83 L429.61,479.51 L429.98,480.27 L430.35,479.51 L430.73,479.02 L431.1,481.32 L431.47,479.3 L431.84,480.09 L432.21,480.42 L432.59,480.62 L432.96,480.24 L433.33,480.18 L433.7,479.32 L434.07,480.65 L434.45,478.79 L434.82,480.33 L435.19,479.12 L435.56,478.81 L435.93,480.71 L436.31,478.86 L436.68,477.97 L437.05,480.11 L437.42,479.29 L437.79,479.88 L438.17,479.72 L438.54,479.95 L438.91,480.22 L439.28,479.23 L439.65,479.12 L440.03,479.85 L440.4,478.63 L440.77,478.99 L441.14,479.32 L441.51,480.49 L441.89,478.37 L442.26,478.86 L442.63,481.7 L443,480.87 L443.37,480.38 L443.75,479.24 L444.12,479.01 L444.49,480.27 L444.86,479.85 L445.23,479.5 L445.61,481.12 L445.98,479.62 L446.35,480.37 L446.72,479.98 L447.09,480.19 L447.47,481.13 L447.84,480.99 L448.21,480.17 L448.58,480.11 L448.95,480.45 L449.33,479.39" fill="none" stroke="#a00c14" stroke-width="2.6" stroke-linejoin="round" stroke-linecap="round" stroke-linejoin="miter"/>
<line x1="271.51" y1="429.84" x2="271.51" y2="422.68" stroke="#25578a" stroke-width="1.2" />
<line x1="279.37" y1="429.84" x2="279.37" y2="421.06" stroke="#25578a" stroke-width="1.2" />
<line x1="280.86" y1="429.84" x2="280.86" y2="423.34" stroke="#25578a" stroke-width="1.2" />
<text x="318.8" y="424" font-size="7.6" text-anchor="start" fill="#25578a" font-weight="bold" stroke="#25578a" stroke-width="0.25"><tspan font-style="italic">N</tspan><tspan dy="1.8" font-size="5.2">t</tspan><tspan dy="-1.8">=1.43 × 10</tspan><tspan dy="-3" font-size="5.2">15</tspan><tspan dy="3"> cm</tspan><tspan dy="-3" font-size="5.2">-3</tspan></text>
<text x="279.6" y="487.4" font-size="7.6" text-anchor="start" fill="#a00c14" font-weight="bold" stroke="#a00c14" stroke-width="0.25"><tspan font-style="italic">N</tspan><tspan dy="1.8" font-size="5.2">t</tspan><tspan dy="-1.8">=1.22 × 10</tspan><tspan dy="-3" font-size="5.2">15</tspan><tspan dy="3"> cm</tspan><tspan dy="-3" font-size="5.2">-3</tspan></text>
<line x1="402.8" y1="383.5" x2="417" y2="383.5" stroke="#25578a" stroke-width="2.6" />
<text x="419.6" y="386.2" font-size="7.8" text-anchor="start" fill="#25578a" font-weight="bold" stroke="#25578a" stroke-width="0.25">Control</text>
<line x1="402.8" y1="393.6" x2="417" y2="393.6" stroke="#a00c14" stroke-width="2.6" />
<text x="419.6" y="396.3" font-size="7.8" text-anchor="start" fill="#a00c14" font-weight="bold" stroke="#a00c14" stroke-width="0.25">Target</text>
<rect x="264" y="377.8" width="185.6" height="145.6" fill="none" stroke="#000" stroke-width="1.7"/>
<line x1="491.23" y1="523.7" x2="491.23" y2="525.2" stroke="#000" stroke-width="0.9" />
<line x1="505.98" y1="523.7" x2="505.98" y2="525.2" stroke="#000" stroke-width="0.9" />
<line x1="516.45" y1="523.7" x2="516.45" y2="525.2" stroke="#000" stroke-width="0.9" />
<line x1="524.57" y1="523.7" x2="524.57" y2="525.2" stroke="#000" stroke-width="0.9" />
<line x1="531.21" y1="523.7" x2="531.21" y2="525.2" stroke="#000" stroke-width="0.9" />
<line x1="536.82" y1="523.7" x2="536.82" y2="525.2" stroke="#000" stroke-width="0.9" />
<line x1="541.68" y1="523.7" x2="541.68" y2="525.2" stroke="#000" stroke-width="0.9" />
<line x1="545.97" y1="523.7" x2="545.97" y2="525.2" stroke="#000" stroke-width="0.9" />
<line x1="549.8" y1="523.7" x2="549.8" y2="526.2" stroke="#000" stroke-width="0.9" />
<line x1="575.03" y1="523.7" x2="575.03" y2="525.2" stroke="#000" stroke-width="0.9" />
<line x1="589.78" y1="523.7" x2="589.78" y2="525.2" stroke="#000" stroke-width="0.9" />
<line x1="600.25" y1="523.7" x2="600.25" y2="525.2" stroke="#000" stroke-width="0.9" />
<line x1="608.37" y1="523.7" x2="608.37" y2="525.2" stroke="#000" stroke-width="0.9" />
<line x1="615.01" y1="523.7" x2="615.01" y2="525.2" stroke="#000" stroke-width="0.9" />
<line x1="620.62" y1="523.7" x2="620.62" y2="525.2" stroke="#000" stroke-width="0.9" />
<line x1="625.48" y1="523.7" x2="625.48" y2="525.2" stroke="#000" stroke-width="0.9" />
<line x1="629.77" y1="523.7" x2="629.77" y2="525.2" stroke="#000" stroke-width="0.9" />
<line x1="633.6" y1="523.7" x2="633.6" y2="526.2" stroke="#000" stroke-width="0.9" />
<line x1="658.83" y1="523.7" x2="658.83" y2="525.2" stroke="#000" stroke-width="0.9" />
<line x1="673.58" y1="523.7" x2="673.58" y2="525.2" stroke="#000" stroke-width="0.9" />
<text x="549.8" y="534.4" font-size="7.2" text-anchor="middle" fill="#111" font-weight="bold" stroke="#111" stroke-width="0.25">0.1</text>
<text x="633.6" y="534.4" font-size="7.2" text-anchor="middle" fill="#111" font-weight="bold" stroke="#111" stroke-width="0.25">1</text>
<line x1="490.9" y1="380.8" x2="488.4" y2="380.8" stroke="#000" stroke-width="1.2" />
<text x="486.2" y="383.3" font-size="7.2" text-anchor="end" fill="#111" font-weight="bold" stroke="#111" stroke-width="0.25">1000</text>
<line x1="490.9" y1="404.5" x2="488.4" y2="404.5" stroke="#000" stroke-width="1.2" />
<text x="486.2" y="407" font-size="7.2" text-anchor="end" fill="#111" font-weight="bold" stroke="#111" stroke-width="0.25">100</text>
<line x1="490.9" y1="428.2" x2="488.4" y2="428.2" stroke="#000" stroke-width="1.2" />
<text x="486.2" y="430.7" font-size="7.2" text-anchor="end" fill="#111" font-weight="bold" stroke="#111" stroke-width="0.25">10</text>
<line x1="490.9" y1="451.9" x2="488.4" y2="451.9" stroke="#000" stroke-width="1.2" />
<text x="486.2" y="454.4" font-size="7.2" text-anchor="end" fill="#111" font-weight="bold" stroke="#111" stroke-width="0.25">1</text>
<line x1="490.9" y1="475.6" x2="488.4" y2="475.6" stroke="#000" stroke-width="1.2" />
<text x="486.2" y="478.1" font-size="7.2" text-anchor="end" fill="#111" font-weight="bold" stroke="#111" stroke-width="0.25">0.1</text>
<line x1="490.9" y1="499.3" x2="488.4" y2="499.3" stroke="#000" stroke-width="1.2" />
<text x="486.2" y="501.8" font-size="7.2" text-anchor="end" fill="#111" font-weight="bold" stroke="#111" stroke-width="0.25">0.01</text>
<line x1="490.9" y1="523" x2="488.4" y2="523" stroke="#000" stroke-width="1.2" />
<text x="486.2" y="525.5" font-size="7.2" text-anchor="end" fill="#111" font-weight="bold" stroke="#111" stroke-width="0.25">0.001</text>
<text x="578.2" y="547.3" font-size="11.8" text-anchor="middle" fill="#111" font-weight="bold" stroke="#111" stroke-width="0.25">Voltage / V</text>
<text x="471" y="450.8" font-size="9.6" text-anchor="middle" fill="#111" font-weight="bold" stroke="#111" stroke-width="0.25" transform="rotate(-90 471 450.8)">Current density / mA cm<tspan dy="-3.5" font-size="6.5">-2</tspan></text>
<line x1="543.1" y1="501.6" x2="573.8" y2="484.8" stroke="#e04848" stroke-width="0.7" stroke-dasharray="1.6,1.2"/>
<line x1="563.6" y1="487" x2="623.4" y2="478.2" stroke="#e04848" stroke-width="0.7" stroke-dasharray="1.6,1.2"/>
<line x1="570.9" y1="499.4" x2="588.4" y2="483.4" stroke="#4a8ad0" stroke-width="0.7" stroke-dasharray="1.6,1.2"/>
<line x1="559.2" y1="492.8" x2="586.9" y2="491.8" stroke="#4a8ad0" stroke-width="0.7" stroke-dasharray="1.6,1.2"/>
<path d="M490.6,499.37 L491.38,499.36 L492.16,499.34 L492.93,499.33 L493.71,499.31 L494.49,499.28 L495.27,499.26 L496.04,499.23 L496.82,499.21 L497.6,499.18 L498.38,499.15 L499.16,499.12 L499.93,499.09 L500.71,499.05 L501.49,499.02 L502.27,498.98 L503.05,498.94 L503.82,498.91 L504.6,498.87 L505.38,498.83 L506.16,498.79 L506.93,498.74 L507.71,498.7 L508.49,498.66 L509.27,498.61 L510.05,498.57 L510.82,498.52 L511.6,498.48 L512.38,498.43 L513.16,498.39 L513.93,498.34 L514.71,498.29 L515.49,498.24 L516.27,498.19 L517.05,498.14 L517.82,498.08 L518.6,498.03 L519.38,497.97 L520.16,497.91 L520.94,497.85 L521.71,497.78 L522.49,497.72 L523.27,497.65 L524.05,497.58 L524.82,497.51 L525.6,497.43 L526.38,497.36 L527.16,497.28 L527.94,497.2 L528.71,497.12 L529.49,497.03 L530.27,496.95 L531.05,496.86 L531.82,496.76 L532.6,496.66 L533.38,496.56 L534.16,496.46 L534.94,496.35 L535.71,496.24 L536.49,496.13 L537.27,496.02 L538.05,495.91 L538.83,495.8 L539.6,495.7 L540.38,495.6 L541.16,495.5 L541.94,495.4 L542.71,495.31 L543.49,495.23 L544.27,495.14 L545.05,495.05 L545.83,494.97 L546.6,494.88 L547.38,494.78 L548.16,494.69 L548.94,494.59 L549.71,494.48 L550.49,494.38 L551.27,494.26 L552.05,494.14 L552.83,494.01 L553.6,493.88 L554.38,493.74 L555.16,493.58 L555.94,493.42 L556.72,493.24 L557.49,493.06 L558.27,492.86 L559.05,492.65 L559.83,492.44 L560.6,492.22 L561.38,492 L562.16,491.77 L562.94,491.55 L563.72,491.32 L564.49,491.09 L565.27,490.85 L566.05,490.61 L566.83,490.35 L567.6,490.09 L568.38,489.81 L569.16,489.52 L569.94,489.22 L570.72,488.91 L571.49,488.58 L572.27,488.23 L573.05,487.87 L573.83,487.5 L574.61,487.11 L575.38,486.71 L576.16,486.29 L576.94,485.87 L577.72,485.44 L578.49,484.99 L579.27,484.54 L580.05,484.07 L580.83,483.6 L581.61,483.12 L582.38,482.63 L583.16,482.13 L583.94,481.63 L584.72,481.13 L585.49,480.63 L586.27,480.14 L587.05,479.64 L587.83,479.16 L588.61,478.68 L589.38,478.21 L590.16,477.75 L590.94,477.3 L591.72,476.86 L592.49,476.42 L593.27,475.99 L594.05,475.57 L594.83,475.14 L595.61,474.72 L596.38,474.29 L597.16,473.87 L597.94,473.43 L598.72,472.99 L599.5,472.55 L600.27,472.1 L601.05,471.65 L601.83,471.19 L602.61,470.73 L603.38,470.27 L604.16,469.81 L604.94,469.34 L605.72,468.87 L606.5,468.39 L607.27,467.91 L608.05,467.43 L608.83,466.95 L609.61,466.47 L610.38,465.98 L611.16,465.48 L611.94,464.99 L612.72,464.49 L613.5,463.99 L614.27,463.48 L615.05,462.98 L615.83,462.46 L616.61,461.95 L617.39,461.43 L618.16,460.91 L618.94,460.39 L619.72,459.87 L620.5,459.34 L621.27,458.81 L622.05,458.27 L622.83,457.74 L623.61,457.2 L624.39,456.65 L625.16,456.11 L625.94,455.55 L626.72,455 L627.5,454.43 L628.27,453.86 L629.05,453.29 L629.83,452.71 L630.61,452.12 L631.39,451.53 L632.16,450.93 L632.94,450.32 L633.72,449.71 L634.5,449.09 L635.28,448.47 L636.05,447.84 L636.83,447.21 L637.61,446.57 L638.39,445.93 L639.16,445.29 L639.94,444.63 L640.72,443.96 L641.5,443.28 L642.28,442.58 L643.05,441.86 L643.83,441.11 L644.61,440.34 L645.39,439.53 L646.16,438.68 L646.94,437.8 L647.72,436.86 L648.5,435.87 L649.28,434.81 L650.05,433.7 L650.83,432.51 L651.61,431.26 L652.39,429.94 L653.17,428.55 L653.94,427.09 L654.72,425.55 L655.5,423.93 L656.28,422.23 L657.05,420.44 L657.83,418.57 L658.61,416.61 L659.39,414.58 L660.17,412.49 L660.94,410.34 L661.72,408.16 L662.5,405.97 L663.28,403.78 L664.05,401.6 L664.83,399.47 L665.61,397.38 L666.39,395.34 L667.17,393.38 L667.94,391.48 L668.72,389.67 L669.5,387.95 L670.28,386.33 L671.06,384.82 L671.83,383.44 L672.61,382.18 L673.39,381.05 L674.17,380.08 L674.94,379.25 L675.72,378.57 L676.5,378.04" fill="none" stroke="#25578a" stroke-width="1.3" stroke-linejoin="round" stroke-linecap="round" />
<path d="M580,484.1 L580.61,483.73 L581.21,483.36 L581.82,482.98 L582.43,482.6 L583.03,482.21 L583.64,481.82 L584.25,481.43 L584.86,481.04 L585.46,480.65 L586.07,480.27 L586.68,479.88 L587.28,479.5 L587.89,479.12 L588.5,478.75 L589.1,478.38 L589.71,478.02 L590.32,477.66 L590.92,477.31 L591.53,476.96 L592.14,476.62 L592.75,476.28 L593.35,475.95 L593.96,475.62 L594.57,475.29 L595.17,474.96 L595.78,474.63 L596.39,474.29 L596.99,473.96 L597.6,473.62 L598.21,473.28 L598.81,472.94 L599.42,472.59 L600.03,472.24 L600.64,471.89 L601.24,471.54 L601.85,471.18 L602.46,470.82 L603.06,470.46 L603.67,470.1 L604.28,469.74 L604.88,469.37 L605.49,469 L606.1,468.63 L606.7,468.26 L607.31,467.89 L607.92,467.52 L608.53,467.14 L609.13,466.76 L609.74,466.38 L610.35,466 L610.95,465.62 L611.56,465.23 L612.17,464.84 L612.77,464.46 L613.38,464.06 L613.99,463.67 L614.59,463.28 L615.2,462.88 L615.81,462.48 L616.42,462.08 L617.02,461.67 L617.63,461.27 L618.24,460.86 L618.84,460.46 L619.45,460.05 L620.06,459.64 L620.66,459.22 L621.27,458.81 L621.88,458.39 L622.48,457.98 L623.09,457.56 L623.7,457.13 L624.31,456.71 L624.91,456.28 L625.52,455.85 L626.13,455.42 L626.73,454.99 L627.34,454.55 L627.95,454.11 L628.55,453.66 L629.16,453.21 L629.77,452.76 L630.37,452.3 L630.98,451.84 L631.59,451.38 L632.19,450.91 L632.8,450.43 L633.41,449.96 L634.02,449.48 L634.62,448.99 L635.23,448.51 L635.84,448.02 L636.44,447.53 L637.05,447.03 L637.66,446.53 L638.26,446.04 L638.87,445.53 L639.48,445.02 L640.08,444.51 L640.69,443.99 L641.3,443.46 L641.91,442.92 L642.51,442.36 L643.12,441.8 L643.73,441.21 L644.33,440.61 L644.94,440 L645.55,439.36 L646.15,438.7 L646.76,438.01 L647.37,437.29 L647.97,436.54 L648.58,435.76 L649.19,434.93 L649.8,434.07 L650.4,433.17 L651.01,432.23 L651.62,431.25 L652.22,430.22 L652.83,429.16 L653.44,428.05 L654.04,426.89 L654.65,425.69 L655.26,424.44 L655.86,423.14 L656.47,421.79 L657.08,420.39 L657.69,418.93 L658.29,417.42 L658.9,415.86 L659.51,414.27 L660.11,412.63 L660.72,410.96 L661.33,409.27 L661.93,407.56 L662.54,405.85 L663.15,404.14 L663.75,402.44 L664.36,400.76 L664.97,399.1 L665.58,397.47 L666.18,395.87 L666.79,394.32 L667.4,392.81 L668,391.34 L668.61,389.93 L669.22,388.57 L669.82,387.26 L670.43,386.03 L671.04,384.86 L671.64,383.76 L672.25,382.74 L672.86,381.8 L673.47,380.95 L674.07,380.19 L674.68,379.52 L675.29,378.93 L675.89,378.44 L676.5,378.04" fill="none" stroke="#25578a" stroke-width="4.4" stroke-linejoin="round" stroke-linecap="round" />
<circle cx="491.23" cy="499.36" r="1.8" fill="#fff" fill-opacity="0.55" stroke="#25578a" stroke-width="1.1"/>
<circle cx="516.45" cy="498.18" r="1.8" fill="#fff" fill-opacity="0.55" stroke="#25578a" stroke-width="1.1"/>
<circle cx="531.21" cy="496.84" r="1.8" fill="#fff" fill-opacity="0.55" stroke="#25578a" stroke-width="1.1"/>
<circle cx="541.68" cy="495.44" r="1.8" fill="#fff" fill-opacity="0.55" stroke="#25578a" stroke-width="1.1"/>
<circle cx="549.8" cy="494.47" r="1.8" fill="#fff" fill-opacity="0.55" stroke="#25578a" stroke-width="1.1"/>
<circle cx="556.44" cy="493.31" r="1.8" fill="#fff" fill-opacity="0.55" stroke="#25578a" stroke-width="1.1"/>
<circle cx="562.05" cy="491.81" r="1.8" fill="#fff" fill-opacity="0.55" stroke="#25578a" stroke-width="1.1"/>
<circle cx="566.91" cy="490.33" r="1.8" fill="#fff" fill-opacity="0.55" stroke="#25578a" stroke-width="1.1"/>
<circle cx="571.19" cy="488.71" r="1.8" fill="#fff" fill-opacity="0.55" stroke="#25578a" stroke-width="1.1"/>
<circle cx="575.03" cy="486.89" r="1.8" fill="#fff" fill-opacity="0.55" stroke="#25578a" stroke-width="1.1"/>
<circle cx="578.5" cy="484.99" r="1.8" fill="#fff" fill-opacity="0.55" stroke="#25578a" stroke-width="1.1"/>
<circle cx="581.66" cy="483.08" r="1.8" fill="#fff" fill-opacity="0.55" stroke="#25578a" stroke-width="1.1"/>
<circle cx="584.57" cy="481.22" r="1.8" fill="#fff" fill-opacity="0.55" stroke="#25578a" stroke-width="1.1"/>
<circle cx="587.27" cy="479.5" r="1.8" fill="#fff" fill-opacity="0.55" stroke="#25578a" stroke-width="1.1"/>
<circle cx="589.78" cy="477.97" r="1.8" fill="#fff" fill-opacity="0.55" stroke="#25578a" stroke-width="1.1"/>
<circle cx="592.13" cy="476.62" r="1.8" fill="#fff" fill-opacity="0.55" stroke="#25578a" stroke-width="1.1"/>
<circle cx="594.34" cy="475.41" r="1.8" fill="#fff" fill-opacity="0.55" stroke="#25578a" stroke-width="1.1"/>
<circle cx="596.42" cy="474.28" r="1.8" fill="#fff" fill-opacity="0.55" stroke="#25578a" stroke-width="1.1"/>
<circle cx="598.39" cy="473.18" r="1.8" fill="#fff" fill-opacity="0.55" stroke="#25578a" stroke-width="1.1"/>
<circle cx="600.25" cy="472.11" r="1.8" fill="#fff" fill-opacity="0.55" stroke="#25578a" stroke-width="1.1"/>
<circle cx="602.03" cy="471.08" r="1.8" fill="#fff" fill-opacity="0.55" stroke="#25578a" stroke-width="1.1"/>
<circle cx="603.72" cy="470.07" r="1.8" fill="#fff" fill-opacity="0.55" stroke="#25578a" stroke-width="1.1"/>
<circle cx="605.34" cy="469.1" r="1.8" fill="#fff" fill-opacity="0.55" stroke="#25578a" stroke-width="1.1"/>
<circle cx="606.89" cy="468.15" r="1.8" fill="#fff" fill-opacity="0.55" stroke="#25578a" stroke-width="1.1"/>
<circle cx="608.37" cy="467.23" r="1.8" fill="#fff" fill-opacity="0.55" stroke="#25578a" stroke-width="1.1"/>
<circle cx="609.8" cy="466.34" r="1.8" fill="#fff" fill-opacity="0.55" stroke="#25578a" stroke-width="1.1"/>
<circle cx="611.17" cy="465.48" r="1.8" fill="#fff" fill-opacity="0.55" stroke="#25578a" stroke-width="1.1"/>
<circle cx="612.5" cy="464.63" r="1.8" fill="#fff" fill-opacity="0.55" stroke="#25578a" stroke-width="1.1"/>
<circle cx="613.78" cy="463.81" r="1.8" fill="#fff" fill-opacity="0.55" stroke="#25578a" stroke-width="1.1"/>
<circle cx="615.01" cy="463" r="1.8" fill="#fff" fill-opacity="0.55" stroke="#25578a" stroke-width="1.1"/>
<circle cx="616.2" cy="462.22" r="1.8" fill="#fff" fill-opacity="0.55" stroke="#25578a" stroke-width="1.1"/>
<circle cx="617.36" cy="461.45" r="1.8" fill="#fff" fill-opacity="0.55" stroke="#25578a" stroke-width="1.1"/>
<circle cx="618.48" cy="460.7" r="1.8" fill="#fff" fill-opacity="0.55" stroke="#25578a" stroke-width="1.1"/>
<circle cx="619.56" cy="459.97" r="1.8" fill="#fff" fill-opacity="0.55" stroke="#25578a" stroke-width="1.1"/>
<circle cx="620.62" cy="459.25" r="1.8" fill="#fff" fill-opacity="0.55" stroke="#25578a" stroke-width="1.1"/>
<circle cx="621.64" cy="458.55" r="1.8" fill="#fff" fill-opacity="0.55" stroke="#25578a" stroke-width="1.1"/>
<circle cx="622.64" cy="457.87" r="1.8" fill="#fff" fill-opacity="0.55" stroke="#25578a" stroke-width="1.1"/>
<circle cx="623.61" cy="457.19" r="1.8" fill="#fff" fill-opacity="0.55" stroke="#25578a" stroke-width="1.1"/>
<circle cx="624.56" cy="456.53" r="1.8" fill="#fff" fill-opacity="0.55" stroke="#25578a" stroke-width="1.1"/>
<circle cx="625.48" cy="455.88" r="1.8" fill="#fff" fill-opacity="0.55" stroke="#25578a" stroke-width="1.1"/>
<circle cx="626.38" cy="455.24" r="1.8" fill="#fff" fill-opacity="0.55" stroke="#25578a" stroke-width="1.1"/>
<circle cx="627.25" cy="454.61" r="1.8" fill="#fff" fill-opacity="0.55" stroke="#25578a" stroke-width="1.1"/>
<circle cx="628.11" cy="453.98" r="1.8" fill="#fff" fill-opacity="0.55" stroke="#25578a" stroke-width="1.1"/>
<circle cx="628.95" cy="453.37" r="1.8" fill="#fff" fill-opacity="0.55" stroke="#25578a" stroke-width="1.1"/>
<circle cx="629.77" cy="452.76" r="1.8" fill="#fff" fill-opacity="0.55" stroke="#25578a" stroke-width="1.1"/>
<circle cx="630.57" cy="452.16" r="1.8" fill="#fff" fill-opacity="0.55" stroke="#25578a" stroke-width="1.1"/>
<circle cx="631.35" cy="451.56" r="1.8" fill="#fff" fill-opacity="0.55" stroke="#25578a" stroke-width="1.1"/>
<circle cx="632.11" cy="450.97" r="1.8" fill="#fff" fill-opacity="0.55" stroke="#25578a" stroke-width="1.1"/>
<circle cx="632.86" cy="450.38" r="1.8" fill="#fff" fill-opacity="0.55" stroke="#25578a" stroke-width="1.1"/>
<circle cx="633.6" cy="449.81" r="1.8" fill="#fff" fill-opacity="0.55" stroke="#25578a" stroke-width="1.1"/>
<circle cx="634.32" cy="449.23" r="1.8" fill="#fff" fill-opacity="0.55" stroke="#25578a" stroke-width="1.1"/>
<circle cx="635.03" cy="448.67" r="1.8" fill="#fff" fill-opacity="0.55" stroke="#25578a" stroke-width="1.1"/>
<circle cx="635.72" cy="448.11" r="1.8" fill="#fff" fill-opacity="0.55" stroke="#25578a" stroke-width="1.1"/>
<circle cx="636.4" cy="447.56" r="1.8" fill="#fff" fill-opacity="0.55" stroke="#25578a" stroke-width="1.1"/>
<circle cx="637.07" cy="447.02" r="1.8" fill="#fff" fill-opacity="0.55" stroke="#25578a" stroke-width="1.1"/>
<circle cx="637.72" cy="446.48" r="1.8" fill="#fff" fill-opacity="0.55" stroke="#25578a" stroke-width="1.1"/>
<circle cx="638.37" cy="445.95" r="1.8" fill="#fff" fill-opacity="0.55" stroke="#25578a" stroke-width="1.1"/>
<circle cx="639" cy="445.42" r="1.8" fill="#fff" fill-opacity="0.55" stroke="#25578a" stroke-width="1.1"/>
<circle cx="639.62" cy="444.9" r="1.8" fill="#fff" fill-opacity="0.55" stroke="#25578a" stroke-width="1.1"/>
<circle cx="640.24" cy="444.38" r="1.8" fill="#fff" fill-opacity="0.55" stroke="#25578a" stroke-width="1.1"/>
<circle cx="640.84" cy="443.86" r="1.8" fill="#fff" fill-opacity="0.55" stroke="#25578a" stroke-width="1.1"/>
<circle cx="641.43" cy="443.34" r="1.8" fill="#fff" fill-opacity="0.55" stroke="#25578a" stroke-width="1.1"/>
<circle cx="642.01" cy="442.82" r="1.8" fill="#fff" fill-opacity="0.55" stroke="#25578a" stroke-width="1.1"/>
<circle cx="642.58" cy="442.3" r="1.8" fill="#fff" fill-opacity="0.55" stroke="#25578a" stroke-width="1.1"/>
<circle cx="643.15" cy="441.77" r="1.8" fill="#fff" fill-opacity="0.55" stroke="#25578a" stroke-width="1.1"/>
<circle cx="643.7" cy="441.24" r="1.8" fill="#fff" fill-opacity="0.55" stroke="#25578a" stroke-width="1.1"/>
<circle cx="644.25" cy="440.7" r="1.8" fill="#fff" fill-opacity="0.55" stroke="#25578a" stroke-width="1.1"/>
<circle cx="644.79" cy="440.15" r="1.8" fill="#fff" fill-opacity="0.55" stroke="#25578a" stroke-width="1.1"/>
<circle cx="645.32" cy="439.6" r="1.8" fill="#fff" fill-opacity="0.55" stroke="#25578a" stroke-width="1.1"/>
<circle cx="645.85" cy="439.04" r="1.8" fill="#fff" fill-opacity="0.55" stroke="#25578a" stroke-width="1.1"/>
<circle cx="646.36" cy="438.46" r="1.8" fill="#fff" fill-opacity="0.55" stroke="#25578a" stroke-width="1.1"/>
<circle cx="646.87" cy="437.88" r="1.8" fill="#fff" fill-opacity="0.55" stroke="#25578a" stroke-width="1.1"/>
<circle cx="647.37" cy="437.28" r="1.8" fill="#fff" fill-opacity="0.55" stroke="#25578a" stroke-width="1.1"/>
<circle cx="647.87" cy="436.67" r="1.8" fill="#fff" fill-opacity="0.55" stroke="#25578a" stroke-width="1.1"/>
<circle cx="648.36" cy="436.05" r="1.8" fill="#fff" fill-opacity="0.55" stroke="#25578a" stroke-width="1.1"/>
<circle cx="648.84" cy="435.41" r="1.8" fill="#fff" fill-opacity="0.55" stroke="#25578a" stroke-width="1.1"/>
<circle cx="649.31" cy="434.76" r="1.8" fill="#fff" fill-opacity="0.55" stroke="#25578a" stroke-width="1.1"/>
<circle cx="649.78" cy="434.09" r="1.8" fill="#fff" fill-opacity="0.55" stroke="#25578a" stroke-width="1.1"/>
<circle cx="650.25" cy="433.41" r="1.8" fill="#fff" fill-opacity="0.55" stroke="#25578a" stroke-width="1.1"/>
<circle cx="650.71" cy="432.71" r="1.8" fill="#fff" fill-opacity="0.55" stroke="#25578a" stroke-width="1.1"/>
<circle cx="651.16" cy="432" r="1.8" fill="#fff" fill-opacity="0.55" stroke="#25578a" stroke-width="1.1"/>
<circle cx="651.6" cy="431.27" r="1.8" fill="#fff" fill-opacity="0.55" stroke="#25578a" stroke-width="1.1"/>
<circle cx="652.05" cy="430.53" r="1.8" fill="#fff" fill-opacity="0.55" stroke="#25578a" stroke-width="1.1"/>
<circle cx="652.48" cy="429.78" r="1.8" fill="#fff" fill-opacity="0.55" stroke="#25578a" stroke-width="1.1"/>
<circle cx="652.91" cy="429.01" r="1.8" fill="#fff" fill-opacity="0.55" stroke="#25578a" stroke-width="1.1"/>
<circle cx="653.34" cy="428.23" r="1.8" fill="#fff" fill-opacity="0.55" stroke="#25578a" stroke-width="1.1"/>
<circle cx="653.76" cy="427.44" r="1.8" fill="#fff" fill-opacity="0.55" stroke="#25578a" stroke-width="1.1"/>
<circle cx="654.17" cy="426.64" r="1.8" fill="#fff" fill-opacity="0.55" stroke="#25578a" stroke-width="1.1"/>
<circle cx="654.59" cy="425.82" r="1.8" fill="#fff" fill-opacity="0.55" stroke="#25578a" stroke-width="1.1"/>
<circle cx="654.99" cy="424.99" r="1.8" fill="#fff" fill-opacity="0.55" stroke="#25578a" stroke-width="1.1"/>
<circle cx="655.39" cy="424.15" r="1.8" fill="#fff" fill-opacity="0.55" stroke="#25578a" stroke-width="1.1"/>
<circle cx="655.79" cy="423.3" r="1.8" fill="#fff" fill-opacity="0.55" stroke="#25578a" stroke-width="1.1"/>
<circle cx="656.19" cy="422.43" r="1.8" fill="#fff" fill-opacity="0.55" stroke="#25578a" stroke-width="1.1"/>
<circle cx="656.57" cy="421.56" r="1.8" fill="#fff" fill-opacity="0.55" stroke="#25578a" stroke-width="1.1"/>
<circle cx="656.96" cy="420.66" r="1.8" fill="#fff" fill-opacity="0.55" stroke="#25578a" stroke-width="1.1"/>
<circle cx="657.34" cy="419.76" r="1.8" fill="#fff" fill-opacity="0.55" stroke="#25578a" stroke-width="1.1"/>
<circle cx="657.72" cy="418.85" r="1.8" fill="#fff" fill-opacity="0.55" stroke="#25578a" stroke-width="1.1"/>
<circle cx="658.09" cy="417.93" r="1.8" fill="#fff" fill-opacity="0.55" stroke="#25578a" stroke-width="1.1"/>
<circle cx="658.46" cy="416.99" r="1.8" fill="#fff" fill-opacity="0.55" stroke="#25578a" stroke-width="1.1"/>
<circle cx="658.83" cy="416.06" r="1.8" fill="#fff" fill-opacity="0.55" stroke="#25578a" stroke-width="1.1"/>
<circle cx="659.19" cy="415.11" r="1.8" fill="#fff" fill-opacity="0.55" stroke="#25578a" stroke-width="1.1"/>
<circle cx="659.55" cy="414.16" r="1.8" fill="#fff" fill-opacity="0.55" stroke="#25578a" stroke-width="1.1"/>
<circle cx="659.9" cy="413.2" r="1.8" fill="#fff" fill-opacity="0.55" stroke="#25578a" stroke-width="1.1"/>
<circle cx="660.25" cy="412.25" r="1.8" fill="#fff" fill-opacity="0.55" stroke="#25578a" stroke-width="1.1"/>
<circle cx="660.6" cy="411.29" r="1.8" fill="#fff" fill-opacity="0.55" stroke="#25578a" stroke-width="1.1"/>
<circle cx="660.95" cy="410.33" r="1.8" fill="#fff" fill-opacity="0.55" stroke="#25578a" stroke-width="1.1"/>
<circle cx="661.29" cy="409.38" r="1.8" fill="#fff" fill-opacity="0.55" stroke="#25578a" stroke-width="1.1"/>
<circle cx="661.63" cy="408.43" r="1.8" fill="#fff" fill-opacity="0.55" stroke="#25578a" stroke-width="1.1"/>
<circle cx="661.96" cy="407.48" r="1.8" fill="#fff" fill-opacity="0.55" stroke="#25578a" stroke-width="1.1"/>
<circle cx="662.3" cy="406.55" r="1.8" fill="#fff" fill-opacity="0.55" stroke="#25578a" stroke-width="1.1"/>
<circle cx="662.62" cy="405.62" r="1.8" fill="#fff" fill-opacity="0.55" stroke="#25578a" stroke-width="1.1"/>
<circle cx="662.95" cy="404.69" r="1.8" fill="#fff" fill-opacity="0.55" stroke="#25578a" stroke-width="1.1"/>
<circle cx="663.27" cy="403.78" r="1.8" fill="#fff" fill-opacity="0.55" stroke="#25578a" stroke-width="1.1"/>
<circle cx="663.59" cy="402.88" r="1.8" fill="#fff" fill-opacity="0.55" stroke="#25578a" stroke-width="1.1"/>
<circle cx="663.91" cy="402" r="1.8" fill="#fff" fill-opacity="0.55" stroke="#25578a" stroke-width="1.1"/>
<circle cx="664.23" cy="401.12" r="1.8" fill="#fff" fill-opacity="0.55" stroke="#25578a" stroke-width="1.1"/>
<circle cx="664.54" cy="400.26" r="1.8" fill="#fff" fill-opacity="0.55" stroke="#25578a" stroke-width="1.1"/>
<circle cx="664.85" cy="399.42" r="1.8" fill="#fff" fill-opacity="0.55" stroke="#25578a" stroke-width="1.1"/>
<circle cx="665.16" cy="398.59" r="1.8" fill="#fff" fill-opacity="0.55" stroke="#25578a" stroke-width="1.1"/>
<circle cx="665.46" cy="397.77" r="1.8" fill="#fff" fill-opacity="0.55" stroke="#25578a" stroke-width="1.1"/>
<circle cx="665.76" cy="396.97" r="1.8" fill="#fff" fill-opacity="0.55" stroke="#25578a" stroke-width="1.1"/>
<circle cx="666.06" cy="396.18" r="1.8" fill="#fff" fill-opacity="0.55" stroke="#25578a" stroke-width="1.1"/>
<circle cx="666.36" cy="395.41" r="1.8" fill="#fff" fill-opacity="0.55" stroke="#25578a" stroke-width="1.1"/>
<circle cx="666.66" cy="394.66" r="1.8" fill="#fff" fill-opacity="0.55" stroke="#25578a" stroke-width="1.1"/>
<circle cx="666.95" cy="393.92" r="1.8" fill="#fff" fill-opacity="0.55" stroke="#25578a" stroke-width="1.1"/>
<circle cx="667.24" cy="393.2" r="1.8" fill="#fff" fill-opacity="0.55" stroke="#25578a" stroke-width="1.1"/>
<circle cx="667.53" cy="392.49" r="1.8" fill="#fff" fill-opacity="0.55" stroke="#25578a" stroke-width="1.1"/>
<circle cx="667.81" cy="391.8" r="1.8" fill="#fff" fill-opacity="0.55" stroke="#25578a" stroke-width="1.1"/>
<circle cx="668.09" cy="391.13" r="1.8" fill="#fff" fill-opacity="0.55" stroke="#25578a" stroke-width="1.1"/>
<circle cx="668.37" cy="390.47" r="1.8" fill="#fff" fill-opacity="0.55" stroke="#25578a" stroke-width="1.1"/>
<circle cx="668.65" cy="389.83" r="1.8" fill="#fff" fill-opacity="0.55" stroke="#25578a" stroke-width="1.1"/>
<circle cx="668.93" cy="389.2" r="1.8" fill="#fff" fill-opacity="0.55" stroke="#25578a" stroke-width="1.1"/>
<circle cx="669.21" cy="388.59" r="1.8" fill="#fff" fill-opacity="0.55" stroke="#25578a" stroke-width="1.1"/>
<circle cx="669.48" cy="388" r="1.8" fill="#fff" fill-opacity="0.55" stroke="#25578a" stroke-width="1.1"/>
<circle cx="669.75" cy="387.42" r="1.8" fill="#fff" fill-opacity="0.55" stroke="#25578a" stroke-width="1.1"/>
<circle cx="670.02" cy="386.86" r="1.8" fill="#fff" fill-opacity="0.55" stroke="#25578a" stroke-width="1.1"/>
<circle cx="670.28" cy="386.32" r="1.8" fill="#fff" fill-opacity="0.55" stroke="#25578a" stroke-width="1.1"/>
<circle cx="670.55" cy="385.79" r="1.8" fill="#fff" fill-opacity="0.55" stroke="#25578a" stroke-width="1.1"/>
<circle cx="670.81" cy="385.29" r="1.8" fill="#fff" fill-opacity="0.55" stroke="#25578a" stroke-width="1.1"/>
<circle cx="671.07" cy="384.79" r="1.8" fill="#fff" fill-opacity="0.55" stroke="#25578a" stroke-width="1.1"/>
<circle cx="671.33" cy="384.32" r="1.8" fill="#fff" fill-opacity="0.55" stroke="#25578a" stroke-width="1.1"/>
<circle cx="671.59" cy="383.86" r="1.8" fill="#fff" fill-opacity="0.55" stroke="#25578a" stroke-width="1.1"/>
<circle cx="671.84" cy="383.42" r="1.8" fill="#fff" fill-opacity="0.55" stroke="#25578a" stroke-width="1.1"/>
<circle cx="672.1" cy="382.99" r="1.8" fill="#fff" fill-opacity="0.55" stroke="#25578a" stroke-width="1.1"/>
<circle cx="672.35" cy="382.59" r="1.8" fill="#fff" fill-opacity="0.55" stroke="#25578a" stroke-width="1.1"/>
<circle cx="672.6" cy="382.19" r="1.8" fill="#fff" fill-opacity="0.55" stroke="#25578a" stroke-width="1.1"/>
<circle cx="672.85" cy="381.82" r="1.8" fill="#fff" fill-opacity="0.55" stroke="#25578a" stroke-width="1.1"/>
<circle cx="673.09" cy="381.46" r="1.8" fill="#fff" fill-opacity="0.55" stroke="#25578a" stroke-width="1.1"/>
<circle cx="673.34" cy="381.12" r="1.8" fill="#fff" fill-opacity="0.55" stroke="#25578a" stroke-width="1.1"/>
<circle cx="673.58" cy="380.8" r="1.8" fill="#fff" fill-opacity="0.55" stroke="#25578a" stroke-width="1.1"/>
<circle cx="673.82" cy="380.49" r="1.8" fill="#fff" fill-opacity="0.55" stroke="#25578a" stroke-width="1.1"/>
<circle cx="674.06" cy="380.2" r="1.8" fill="#fff" fill-opacity="0.55" stroke="#25578a" stroke-width="1.1"/>
<circle cx="674.3" cy="379.92" r="1.8" fill="#fff" fill-opacity="0.55" stroke="#25578a" stroke-width="1.1"/>
<circle cx="674.54" cy="379.66" r="1.8" fill="#fff" fill-opacity="0.55" stroke="#25578a" stroke-width="1.1"/>
<circle cx="674.78" cy="379.42" r="1.8" fill="#fff" fill-opacity="0.55" stroke="#25578a" stroke-width="1.1"/>
<circle cx="675.01" cy="379.19" r="1.8" fill="#fff" fill-opacity="0.55" stroke="#25578a" stroke-width="1.1"/>
<circle cx="675.24" cy="378.97" r="1.8" fill="#fff" fill-opacity="0.55" stroke="#25578a" stroke-width="1.1"/>
<circle cx="675.47" cy="378.77" r="1.8" fill="#fff" fill-opacity="0.55" stroke="#25578a" stroke-width="1.1"/>
<circle cx="675.7" cy="378.59" r="1.8" fill="#fff" fill-opacity="0.55" stroke="#25578a" stroke-width="1.1"/>
<circle cx="675.93" cy="378.41" r="1.8" fill="#fff" fill-opacity="0.55" stroke="#25578a" stroke-width="1.1"/>
<circle cx="676.16" cy="378.25" r="1.8" fill="#fff" fill-opacity="0.55" stroke="#25578a" stroke-width="1.1"/>
<path d="M490.6,496.98 L491.38,496.93 L492.16,496.87 L492.93,496.8 L493.71,496.73 L494.49,496.65 L495.27,496.57 L496.04,496.49 L496.82,496.41 L497.6,496.32 L498.38,496.24 L499.16,496.15 L499.93,496.06 L500.71,495.97 L501.49,495.88 L502.27,495.79 L503.05,495.7 L503.82,495.6 L504.6,495.51 L505.38,495.41 L506.16,495.32 L506.93,495.22 L507.71,495.12 L508.49,495.02 L509.27,494.92 L510.05,494.82 L510.82,494.72 L511.6,494.62 L512.38,494.51 L513.16,494.41 L513.93,494.3 L514.71,494.2 L515.49,494.09 L516.27,493.98 L517.05,493.88 L517.82,493.76 L518.6,493.65 L519.38,493.54 L520.16,493.42 L520.94,493.3 L521.71,493.18 L522.49,493.06 L523.27,492.94 L524.05,492.81 L524.82,492.69 L525.6,492.56 L526.38,492.43 L527.16,492.31 L527.94,492.18 L528.71,492.05 L529.49,491.92 L530.27,491.79 L531.05,491.66 L531.82,491.53 L532.6,491.4 L533.38,491.28 L534.16,491.15 L534.94,491.02 L535.71,490.88 L536.49,490.75 L537.27,490.61 L538.05,490.46 L538.83,490.32 L539.6,490.16 L540.38,489.99 L541.16,489.82 L541.94,489.64 L542.71,489.45 L543.49,489.24 L544.27,489.04 L545.05,488.82 L545.83,488.6 L546.6,488.38 L547.38,488.17 L548.16,487.95 L548.94,487.73 L549.71,487.52 L550.49,487.31 L551.27,487.11 L552.05,486.9 L552.83,486.7 L553.6,486.5 L554.38,486.3 L555.16,486.1 L555.94,485.9 L556.72,485.7 L557.49,485.5 L558.27,485.3 L559.05,485.1 L559.83,484.89 L560.6,484.68 L561.38,484.46 L562.16,484.23 L562.94,483.98 L563.72,483.74 L564.49,483.48 L565.27,483.22 L566.05,482.96 L566.83,482.69 L567.6,482.42 L568.38,482.15 L569.16,481.87 L569.94,481.58 L570.72,481.29 L571.49,480.98 L572.27,480.65 L573.05,480.31 L573.83,479.96 L574.61,479.6 L575.38,479.22 L576.16,478.83 L576.94,478.43 L577.72,478.03 L578.49,477.61 L579.27,477.19 L580.05,476.77 L580.83,476.33 L581.61,475.89 L582.38,475.44 L583.16,474.98 L583.94,474.53 L584.72,474.06 L585.49,473.6 L586.27,473.13 L587.05,472.67 L587.83,472.2 L588.61,471.73 L589.38,471.27 L590.16,470.8 L590.94,470.33 L591.72,469.87 L592.49,469.4 L593.27,468.93 L594.05,468.46 L594.83,468 L595.61,467.53 L596.38,467.08 L597.16,466.63 L597.94,466.18 L598.72,465.75 L599.5,465.32 L600.27,464.9 L601.05,464.49 L601.83,464.09 L602.61,463.69 L603.38,463.29 L604.16,462.9 L604.94,462.52 L605.72,462.13 L606.5,461.74 L607.27,461.36 L608.05,460.98 L608.83,460.6 L609.61,460.22 L610.38,459.84 L611.16,459.46 L611.94,459.08 L612.72,458.7 L613.5,458.32 L614.27,457.93 L615.05,457.54 L615.83,457.14 L616.61,456.73 L617.39,456.31 L618.16,455.89 L618.94,455.45 L619.72,455 L620.5,454.55 L621.27,454.09 L622.05,453.62 L622.83,453.14 L623.61,452.66 L624.39,452.17 L625.16,451.68 L625.94,451.18 L626.72,450.67 L627.5,450.16 L628.27,449.65 L629.05,449.13 L629.83,448.6 L630.61,448.06 L631.39,447.51 L632.16,446.96 L632.94,446.39 L633.72,445.82 L634.5,445.23 L635.28,444.63 L636.05,444.02 L636.83,443.4 L637.61,442.76 L638.39,442.11 L639.16,441.44 L639.94,440.76 L640.72,440.05 L641.5,439.32 L642.28,438.57 L643.05,437.79 L643.83,436.97 L644.61,436.12 L645.39,435.22 L646.16,434.28 L646.94,433.28 L647.72,432.22 L648.5,431.1 L649.28,429.9 L650.05,428.63 L650.83,427.27 L651.61,425.82 L652.39,424.29 L653.17,422.68 L653.94,421 L654.72,419.25 L655.5,417.44 L656.28,415.56 L657.05,413.62 L657.83,411.63 L658.61,409.6 L659.39,407.54 L660.17,405.46 L660.94,403.38 L661.72,401.33 L662.5,399.31 L663.28,397.35 L664.05,395.44 L664.83,393.6 L665.61,391.83 L666.39,390.14 L667.17,388.55 L667.94,387.05 L668.72,385.67 L669.5,384.4 L670.28,383.25 L671.06,382.19 L671.83,381.24 L672.61,380.38 L673.39,379.6 L674.17,378.9 L674.94,378.29 L675.72,377.78 L676.5,377.36" fill="none" stroke="#a00c14" stroke-width="1.3" stroke-linejoin="round" stroke-linecap="round" />
<path d="M580,476.79 L580.61,476.45 L581.21,476.11 L581.82,475.76 L582.43,475.41 L583.03,475.06 L583.64,474.7 L584.25,474.34 L584.86,473.98 L585.46,473.62 L586.07,473.26 L586.68,472.89 L587.28,472.53 L587.89,472.16 L588.5,471.8 L589.1,471.44 L589.71,471.07 L590.32,470.71 L590.92,470.34 L591.53,469.98 L592.14,469.61 L592.75,469.25 L593.35,468.88 L593.96,468.52 L594.57,468.15 L595.17,467.79 L595.78,467.43 L596.39,467.08 L596.99,466.72 L597.6,466.38 L598.21,466.03 L598.81,465.7 L599.42,465.36 L600.03,465.03 L600.64,464.71 L601.24,464.39 L601.85,464.08 L602.46,463.76 L603.06,463.46 L603.67,463.15 L604.28,462.85 L604.88,462.54 L605.49,462.24 L606.1,461.94 L606.7,461.64 L607.31,461.34 L607.92,461.04 L608.53,460.75 L609.13,460.45 L609.74,460.15 L610.35,459.86 L610.95,459.56 L611.56,459.27 L612.17,458.97 L612.77,458.68 L613.38,458.38 L613.99,458.08 L614.59,457.77 L615.2,457.46 L615.81,457.15 L616.42,456.83 L617.02,456.51 L617.63,456.18 L618.24,455.85 L618.84,455.51 L619.45,455.16 L620.06,454.81 L620.66,454.45 L621.27,454.09 L621.88,453.73 L622.48,453.36 L623.09,452.98 L623.7,452.6 L624.31,452.22 L624.91,451.84 L625.52,451.45 L626.13,451.06 L626.73,450.66 L627.34,450.27 L627.95,449.87 L628.55,449.46 L629.16,449.05 L629.77,448.64 L630.37,448.22 L630.98,447.8 L631.59,447.37 L632.19,446.94 L632.8,446.5 L633.41,446.05 L634.02,445.6 L634.62,445.13 L635.23,444.67 L635.84,444.19 L636.44,443.71 L637.05,443.22 L637.66,442.72 L638.26,442.21 L638.87,441.7 L639.48,441.17 L640.08,440.63 L640.69,440.08 L641.3,439.51 L641.91,438.93 L642.51,438.34 L643.12,437.72 L643.73,437.08 L644.33,436.42 L644.94,435.74 L645.55,435.03 L646.15,434.29 L646.76,433.52 L647.37,432.71 L647.97,431.86 L648.58,430.98 L649.19,430.04 L649.8,429.06 L650.4,428.03 L651.01,426.94 L651.62,425.81 L652.22,424.62 L652.83,423.38 L653.44,422.1 L654.04,420.78 L654.65,419.41 L655.26,418 L655.86,416.56 L656.47,415.08 L657.08,413.56 L657.69,412.01 L658.29,410.44 L658.9,408.84 L659.51,407.22 L660.11,405.6 L660.72,403.98 L661.33,402.36 L661.93,400.77 L662.54,399.21 L663.15,397.67 L663.75,396.17 L664.36,394.71 L664.97,393.28 L665.58,391.91 L666.18,390.58 L666.79,389.31 L667.4,388.1 L668,386.95 L668.61,385.86 L669.22,384.85 L669.82,383.91 L670.43,383.03 L671.04,382.22 L671.64,381.46 L672.25,380.77 L672.86,380.12 L673.47,379.53 L674.07,378.98 L674.68,378.49 L675.29,378.06 L675.89,377.68 L676.5,377.36" fill="none" stroke="#a00c14" stroke-width="4.4" stroke-linejoin="round" stroke-linecap="round" />
<circle cx="491.23" cy="496.94" r="1.8" fill="#fff" fill-opacity="0.55" stroke="#a00c14" stroke-width="1.1"/>
<circle cx="516.45" cy="493.96" r="1.8" fill="#fff" fill-opacity="0.55" stroke="#a00c14" stroke-width="1.1"/>
<circle cx="531.21" cy="491.63" r="1.8" fill="#fff" fill-opacity="0.55" stroke="#a00c14" stroke-width="1.1"/>
<circle cx="541.68" cy="489.7" r="1.8" fill="#fff" fill-opacity="0.55" stroke="#a00c14" stroke-width="1.1"/>
<circle cx="549.8" cy="487.5" r="1.8" fill="#fff" fill-opacity="0.55" stroke="#a00c14" stroke-width="1.1"/>
<circle cx="556.44" cy="485.77" r="1.8" fill="#fff" fill-opacity="0.55" stroke="#a00c14" stroke-width="1.1"/>
<circle cx="562.05" cy="484.26" r="1.8" fill="#fff" fill-opacity="0.55" stroke="#a00c14" stroke-width="1.1"/>
<circle cx="566.91" cy="482.66" r="1.8" fill="#fff" fill-opacity="0.55" stroke="#a00c14" stroke-width="1.1"/>
<circle cx="571.19" cy="481.1" r="1.8" fill="#fff" fill-opacity="0.55" stroke="#a00c14" stroke-width="1.1"/>
<circle cx="575.03" cy="479.39" r="1.8" fill="#fff" fill-opacity="0.55" stroke="#a00c14" stroke-width="1.1"/>
<circle cx="578.5" cy="477.61" r="1.8" fill="#fff" fill-opacity="0.55" stroke="#a00c14" stroke-width="1.1"/>
<circle cx="581.66" cy="475.86" r="1.8" fill="#fff" fill-opacity="0.55" stroke="#a00c14" stroke-width="1.1"/>
<circle cx="584.57" cy="474.15" r="1.8" fill="#fff" fill-opacity="0.55" stroke="#a00c14" stroke-width="1.1"/>
<circle cx="587.27" cy="472.53" r="1.8" fill="#fff" fill-opacity="0.55" stroke="#a00c14" stroke-width="1.1"/>
<circle cx="589.78" cy="471.03" r="1.8" fill="#fff" fill-opacity="0.55" stroke="#a00c14" stroke-width="1.1"/>
<circle cx="592.13" cy="469.62" r="1.8" fill="#fff" fill-opacity="0.55" stroke="#a00c14" stroke-width="1.1"/>
<circle cx="594.34" cy="468.29" r="1.8" fill="#fff" fill-opacity="0.55" stroke="#a00c14" stroke-width="1.1"/>
<circle cx="596.42" cy="467.06" r="1.8" fill="#fff" fill-opacity="0.55" stroke="#a00c14" stroke-width="1.1"/>
<circle cx="598.39" cy="465.93" r="1.8" fill="#fff" fill-opacity="0.55" stroke="#a00c14" stroke-width="1.1"/>
<circle cx="600.25" cy="464.91" r="1.8" fill="#fff" fill-opacity="0.55" stroke="#a00c14" stroke-width="1.1"/>
<circle cx="602.03" cy="463.98" r="1.8" fill="#fff" fill-opacity="0.55" stroke="#a00c14" stroke-width="1.1"/>
<circle cx="603.72" cy="463.12" r="1.8" fill="#fff" fill-opacity="0.55" stroke="#a00c14" stroke-width="1.1"/>
<circle cx="605.34" cy="462.32" r="1.8" fill="#fff" fill-opacity="0.55" stroke="#a00c14" stroke-width="1.1"/>
<circle cx="606.89" cy="461.55" r="1.8" fill="#fff" fill-opacity="0.55" stroke="#a00c14" stroke-width="1.1"/>
<circle cx="608.37" cy="460.82" r="1.8" fill="#fff" fill-opacity="0.55" stroke="#a00c14" stroke-width="1.1"/>
<circle cx="609.8" cy="460.12" r="1.8" fill="#fff" fill-opacity="0.55" stroke="#a00c14" stroke-width="1.1"/>
<circle cx="611.17" cy="459.46" r="1.8" fill="#fff" fill-opacity="0.55" stroke="#a00c14" stroke-width="1.1"/>
<circle cx="612.5" cy="458.81" r="1.8" fill="#fff" fill-opacity="0.55" stroke="#a00c14" stroke-width="1.1"/>
<circle cx="613.78" cy="458.18" r="1.8" fill="#fff" fill-opacity="0.55" stroke="#a00c14" stroke-width="1.1"/>
<circle cx="615.01" cy="457.56" r="1.8" fill="#fff" fill-opacity="0.55" stroke="#a00c14" stroke-width="1.1"/>
<circle cx="616.2" cy="456.94" r="1.8" fill="#fff" fill-opacity="0.55" stroke="#a00c14" stroke-width="1.1"/>
<circle cx="617.36" cy="456.33" r="1.8" fill="#fff" fill-opacity="0.55" stroke="#a00c14" stroke-width="1.1"/>
<circle cx="618.48" cy="455.71" r="1.8" fill="#fff" fill-opacity="0.55" stroke="#a00c14" stroke-width="1.1"/>
<circle cx="619.56" cy="455.09" r="1.8" fill="#fff" fill-opacity="0.55" stroke="#a00c14" stroke-width="1.1"/>
<circle cx="620.62" cy="454.48" r="1.8" fill="#fff" fill-opacity="0.55" stroke="#a00c14" stroke-width="1.1"/>
<circle cx="621.64" cy="453.87" r="1.8" fill="#fff" fill-opacity="0.55" stroke="#a00c14" stroke-width="1.1"/>
<circle cx="622.64" cy="453.26" r="1.8" fill="#fff" fill-opacity="0.55" stroke="#a00c14" stroke-width="1.1"/>
<circle cx="623.61" cy="452.66" r="1.8" fill="#fff" fill-opacity="0.55" stroke="#a00c14" stroke-width="1.1"/>
<circle cx="624.56" cy="452.06" r="1.8" fill="#fff" fill-opacity="0.55" stroke="#a00c14" stroke-width="1.1"/>
<circle cx="625.48" cy="451.48" r="1.8" fill="#fff" fill-opacity="0.55" stroke="#a00c14" stroke-width="1.1"/>
<circle cx="626.38" cy="450.9" r="1.8" fill="#fff" fill-opacity="0.55" stroke="#a00c14" stroke-width="1.1"/>
<circle cx="627.25" cy="450.32" r="1.8" fill="#fff" fill-opacity="0.55" stroke="#a00c14" stroke-width="1.1"/>
<circle cx="628.11" cy="449.76" r="1.8" fill="#fff" fill-opacity="0.55" stroke="#a00c14" stroke-width="1.1"/>
<circle cx="628.95" cy="449.2" r="1.8" fill="#fff" fill-opacity="0.55" stroke="#a00c14" stroke-width="1.1"/>
<circle cx="629.77" cy="448.64" r="1.8" fill="#fff" fill-opacity="0.55" stroke="#a00c14" stroke-width="1.1"/>
<circle cx="630.57" cy="448.09" r="1.8" fill="#fff" fill-opacity="0.55" stroke="#a00c14" stroke-width="1.1"/>
<circle cx="631.35" cy="447.54" r="1.8" fill="#fff" fill-opacity="0.55" stroke="#a00c14" stroke-width="1.1"/>
<circle cx="632.11" cy="447" r="1.8" fill="#fff" fill-opacity="0.55" stroke="#a00c14" stroke-width="1.1"/>
<circle cx="632.86" cy="446.45" r="1.8" fill="#fff" fill-opacity="0.55" stroke="#a00c14" stroke-width="1.1"/>
<circle cx="633.6" cy="445.91" r="1.8" fill="#fff" fill-opacity="0.55" stroke="#a00c14" stroke-width="1.1"/>
<circle cx="634.32" cy="445.36" r="1.8" fill="#fff" fill-opacity="0.55" stroke="#a00c14" stroke-width="1.1"/>
<circle cx="635.03" cy="444.82" r="1.8" fill="#fff" fill-opacity="0.55" stroke="#a00c14" stroke-width="1.1"/>
<circle cx="635.72" cy="444.28" r="1.8" fill="#fff" fill-opacity="0.55" stroke="#a00c14" stroke-width="1.1"/>
<circle cx="636.4" cy="443.74" r="1.8" fill="#fff" fill-opacity="0.55" stroke="#a00c14" stroke-width="1.1"/>
<circle cx="637.07" cy="443.2" r="1.8" fill="#fff" fill-opacity="0.55" stroke="#a00c14" stroke-width="1.1"/>
<circle cx="637.72" cy="442.66" r="1.8" fill="#fff" fill-opacity="0.55" stroke="#a00c14" stroke-width="1.1"/>
<circle cx="638.37" cy="442.12" r="1.8" fill="#fff" fill-opacity="0.55" stroke="#a00c14" stroke-width="1.1"/>
<circle cx="639" cy="441.58" r="1.8" fill="#fff" fill-opacity="0.55" stroke="#a00c14" stroke-width="1.1"/>
<circle cx="639.62" cy="441.04" r="1.8" fill="#fff" fill-opacity="0.55" stroke="#a00c14" stroke-width="1.1"/>
<circle cx="640.24" cy="440.49" r="1.8" fill="#fff" fill-opacity="0.55" stroke="#a00c14" stroke-width="1.1"/>
<circle cx="640.84" cy="439.94" r="1.8" fill="#fff" fill-opacity="0.55" stroke="#a00c14" stroke-width="1.1"/>
<circle cx="641.43" cy="439.39" r="1.8" fill="#fff" fill-opacity="0.55" stroke="#a00c14" stroke-width="1.1"/>
<circle cx="642.01" cy="438.83" r="1.8" fill="#fff" fill-opacity="0.55" stroke="#a00c14" stroke-width="1.1"/>
<circle cx="642.58" cy="438.26" r="1.8" fill="#fff" fill-opacity="0.55" stroke="#a00c14" stroke-width="1.1"/>
<circle cx="643.15" cy="437.69" r="1.8" fill="#fff" fill-opacity="0.55" stroke="#a00c14" stroke-width="1.1"/>
<circle cx="643.7" cy="437.11" r="1.8" fill="#fff" fill-opacity="0.55" stroke="#a00c14" stroke-width="1.1"/>
<circle cx="644.25" cy="436.51" r="1.8" fill="#fff" fill-opacity="0.55" stroke="#a00c14" stroke-width="1.1"/>
<circle cx="644.79" cy="435.91" r="1.8" fill="#fff" fill-opacity="0.55" stroke="#a00c14" stroke-width="1.1"/>
<circle cx="645.32" cy="435.3" r="1.8" fill="#fff" fill-opacity="0.55" stroke="#a00c14" stroke-width="1.1"/>
<circle cx="645.85" cy="434.67" r="1.8" fill="#fff" fill-opacity="0.55" stroke="#a00c14" stroke-width="1.1"/>
<circle cx="646.36" cy="434.03" r="1.8" fill="#fff" fill-opacity="0.55" stroke="#a00c14" stroke-width="1.1"/>
<circle cx="646.87" cy="433.37" r="1.8" fill="#fff" fill-opacity="0.55" stroke="#a00c14" stroke-width="1.1"/>
<circle cx="647.37" cy="432.7" r="1.8" fill="#fff" fill-opacity="0.55" stroke="#a00c14" stroke-width="1.1"/>
<circle cx="647.87" cy="432.02" r="1.8" fill="#fff" fill-opacity="0.55" stroke="#a00c14" stroke-width="1.1"/>
<circle cx="648.36" cy="431.31" r="1.8" fill="#fff" fill-opacity="0.55" stroke="#a00c14" stroke-width="1.1"/>
<circle cx="648.84" cy="430.59" r="1.8" fill="#fff" fill-opacity="0.55" stroke="#a00c14" stroke-width="1.1"/>
<circle cx="649.31" cy="429.84" r="1.8" fill="#fff" fill-opacity="0.55" stroke="#a00c14" stroke-width="1.1"/>
<circle cx="649.78" cy="429.08" r="1.8" fill="#fff" fill-opacity="0.55" stroke="#a00c14" stroke-width="1.1"/>
<circle cx="650.25" cy="428.3" r="1.8" fill="#fff" fill-opacity="0.55" stroke="#a00c14" stroke-width="1.1"/>
<circle cx="650.71" cy="427.49" r="1.8" fill="#fff" fill-opacity="0.55" stroke="#a00c14" stroke-width="1.1"/>
<circle cx="651.16" cy="426.67" r="1.8" fill="#fff" fill-opacity="0.55" stroke="#a00c14" stroke-width="1.1"/>
<circle cx="651.6" cy="425.83" r="1.8" fill="#fff" fill-opacity="0.55" stroke="#a00c14" stroke-width="1.1"/>
<circle cx="652.05" cy="424.97" r="1.8" fill="#fff" fill-opacity="0.55" stroke="#a00c14" stroke-width="1.1"/>
<circle cx="652.48" cy="424.1" r="1.8" fill="#fff" fill-opacity="0.55" stroke="#a00c14" stroke-width="1.1"/>
<circle cx="652.91" cy="423.22" r="1.8" fill="#fff" fill-opacity="0.55" stroke="#a00c14" stroke-width="1.1"/>
<circle cx="653.34" cy="422.32" r="1.8" fill="#fff" fill-opacity="0.55" stroke="#a00c14" stroke-width="1.1"/>
<circle cx="653.76" cy="421.41" r="1.8" fill="#fff" fill-opacity="0.55" stroke="#a00c14" stroke-width="1.1"/>
<circle cx="654.17" cy="420.49" r="1.8" fill="#fff" fill-opacity="0.55" stroke="#a00c14" stroke-width="1.1"/>
<circle cx="654.59" cy="419.56" r="1.8" fill="#fff" fill-opacity="0.55" stroke="#a00c14" stroke-width="1.1"/>
<circle cx="654.99" cy="418.63" r="1.8" fill="#fff" fill-opacity="0.55" stroke="#a00c14" stroke-width="1.1"/>
<circle cx="655.39" cy="417.68" r="1.8" fill="#fff" fill-opacity="0.55" stroke="#a00c14" stroke-width="1.1"/>
<circle cx="655.79" cy="416.74" r="1.8" fill="#fff" fill-opacity="0.55" stroke="#a00c14" stroke-width="1.1"/>
<circle cx="656.19" cy="415.78" r="1.8" fill="#fff" fill-opacity="0.55" stroke="#a00c14" stroke-width="1.1"/>
<circle cx="656.57" cy="414.82" r="1.8" fill="#fff" fill-opacity="0.55" stroke="#a00c14" stroke-width="1.1"/>
<circle cx="656.96" cy="413.86" r="1.8" fill="#fff" fill-opacity="0.55" stroke="#a00c14" stroke-width="1.1"/>
<circle cx="657.34" cy="412.9" r="1.8" fill="#fff" fill-opacity="0.55" stroke="#a00c14" stroke-width="1.1"/>
<circle cx="657.72" cy="411.93" r="1.8" fill="#fff" fill-opacity="0.55" stroke="#a00c14" stroke-width="1.1"/>
<circle cx="658.09" cy="410.96" r="1.8" fill="#fff" fill-opacity="0.55" stroke="#a00c14" stroke-width="1.1"/>
<circle cx="658.46" cy="409.99" r="1.8" fill="#fff" fill-opacity="0.55" stroke="#a00c14" stroke-width="1.1"/>
<circle cx="658.83" cy="409.03" r="1.8" fill="#fff" fill-opacity="0.55" stroke="#a00c14" stroke-width="1.1"/>
<circle cx="659.19" cy="408.07" r="1.8" fill="#fff" fill-opacity="0.55" stroke="#a00c14" stroke-width="1.1"/>
<circle cx="659.55" cy="407.11" r="1.8" fill="#fff" fill-opacity="0.55" stroke="#a00c14" stroke-width="1.1"/>
<circle cx="659.9" cy="406.16" r="1.8" fill="#fff" fill-opacity="0.55" stroke="#a00c14" stroke-width="1.1"/>
<circle cx="660.25" cy="405.22" r="1.8" fill="#fff" fill-opacity="0.55" stroke="#a00c14" stroke-width="1.1"/>
<circle cx="660.6" cy="404.29" r="1.8" fill="#fff" fill-opacity="0.55" stroke="#a00c14" stroke-width="1.1"/>
<circle cx="660.95" cy="403.37" r="1.8" fill="#fff" fill-opacity="0.55" stroke="#a00c14" stroke-width="1.1"/>
<circle cx="661.29" cy="402.47" r="1.8" fill="#fff" fill-opacity="0.55" stroke="#a00c14" stroke-width="1.1"/>
<circle cx="661.63" cy="401.57" r="1.8" fill="#fff" fill-opacity="0.55" stroke="#a00c14" stroke-width="1.1"/>
<circle cx="661.96" cy="400.7" r="1.8" fill="#fff" fill-opacity="0.55" stroke="#a00c14" stroke-width="1.1"/>
<circle cx="662.3" cy="399.84" r="1.8" fill="#fff" fill-opacity="0.55" stroke="#a00c14" stroke-width="1.1"/>
<circle cx="662.62" cy="398.99" r="1.8" fill="#fff" fill-opacity="0.55" stroke="#a00c14" stroke-width="1.1"/>
<circle cx="662.95" cy="398.16" r="1.8" fill="#fff" fill-opacity="0.55" stroke="#a00c14" stroke-width="1.1"/>
<circle cx="663.27" cy="397.35" r="1.8" fill="#fff" fill-opacity="0.55" stroke="#a00c14" stroke-width="1.1"/>
<circle cx="663.59" cy="396.56" r="1.8" fill="#fff" fill-opacity="0.55" stroke="#a00c14" stroke-width="1.1"/>
<circle cx="663.91" cy="395.78" r="1.8" fill="#fff" fill-opacity="0.55" stroke="#a00c14" stroke-width="1.1"/>
<circle cx="664.23" cy="395.02" r="1.8" fill="#fff" fill-opacity="0.55" stroke="#a00c14" stroke-width="1.1"/>
<circle cx="664.54" cy="394.28" r="1.8" fill="#fff" fill-opacity="0.55" stroke="#a00c14" stroke-width="1.1"/>
<circle cx="664.85" cy="393.56" r="1.8" fill="#fff" fill-opacity="0.55" stroke="#a00c14" stroke-width="1.1"/>
<circle cx="665.16" cy="392.85" r="1.8" fill="#fff" fill-opacity="0.55" stroke="#a00c14" stroke-width="1.1"/>
<circle cx="665.46" cy="392.16" r="1.8" fill="#fff" fill-opacity="0.55" stroke="#a00c14" stroke-width="1.1"/>
<circle cx="665.76" cy="391.49" r="1.8" fill="#fff" fill-opacity="0.55" stroke="#a00c14" stroke-width="1.1"/>
<circle cx="666.06" cy="390.84" r="1.8" fill="#fff" fill-opacity="0.55" stroke="#a00c14" stroke-width="1.1"/>
<circle cx="666.36" cy="390.2" r="1.8" fill="#fff" fill-opacity="0.55" stroke="#a00c14" stroke-width="1.1"/>
<circle cx="666.66" cy="389.59" r="1.8" fill="#fff" fill-opacity="0.55" stroke="#a00c14" stroke-width="1.1"/>
<circle cx="666.95" cy="388.99" r="1.8" fill="#fff" fill-opacity="0.55" stroke="#a00c14" stroke-width="1.1"/>
<circle cx="667.24" cy="388.41" r="1.8" fill="#fff" fill-opacity="0.55" stroke="#a00c14" stroke-width="1.1"/>
<circle cx="667.53" cy="387.85" r="1.8" fill="#fff" fill-opacity="0.55" stroke="#a00c14" stroke-width="1.1"/>
<circle cx="667.81" cy="387.3" r="1.8" fill="#fff" fill-opacity="0.55" stroke="#a00c14" stroke-width="1.1"/>
<circle cx="668.09" cy="386.78" r="1.8" fill="#fff" fill-opacity="0.55" stroke="#a00c14" stroke-width="1.1"/>
<circle cx="668.37" cy="386.28" r="1.8" fill="#fff" fill-opacity="0.55" stroke="#a00c14" stroke-width="1.1"/>
<circle cx="668.65" cy="385.79" r="1.8" fill="#fff" fill-opacity="0.55" stroke="#a00c14" stroke-width="1.1"/>
<circle cx="668.93" cy="385.32" r="1.8" fill="#fff" fill-opacity="0.55" stroke="#a00c14" stroke-width="1.1"/>
<circle cx="669.21" cy="384.87" r="1.8" fill="#fff" fill-opacity="0.55" stroke="#a00c14" stroke-width="1.1"/>
<circle cx="669.48" cy="384.44" r="1.8" fill="#fff" fill-opacity="0.55" stroke="#a00c14" stroke-width="1.1"/>
<circle cx="669.75" cy="384.02" r="1.8" fill="#fff" fill-opacity="0.55" stroke="#a00c14" stroke-width="1.1"/>
<circle cx="670.02" cy="383.62" r="1.8" fill="#fff" fill-opacity="0.55" stroke="#a00c14" stroke-width="1.1"/>
<circle cx="670.28" cy="383.24" r="1.8" fill="#fff" fill-opacity="0.55" stroke="#a00c14" stroke-width="1.1"/>
<circle cx="670.55" cy="382.87" r="1.8" fill="#fff" fill-opacity="0.55" stroke="#a00c14" stroke-width="1.1"/>
<circle cx="670.81" cy="382.51" r="1.8" fill="#fff" fill-opacity="0.55" stroke="#a00c14" stroke-width="1.1"/>
<circle cx="671.07" cy="382.17" r="1.8" fill="#fff" fill-opacity="0.55" stroke="#a00c14" stroke-width="1.1"/>
<circle cx="671.33" cy="381.85" r="1.8" fill="#fff" fill-opacity="0.55" stroke="#a00c14" stroke-width="1.1"/>
<circle cx="671.59" cy="381.53" r="1.8" fill="#fff" fill-opacity="0.55" stroke="#a00c14" stroke-width="1.1"/>
<circle cx="671.84" cy="381.23" r="1.8" fill="#fff" fill-opacity="0.55" stroke="#a00c14" stroke-width="1.1"/>
<circle cx="672.1" cy="380.94" r="1.8" fill="#fff" fill-opacity="0.55" stroke="#a00c14" stroke-width="1.1"/>
<circle cx="672.35" cy="380.66" r="1.8" fill="#fff" fill-opacity="0.55" stroke="#a00c14" stroke-width="1.1"/>
<circle cx="672.6" cy="380.39" r="1.8" fill="#fff" fill-opacity="0.55" stroke="#a00c14" stroke-width="1.1"/>
<circle cx="672.85" cy="380.13" r="1.8" fill="#fff" fill-opacity="0.55" stroke="#a00c14" stroke-width="1.1"/>
<circle cx="673.09" cy="379.88" r="1.8" fill="#fff" fill-opacity="0.55" stroke="#a00c14" stroke-width="1.1"/>
<circle cx="673.34" cy="379.64" r="1.8" fill="#fff" fill-opacity="0.55" stroke="#a00c14" stroke-width="1.1"/>
<circle cx="673.58" cy="379.42" r="1.8" fill="#fff" fill-opacity="0.55" stroke="#a00c14" stroke-width="1.1"/>
<circle cx="673.82" cy="379.2" r="1.8" fill="#fff" fill-opacity="0.55" stroke="#a00c14" stroke-width="1.1"/>
<circle cx="674.06" cy="378.99" r="1.8" fill="#fff" fill-opacity="0.55" stroke="#a00c14" stroke-width="1.1"/>
<circle cx="674.3" cy="378.79" r="1.8" fill="#fff" fill-opacity="0.55" stroke="#a00c14" stroke-width="1.1"/>
<circle cx="674.54" cy="378.6" r="1.8" fill="#fff" fill-opacity="0.55" stroke="#a00c14" stroke-width="1.1"/>
<circle cx="674.78" cy="378.42" r="1.8" fill="#fff" fill-opacity="0.55" stroke="#a00c14" stroke-width="1.1"/>
<circle cx="675.01" cy="378.25" r="1.8" fill="#fff" fill-opacity="0.55" stroke="#a00c14" stroke-width="1.1"/>
<circle cx="675.24" cy="378.08" r="1.8" fill="#fff" fill-opacity="0.55" stroke="#a00c14" stroke-width="1.1"/>
<circle cx="675.47" cy="377.93" r="1.8" fill="#fff" fill-opacity="0.55" stroke="#a00c14" stroke-width="1.1"/>
<circle cx="675.7" cy="377.79" r="1.8" fill="#fff" fill-opacity="0.55" stroke="#a00c14" stroke-width="1.1"/>
<circle cx="675.93" cy="377.66" r="1.8" fill="#fff" fill-opacity="0.55" stroke="#a00c14" stroke-width="1.1"/>
<circle cx="676.16" cy="377.53" r="1.8" fill="#fff" fill-opacity="0.55" stroke="#a00c14" stroke-width="1.1"/>
<line x1="492.6" y1="383.5" x2="508.8" y2="383.5" stroke="#25578a" stroke-width="2.2" />
<circle cx="500.7" cy="383.5" r="1.9" fill="#fff" stroke="#25578a" stroke-width="1"/>
<text x="510.5" y="386.2" font-size="7.6" text-anchor="start" fill="#25578a" font-weight="bold" stroke="#25578a" stroke-width="0.25">Control</text>
<line x1="492.6" y1="393.6" x2="508.8" y2="393.6" stroke="#a00c14" stroke-width="2.2" />
<circle cx="500.7" cy="393.6" r="1.9" fill="#fff" stroke="#a00c14" stroke-width="1"/>
<text x="510.5" y="396.3" font-size="7.6" text-anchor="start" fill="#a00c14" font-weight="bold" stroke="#a00c14" stroke-width="0.25">Target</text>
<text x="554.8" y="469.5" font-size="7.6" text-anchor="start" fill="#a00c14" font-weight="bold" stroke="#a00c14" stroke-width="0.25">0.169 V</text>
<text x="584.7" y="501.6" font-size="7.4" text-anchor="start" fill="#25578a" font-weight="bold" stroke="#25578a" stroke-width="0.25">0.22 V</text>
<rect x="490.9" y="377.8" width="186.1" height="145.9" fill="none" stroke="#000" stroke-width="1.7"/>
</svg>
</body></html>
